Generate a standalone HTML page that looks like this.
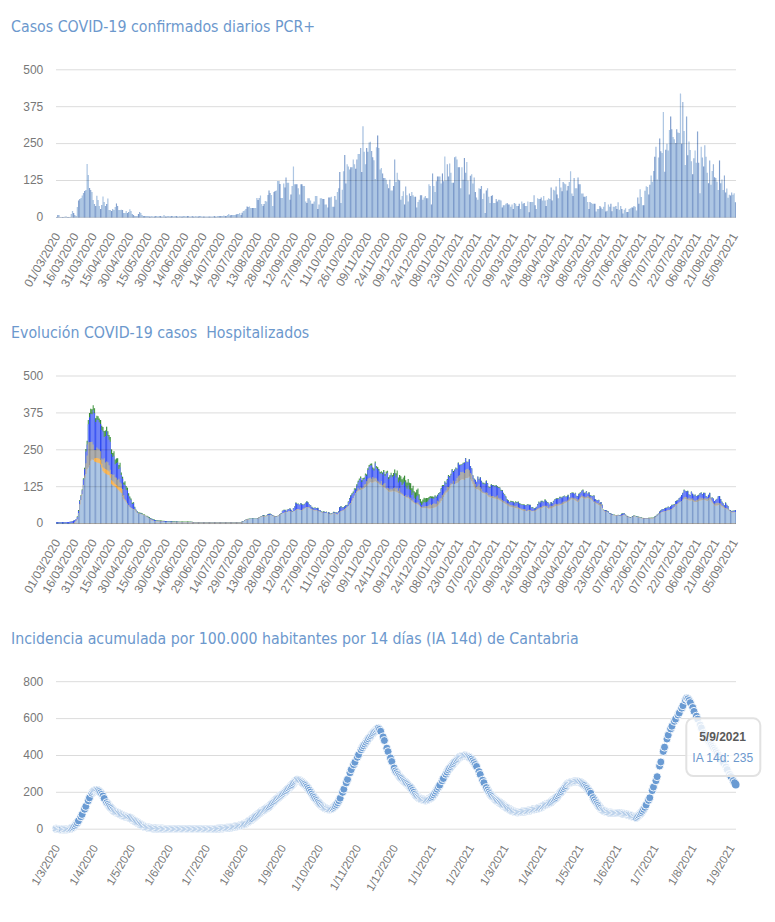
<!DOCTYPE html>
<html><head><meta charset="utf-8"><title>COVID-19 Cantabria</title>
<style>html,body{margin:0;padding:0;background:#fff;}body{width:775px;height:922px;overflow:hidden;}svg{display:block;}</style>
</head><body>
<svg width="775" height="922" viewBox="0 0 775 922">
<rect width="775" height="922" fill="#ffffff"/>
<defs><pattern id="stripes" patternUnits="userSpaceOnUse" x="7.700" y="0" width="5.43" height="922"><rect x="0" y="0" width="1.4" height="922" fill="rgba(20,60,150,0.33)"/></pattern><pattern id="sBlue" patternUnits="userSpaceOnUse" x="7.700" y="0" width="5.43" height="922"><rect x="0" y="0" width="1.4" height="922" fill="rgba(25,55,240,0.75)"/></pattern><pattern id="sGreen" patternUnits="userSpaceOnUse" x="7.700" y="0" width="5.43" height="922"><rect x="0" y="0" width="1.4" height="922" fill="rgba(30,120,30,0.6)"/></pattern><pattern id="sGrey" patternUnits="userSpaceOnUse" x="7.700" y="0" width="5.43" height="922"><rect x="0" y="0" width="1.4" height="922" fill="rgba(110,110,110,0.45)"/></pattern><pattern id="sOrange" patternUnits="userSpaceOnUse" x="7.700" y="0" width="5.43" height="922"><rect x="0" y="0" width="1.4" height="922" fill="rgba(235,150,30,0.5)"/></pattern></defs>
<text x="11.1" y="31.6" font-family="'DejaVu Sans Condensed','DejaVu Sans',sans-serif" font-size="15.77" fill="#6c98cd" style="white-space:pre;font-stretch:condensed">Casos COVID-19 confirmados diarios PCR+</text>
<path d="M56,217.4V217H57.22V215H58.44V215H59.66V217H60.88V217H62.1V217H63.32V217H64.55V216.5H65.77V216.5H66.99V217H68.21V217H69.43V217H70.65V214H71.87V211H73.09V213H74.31V215H75.53V216H76.75V207H77.97V200.6H79.2V199H80.42V198H81.64V195.5H82.86V193H84.08V191H85.3V190H86.52V164.1H87.74V175H88.96V188H90.18V190H91.4V192H92.62V200H93.85V204H95.07V206H96.29V195.7H97.51V200H98.73V206H99.95V209H101.17V205H102.39V196.4H103.61V202H104.83V206H106.05V204H107.27V198.5H108.5V210H109.72V210H110.94V211H112.16V209H113.38V210H114.6V207H115.82V203.6H117.04V206H118.26V210H119.48V210H120.7V209.7H121.92V210H123.15V213H124.37V213H125.59V211H126.81V213H128.03V212H129.25V209.3H130.47V211H131.69V214H132.91V215H134.13V216H135.35V216H136.57V216H137.8V214H139.02V212H140.24V213H141.46V215H142.68V216H143.9V216H145.12V216H146.34V216H147.56V216H148.78V216.5H150V216.5H151.22V216H152.45V216.5H153.67V216.5H154.89V216H156.11V216H157.33V216.5H158.55V216H159.77V216H160.99V216.5H162.21V216.5H163.43V215H164.65V216.5H165.87V216.5H167.1V216H168.32V216H169.54V216.5H170.76V216H171.98V216H173.2V216.5H174.42V216H175.64V216H176.86V216.5H178.08V216.5H179.3V216H180.52V216.5H181.75V216.5H182.97V216H184.19V216H185.41V216.5H186.63V216H187.85V216H189.07V216.5H190.29V216.5H191.51V216H192.73V216.5H193.95V216.5H195.17V216H196.39V216.5H197.62V216.5H198.84V216H200.06V216H201.28V216.5H202.5V216.5H203.72V216.5H204.94V216.5H206.16V216.5H207.38V216.5H208.6V216.5H209.82V216.5H211.04V216.5H212.27V216.5H213.49V216H214.71V216.5H215.93V216.5H217.15V216H218.37V216H219.59V216H220.81V216H222.03V216H223.25V215.5H224.47V216H225.69V216H226.92V215H228.14V214H229.36V215.5H230.58V215H231.8V215H233.02V215H234.24V215H235.46V214.5H236.68V214H237.9V214H239.12V213H240.34V215H241.57V212.8H242.79V211H244.01V210.4H245.23V209H246.45V206.6H247.67V207H248.89V206.6H250.11V208H251.33V208H252.55V208H253.77V208H254.99V208H256.22V198H257.44V200H258.66V198H259.88V195.4H261.1V204H262.32V206H263.54V204H264.76V201H265.98V201.4H267.2V195H268.42V190.5H269.64V193H270.87V195H272.09V206H273.31V192H274.53V191H275.75V190.5H276.97V181H278.19V181H279.41V184H280.63V198H281.85V198H283.07V183.5H284.29V187.4H285.52V177.4H286.74V182.8H287.96V182.8H289.18V199.8H290.4V194.4H291.62V185.9H292.84V166.5H294.06V184.3H295.28V184.3H296.5V184.3H297.72V188.2H298.94V194.4H300.17V184.3H301.39V184.3H302.61V185.9H303.83V185.9H305.05V201.4H306.27V203H307.49V198.3H308.71V198.3H309.93V200.6H311.15V203.7H312.37V203.7H313.59V201.4H314.82V196H316.04V196H317.26V209H318.48V204.5H319.7V198.3H320.92V198.3H322.14V199H323.36V199H324.58V204.5H325.8V204.5H327.02V207.6H328.24V197.5H329.46V197.5H330.69V196.7H331.91V206.8H333.13V206.8H334.35V196H335.57V199.8H336.79V192H338.01V188.2H339.23V172H340.45V203H341.67V189.7H342.89V171.2H344.11V154.9H345.34V183.5H346.56V164.2H347.78V166.5H349V169.6H350.22V167.3H351.44V167.3H352.66V159.6H353.88V164.2H355.1V168.8H356.32V159.6H357.54V154.1H358.76V154.1H359.99V148H361.21V172H362.43V126.3H363.65V151.8H364.87V164.2H366.09V148H367.31V151.8H368.53V142.5H369.75V141.7H370.97V151H372.19V157.2H373.41V160.3H374.64V178.9H375.86V147.2H377.08V135.5H378.3V147.9H379.52V169.6H380.74V168H381.96V173.5H383.18V178.1H384.4V178H385.62V179.7H386.84V184.3H388.06V188.2H389.29V179.7H390.51V190.5H391.73V190.5H392.95V185.9H394.17V159.6H395.39V182H396.61V172.7H397.83V179.7H399.05V180.5H400.27V199.8H401.49V196H402.71V191.3H403.94V204.5H405.16V186.6H406.38V195.2H407.6V201.4H408.82V193.6H410.04V196H411.26V192H412.48V195.2H413.7V196.7H414.92V196.7H416.14V207.6H417.36V202.1H418.59V199.8H419.81V195.2H421.03V195.2H422.25V199.8H423.47V197.5H424.69V196H425.91V198.3H427.13V198.3H428.35V184.3H429.57V185.9H430.79V204.5H432.01V173.5H433.24V185.9H434.46V192H435.68V181.2H436.9V176.6H438.12V176.6H439.34V176.6H440.56V183.5H441.78V173.5H443V181.2H444.22V156.5H445.44V180.5H446.66V164.2H447.89V176.6H449.11V163.4H450.33V172.7H451.55V182.8H452.77V182.8H453.99V157.2H455.21V156.5H456.43V159.6H457.65V167.3H458.87V167.3H460.09V188.2H461.31V167.3H462.54V179.7H463.76V158H464.98V172.7H466.2V161.9H467.42V180.5H468.64V194.4H469.86V175.8H471.08V174.3H472.3V183.5H473.52V177.4H474.74V192H475.96V197.5H477.18V199.8H478.41V188.2H479.63V189H480.85V185.9H482.07V199H483.29V193.6H484.51V213H485.73V190.5H486.95V188.2H488.17V196.7H489.39V202.9H490.61V196H491.83V195.2H493.06V202.9H494.28V202.9H495.5V199H496.72V201.4H497.94V199.8H499.16V199.8H500.38V200.6H501.6V207.6H502.82V205.2H504.04V205.2H505.26V203.7H506.48V202.9H507.71V204.5H508.93V204.5H510.15V206.8H511.37V204.5H512.59V209.1H513.81V202.9H515.03V203.7H516.25V206H517.47V206H518.69V203.7H519.91V209.1H521.13V201.4H522.36V203.7H523.58V202.9H524.8V206H526.02V206H527.24V201.4H528.46V212.2H529.68V202.1H530.9V202H532.12V202.1H533.34V195.2H534.56V205.2H535.78V209.1H537.01V198.3H538.23V199H539.45V199H540.67V197.5H541.89V200.6H543.11V196H544.33V200.6H545.55V206H546.77V199.8H547.99V198.3H549.21V199H550.43V187.4H551.66V200.6H552.88V189.7H554.1V190.5H555.32V186.6H556.54V194.4H557.76V198.3H558.98V178.1H560.2V187.4H561.42V191.3H562.64V182H563.86V183.5H565.08V184.3H566.31V190.5H567.53V185.9H568.75V182H569.97V171.2H571.19V193.6H572.41V196H573.63V178.1H574.85V188.2H576.07V188.2H577.29V177.4H578.51V184.3H579.73V184.3H580.96V193.6H582.18V193.6H583.4V196.7H584.62V196.7H585.84V196H587.06V202.1H588.28V209.1H589.5V202.1H590.72V202.9H591.94V203.7H593.16V203.7H594.38V203.7H595.61V211.4H596.83V209.1H598.05V209.1H599.27V206H600.49V207.6H601.71V209.1H602.93V206.8H604.15V202.1H605.37V211.4H606.59V210.7H607.81V204.5H609.03V206.8H610.25V203.7H611.48V211.3H612.7V206.8H613.92V206.8H615.14V206H616.36V209H617.58V202.2H618.8V209.8H620.02V206H621.24V209H622.46V213.6H623.68V209.8H624.9V208.3H626.13V212H627.35V212H628.57V209H629.79V208.3H631.01V207.5H632.23V207.5H633.45V206H634.67V206.8H635.89V210.5H637.11V197.6H638.33V203.7H639.55V189.3H640.78V196.9H642V205.2H643.22V205.2H644.44V190.8H645.66V186.3H646.88V187H648.1V194.6H649.32V184.7H650.54V175.6H651.76V181.7H652.98V171.1H654.2V156.7H655.43V146.8H656.65V179.4H657.87V157.4H659.09V138.4H660.31V151.3H661.53V152.9H662.75V111.9H663.97V171.8H665.19V149.8H666.41V143.8H667.63V150.6H668.85V130H670.08V116.4H671.3V129.3H672.52V136.9H673.74V139.2H674.96V143H676.18V129.3H677.4V132.4H678.62V133.1H679.84V93.5H681.06V143.8H682.28V102H683.5V131H684.73V165H685.95V116.5H687.17V155.2H688.39V141.5H689.61V149.9H690.83V161.3H692.05V174.2H693.27V158.2H694.49V150.6H695.71V162.8H696.93V131.6H698.15V162.8H699.38V193.2H700.6V146.8H701.82V157.5H703.04V166.6H704.26V145.3H705.48V156.7H706.7V172.7H707.92V183.3H709.14V160.5H710.36V184.8H711.58V171.1H712.8V164.3H714.03V177.2H715.25V178H716.47V181.8H717.69V190.1H718.91V160.5H720.13V183.3H721.35V179.5H722.57V190.1H723.79V175.4H725.01V192.4H726.23V188.6H727.45V197.7H728.68V194.7H729.9V195.4H731.12V192.4H732.34V194.7H733.56V193.2H734.78V202.3H736V217.4Z" fill="#adc6e3"/>
<path d="M56,217.4V217H57.22V215H58.44V215H59.66V217H60.88V217H62.1V217H63.32V217H64.55V216.5H65.77V216.5H66.99V217H68.21V217H69.43V217H70.65V214H71.87V211H73.09V213H74.31V215H75.53V216H76.75V207H77.97V200.6H79.2V199H80.42V198H81.64V195.5H82.86V193H84.08V191H85.3V190H86.52V164.1H87.74V175H88.96V188H90.18V190H91.4V192H92.62V200H93.85V204H95.07V206H96.29V195.7H97.51V200H98.73V206H99.95V209H101.17V205H102.39V196.4H103.61V202H104.83V206H106.05V204H107.27V198.5H108.5V210H109.72V210H110.94V211H112.16V209H113.38V210H114.6V207H115.82V203.6H117.04V206H118.26V210H119.48V210H120.7V209.7H121.92V210H123.15V213H124.37V213H125.59V211H126.81V213H128.03V212H129.25V209.3H130.47V211H131.69V214H132.91V215H134.13V216H135.35V216H136.57V216H137.8V214H139.02V212H140.24V213H141.46V215H142.68V216H143.9V216H145.12V216H146.34V216H147.56V216H148.78V216.5H150V216.5H151.22V216H152.45V216.5H153.67V216.5H154.89V216H156.11V216H157.33V216.5H158.55V216H159.77V216H160.99V216.5H162.21V216.5H163.43V215H164.65V216.5H165.87V216.5H167.1V216H168.32V216H169.54V216.5H170.76V216H171.98V216H173.2V216.5H174.42V216H175.64V216H176.86V216.5H178.08V216.5H179.3V216H180.52V216.5H181.75V216.5H182.97V216H184.19V216H185.41V216.5H186.63V216H187.85V216H189.07V216.5H190.29V216.5H191.51V216H192.73V216.5H193.95V216.5H195.17V216H196.39V216.5H197.62V216.5H198.84V216H200.06V216H201.28V216.5H202.5V216.5H203.72V216.5H204.94V216.5H206.16V216.5H207.38V216.5H208.6V216.5H209.82V216.5H211.04V216.5H212.27V216.5H213.49V216H214.71V216.5H215.93V216.5H217.15V216H218.37V216H219.59V216H220.81V216H222.03V216H223.25V215.5H224.47V216H225.69V216H226.92V215H228.14V214H229.36V215.5H230.58V215H231.8V215H233.02V215H234.24V215H235.46V214.5H236.68V214H237.9V214H239.12V213H240.34V215H241.57V212.8H242.79V211H244.01V210.4H245.23V209H246.45V206.6H247.67V207H248.89V206.6H250.11V208H251.33V208H252.55V208H253.77V208H254.99V208H256.22V198H257.44V200H258.66V198H259.88V195.4H261.1V204H262.32V206H263.54V204H264.76V201H265.98V201.4H267.2V195H268.42V190.5H269.64V193H270.87V195H272.09V206H273.31V192H274.53V191H275.75V190.5H276.97V181H278.19V181H279.41V184H280.63V198H281.85V198H283.07V183.5H284.29V187.4H285.52V177.4H286.74V182.8H287.96V182.8H289.18V199.8H290.4V194.4H291.62V185.9H292.84V166.5H294.06V184.3H295.28V184.3H296.5V184.3H297.72V188.2H298.94V194.4H300.17V184.3H301.39V184.3H302.61V185.9H303.83V185.9H305.05V201.4H306.27V203H307.49V198.3H308.71V198.3H309.93V200.6H311.15V203.7H312.37V203.7H313.59V201.4H314.82V196H316.04V196H317.26V209H318.48V204.5H319.7V198.3H320.92V198.3H322.14V199H323.36V199H324.58V204.5H325.8V204.5H327.02V207.6H328.24V197.5H329.46V197.5H330.69V196.7H331.91V206.8H333.13V206.8H334.35V196H335.57V199.8H336.79V192H338.01V188.2H339.23V172H340.45V203H341.67V189.7H342.89V171.2H344.11V154.9H345.34V183.5H346.56V164.2H347.78V166.5H349V169.6H350.22V167.3H351.44V167.3H352.66V159.6H353.88V164.2H355.1V168.8H356.32V159.6H357.54V154.1H358.76V154.1H359.99V148H361.21V172H362.43V126.3H363.65V151.8H364.87V164.2H366.09V148H367.31V151.8H368.53V142.5H369.75V141.7H370.97V151H372.19V157.2H373.41V160.3H374.64V178.9H375.86V147.2H377.08V135.5H378.3V147.9H379.52V169.6H380.74V168H381.96V173.5H383.18V178.1H384.4V178H385.62V179.7H386.84V184.3H388.06V188.2H389.29V179.7H390.51V190.5H391.73V190.5H392.95V185.9H394.17V159.6H395.39V182H396.61V172.7H397.83V179.7H399.05V180.5H400.27V199.8H401.49V196H402.71V191.3H403.94V204.5H405.16V186.6H406.38V195.2H407.6V201.4H408.82V193.6H410.04V196H411.26V192H412.48V195.2H413.7V196.7H414.92V196.7H416.14V207.6H417.36V202.1H418.59V199.8H419.81V195.2H421.03V195.2H422.25V199.8H423.47V197.5H424.69V196H425.91V198.3H427.13V198.3H428.35V184.3H429.57V185.9H430.79V204.5H432.01V173.5H433.24V185.9H434.46V192H435.68V181.2H436.9V176.6H438.12V176.6H439.34V176.6H440.56V183.5H441.78V173.5H443V181.2H444.22V156.5H445.44V180.5H446.66V164.2H447.89V176.6H449.11V163.4H450.33V172.7H451.55V182.8H452.77V182.8H453.99V157.2H455.21V156.5H456.43V159.6H457.65V167.3H458.87V167.3H460.09V188.2H461.31V167.3H462.54V179.7H463.76V158H464.98V172.7H466.2V161.9H467.42V180.5H468.64V194.4H469.86V175.8H471.08V174.3H472.3V183.5H473.52V177.4H474.74V192H475.96V197.5H477.18V199.8H478.41V188.2H479.63V189H480.85V185.9H482.07V199H483.29V193.6H484.51V213H485.73V190.5H486.95V188.2H488.17V196.7H489.39V202.9H490.61V196H491.83V195.2H493.06V202.9H494.28V202.9H495.5V199H496.72V201.4H497.94V199.8H499.16V199.8H500.38V200.6H501.6V207.6H502.82V205.2H504.04V205.2H505.26V203.7H506.48V202.9H507.71V204.5H508.93V204.5H510.15V206.8H511.37V204.5H512.59V209.1H513.81V202.9H515.03V203.7H516.25V206H517.47V206H518.69V203.7H519.91V209.1H521.13V201.4H522.36V203.7H523.58V202.9H524.8V206H526.02V206H527.24V201.4H528.46V212.2H529.68V202.1H530.9V202H532.12V202.1H533.34V195.2H534.56V205.2H535.78V209.1H537.01V198.3H538.23V199H539.45V199H540.67V197.5H541.89V200.6H543.11V196H544.33V200.6H545.55V206H546.77V199.8H547.99V198.3H549.21V199H550.43V187.4H551.66V200.6H552.88V189.7H554.1V190.5H555.32V186.6H556.54V194.4H557.76V198.3H558.98V178.1H560.2V187.4H561.42V191.3H562.64V182H563.86V183.5H565.08V184.3H566.31V190.5H567.53V185.9H568.75V182H569.97V171.2H571.19V193.6H572.41V196H573.63V178.1H574.85V188.2H576.07V188.2H577.29V177.4H578.51V184.3H579.73V184.3H580.96V193.6H582.18V193.6H583.4V196.7H584.62V196.7H585.84V196H587.06V202.1H588.28V209.1H589.5V202.1H590.72V202.9H591.94V203.7H593.16V203.7H594.38V203.7H595.61V211.4H596.83V209.1H598.05V209.1H599.27V206H600.49V207.6H601.71V209.1H602.93V206.8H604.15V202.1H605.37V211.4H606.59V210.7H607.81V204.5H609.03V206.8H610.25V203.7H611.48V211.3H612.7V206.8H613.92V206.8H615.14V206H616.36V209H617.58V202.2H618.8V209.8H620.02V206H621.24V209H622.46V213.6H623.68V209.8H624.9V208.3H626.13V212H627.35V212H628.57V209H629.79V208.3H631.01V207.5H632.23V207.5H633.45V206H634.67V206.8H635.89V210.5H637.11V197.6H638.33V203.7H639.55V189.3H640.78V196.9H642V205.2H643.22V205.2H644.44V190.8H645.66V186.3H646.88V187H648.1V194.6H649.32V184.7H650.54V175.6H651.76V181.7H652.98V171.1H654.2V156.7H655.43V146.8H656.65V179.4H657.87V157.4H659.09V138.4H660.31V151.3H661.53V152.9H662.75V111.9H663.97V171.8H665.19V149.8H666.41V143.8H667.63V150.6H668.85V130H670.08V116.4H671.3V129.3H672.52V136.9H673.74V139.2H674.96V143H676.18V129.3H677.4V132.4H678.62V133.1H679.84V93.5H681.06V143.8H682.28V102H683.5V131H684.73V165H685.95V116.5H687.17V155.2H688.39V141.5H689.61V149.9H690.83V161.3H692.05V174.2H693.27V158.2H694.49V150.6H695.71V162.8H696.93V131.6H698.15V162.8H699.38V193.2H700.6V146.8H701.82V157.5H703.04V166.6H704.26V145.3H705.48V156.7H706.7V172.7H707.92V183.3H709.14V160.5H710.36V184.8H711.58V171.1H712.8V164.3H714.03V177.2H715.25V178H716.47V181.8H717.69V190.1H718.91V160.5H720.13V183.3H721.35V179.5H722.57V190.1H723.79V175.4H725.01V192.4H726.23V188.6H727.45V197.7H728.68V194.7H729.9V195.4H731.12V192.4H732.34V194.7H733.56V193.2H734.78V202.3H736V217.4Z" fill="url(#stripes)"/>
<line x1="56" y1="69.8" x2="736" y2="69.8" stroke="rgba(0,0,0,0.14)" stroke-width="1"/>
<line x1="56" y1="106.7" x2="736" y2="106.7" stroke="rgba(0,0,0,0.14)" stroke-width="1"/>
<line x1="56" y1="143.6" x2="736" y2="143.6" stroke="rgba(0,0,0,0.14)" stroke-width="1"/>
<line x1="56" y1="180.5" x2="736" y2="180.5" stroke="rgba(0,0,0,0.14)" stroke-width="1"/>
<line x1="56" y1="217.4" x2="736" y2="217.4" stroke="rgba(0,0,0,0.14)" stroke-width="1"/>
<text x="43.3" y="73.6" text-anchor="end" font-family="'Liberation Sans',Arial,sans-serif" font-size="12" fill="#787878">500</text>
<text x="43.3" y="110.5" text-anchor="end" font-family="'Liberation Sans',Arial,sans-serif" font-size="12" fill="#787878">375</text>
<text x="43.3" y="147.4" text-anchor="end" font-family="'Liberation Sans',Arial,sans-serif" font-size="12" fill="#787878">250</text>
<text x="43.3" y="184.3" text-anchor="end" font-family="'Liberation Sans',Arial,sans-serif" font-size="12" fill="#787878">125</text>
<text x="43.3" y="221.2" text-anchor="end" font-family="'Liberation Sans',Arial,sans-serif" font-size="12" fill="#787878">0</text>
<text transform="translate(60.8,236) rotate(-60)" text-anchor="end" font-family="'Liberation Sans',Arial,sans-serif" font-size="12" fill="#787878">01/03/2020</text>
<text transform="translate(79.11,236) rotate(-60)" text-anchor="end" font-family="'Liberation Sans',Arial,sans-serif" font-size="12" fill="#787878">16/03/2020</text>
<text transform="translate(97.42,236) rotate(-60)" text-anchor="end" font-family="'Liberation Sans',Arial,sans-serif" font-size="12" fill="#787878">31/03/2020</text>
<text transform="translate(115.73,236) rotate(-60)" text-anchor="end" font-family="'Liberation Sans',Arial,sans-serif" font-size="12" fill="#787878">15/04/2020</text>
<text transform="translate(134.04,236) rotate(-60)" text-anchor="end" font-family="'Liberation Sans',Arial,sans-serif" font-size="12" fill="#787878">30/04/2020</text>
<text transform="translate(152.35,236) rotate(-60)" text-anchor="end" font-family="'Liberation Sans',Arial,sans-serif" font-size="12" fill="#787878">15/05/2020</text>
<text transform="translate(170.66,236) rotate(-60)" text-anchor="end" font-family="'Liberation Sans',Arial,sans-serif" font-size="12" fill="#787878">30/05/2020</text>
<text transform="translate(188.97,236) rotate(-60)" text-anchor="end" font-family="'Liberation Sans',Arial,sans-serif" font-size="12" fill="#787878">14/06/2020</text>
<text transform="translate(207.28,236) rotate(-60)" text-anchor="end" font-family="'Liberation Sans',Arial,sans-serif" font-size="12" fill="#787878">29/06/2020</text>
<text transform="translate(225.59,236) rotate(-60)" text-anchor="end" font-family="'Liberation Sans',Arial,sans-serif" font-size="12" fill="#787878">14/07/2020</text>
<text transform="translate(243.9,236) rotate(-60)" text-anchor="end" font-family="'Liberation Sans',Arial,sans-serif" font-size="12" fill="#787878">29/07/2020</text>
<text transform="translate(262.21,236) rotate(-60)" text-anchor="end" font-family="'Liberation Sans',Arial,sans-serif" font-size="12" fill="#787878">13/08/2020</text>
<text transform="translate(280.52,236) rotate(-60)" text-anchor="end" font-family="'Liberation Sans',Arial,sans-serif" font-size="12" fill="#787878">28/08/2020</text>
<text transform="translate(298.83,236) rotate(-60)" text-anchor="end" font-family="'Liberation Sans',Arial,sans-serif" font-size="12" fill="#787878">12/09/2020</text>
<text transform="translate(317.14,236) rotate(-60)" text-anchor="end" font-family="'Liberation Sans',Arial,sans-serif" font-size="12" fill="#787878">27/09/2020</text>
<text transform="translate(335.45,236) rotate(-60)" text-anchor="end" font-family="'Liberation Sans',Arial,sans-serif" font-size="12" fill="#787878">11/10/2020</text>
<text transform="translate(353.76,236) rotate(-60)" text-anchor="end" font-family="'Liberation Sans',Arial,sans-serif" font-size="12" fill="#787878">26/10/2020</text>
<text transform="translate(372.07,236) rotate(-60)" text-anchor="end" font-family="'Liberation Sans',Arial,sans-serif" font-size="12" fill="#787878">09/11/2020</text>
<text transform="translate(390.38,236) rotate(-60)" text-anchor="end" font-family="'Liberation Sans',Arial,sans-serif" font-size="12" fill="#787878">24/11/2020</text>
<text transform="translate(408.69,236) rotate(-60)" text-anchor="end" font-family="'Liberation Sans',Arial,sans-serif" font-size="12" fill="#787878">09/12/2020</text>
<text transform="translate(427,236) rotate(-60)" text-anchor="end" font-family="'Liberation Sans',Arial,sans-serif" font-size="12" fill="#787878">24/12/2020</text>
<text transform="translate(445.31,236) rotate(-60)" text-anchor="end" font-family="'Liberation Sans',Arial,sans-serif" font-size="12" fill="#787878">08/01/2021</text>
<text transform="translate(463.62,236) rotate(-60)" text-anchor="end" font-family="'Liberation Sans',Arial,sans-serif" font-size="12" fill="#787878">23/01/2021</text>
<text transform="translate(481.93,236) rotate(-60)" text-anchor="end" font-family="'Liberation Sans',Arial,sans-serif" font-size="12" fill="#787878">07/02/2021</text>
<text transform="translate(500.24,236) rotate(-60)" text-anchor="end" font-family="'Liberation Sans',Arial,sans-serif" font-size="12" fill="#787878">22/02/2021</text>
<text transform="translate(518.55,236) rotate(-60)" text-anchor="end" font-family="'Liberation Sans',Arial,sans-serif" font-size="12" fill="#787878">09/03/2021</text>
<text transform="translate(536.86,236) rotate(-60)" text-anchor="end" font-family="'Liberation Sans',Arial,sans-serif" font-size="12" fill="#787878">24/03/2021</text>
<text transform="translate(555.17,236) rotate(-60)" text-anchor="end" font-family="'Liberation Sans',Arial,sans-serif" font-size="12" fill="#787878">08/04/2021</text>
<text transform="translate(573.48,236) rotate(-60)" text-anchor="end" font-family="'Liberation Sans',Arial,sans-serif" font-size="12" fill="#787878">23/04/2021</text>
<text transform="translate(591.79,236) rotate(-60)" text-anchor="end" font-family="'Liberation Sans',Arial,sans-serif" font-size="12" fill="#787878">08/05/2021</text>
<text transform="translate(610.1,236) rotate(-60)" text-anchor="end" font-family="'Liberation Sans',Arial,sans-serif" font-size="12" fill="#787878">23/05/2021</text>
<text transform="translate(628.41,236) rotate(-60)" text-anchor="end" font-family="'Liberation Sans',Arial,sans-serif" font-size="12" fill="#787878">07/06/2021</text>
<text transform="translate(646.72,236) rotate(-60)" text-anchor="end" font-family="'Liberation Sans',Arial,sans-serif" font-size="12" fill="#787878">22/06/2021</text>
<text transform="translate(665.03,236) rotate(-60)" text-anchor="end" font-family="'Liberation Sans',Arial,sans-serif" font-size="12" fill="#787878">07/07/2021</text>
<text transform="translate(683.34,236) rotate(-60)" text-anchor="end" font-family="'Liberation Sans',Arial,sans-serif" font-size="12" fill="#787878">22/07/2021</text>
<text transform="translate(701.65,236) rotate(-60)" text-anchor="end" font-family="'Liberation Sans',Arial,sans-serif" font-size="12" fill="#787878">06/08/2021</text>
<text transform="translate(719.96,236) rotate(-60)" text-anchor="end" font-family="'Liberation Sans',Arial,sans-serif" font-size="12" fill="#787878">21/08/2021</text>
<text transform="translate(738.27,236) rotate(-60)" text-anchor="end" font-family="'Liberation Sans',Arial,sans-serif" font-size="12" fill="#787878">05/09/2021</text>
<text x="11.1" y="337.7" font-family="'DejaVu Sans Condensed','DejaVu Sans',sans-serif" font-size="15.77" fill="#6c98cd" style="white-space:pre;font-stretch:condensed">Evolución COVID-19 casos  Hospitalizados</text>
<path d="M56,523.6V522.3H57.22V522.3H58.44V522.3H59.66V522.29H60.88V522.27H62.1V522.25H63.32V522.22H64.55V522.19H65.77V522.09H66.99V521.99H68.21V521.89H69.43V521.79H70.65V521.46H71.87V521.14H73.09V520.65H74.31V520.04H75.53V519.12H76.75V516.22H77.97V509.96H79.2V499.94H80.42V494.97H81.64V489.3H82.86V478.2H84.08V467.72H85.3V448.97H86.52V440.7H87.74V419.95H88.96V412.95H90.18V408.87H91.4V409.31H92.62V405.36H93.85V408.33H95.07V418.22H96.29V415.64H97.51V416.24H98.73V418.39H99.95V419.94H101.17V425.74H102.39V426.99H103.61V431.01H104.83V430.59H106.05V426.77H107.27V431.17H108.5V434.96H109.72V436.95H110.94V449.39H112.16V453.02H113.38V451.25H114.6V459.52H115.82V458.57H117.04V458.31H118.26V464.89H119.48V462.85H120.7V472.45H121.92V476.85H123.15V482.56H124.37V481.23H125.59V485.91H126.81V487.71H128.03V493.3H129.25V496.49H130.47V498.43H131.69V502.76H132.91V502.27H134.13V506.69H135.35V509.6H136.57V511.03H137.8V512.42H139.02V512.5H140.24V512.73H141.46V513.1H142.68V514.39H143.9V514.46H145.12V515.71H146.34V515.78H147.56V516.62H148.78V517.37H150V517.92H151.22V518.46H152.45V518.97H153.67V519.43H154.89V519.9H156.11V520.23H157.33V520.32H158.55V520.41H159.77V520.5H160.99V520.59H162.21V520.71H163.43V520.82H164.65V520.94H165.87V521.05H167.1V521.13H168.32V521.17H169.54V521.21H170.76V521.26H171.98V521.3H173.2V521.33H174.42V521.37H175.64V521.4H176.86V521.43H178.08V521.47H179.3V521.5H180.52V521.5H181.75V521.5H182.97V521.5H184.19V521.5H185.41V521.5H186.63V521.5H187.85V521.5H189.07V521.5H190.29V521.56H191.51V521.81H192.73V522.06H193.95V522.2H195.17V522.2H196.39V522.2H197.62V522.2H198.84V522.2H200.06V522.2H201.28V522.2H202.5V522.2H203.72V522.2H204.94V522.2H206.16V522.2H207.38V522.2H208.6V522.2H209.82V522.2H211.04V522.2H212.27V522.2H213.49V522.2H214.71V522.2H215.93V522.2H217.15V522.2H218.37V522.2H219.59V522.2H220.81V522.2H222.03V522.2H223.25V522.2H224.47V522.2H225.69V522.2H226.92V522.2H228.14V522.2H229.36V522.2H230.58V522.2H231.8V522.2H233.02V522.2H234.24V522.2H235.46V522.2H236.68V522.2H237.9V522.2H239.12V522.2H240.34V522.2H241.57V521.55H242.79V520.88H244.01V520.2H245.23V519.52H246.45V519.01H247.67V518.75H248.89V518.5H250.11V518.4H251.33V518.4H252.55V518.4H253.77V518.4H254.99V518.4H256.22V518.4H257.44V517.95H258.66V517.11H259.88V516.41H261.1V515.93H262.32V515.1H263.54V515.34H264.76V515.69H265.98V515.45H267.2V514H268.42V513.85H269.64V513.5H270.87V514.25H272.09V514.97H273.31V515.63H274.53V515.92H275.75V516.22H276.97V515.63H278.19V514.89H279.41V514.04H280.63V513.06H281.85V510.57H283.07V509.67H284.29V509.84H285.52V511.18H286.74V509.42H287.96V508.94H289.18V508.26H290.4V509.85H291.62V511.08H292.84V507.96H294.06V506.34H295.28V502.59H296.5V503.74H297.72V503.38H298.94V504.44H300.17V503.09H301.39V504.31H302.61V504.46H303.83V503.66H305.05V502.56H306.27V501.35H307.49V502.34H308.71V504.27H309.93V504.88H311.15V506.8H312.37V508.26H313.59V507.54H314.82V507.51H316.04V507.99H317.26V507.86H318.48V509.88H319.7V510.03H320.92V511.36H322.14V511.72H323.36V511.37H324.58V511.98H325.8V511.59H327.02V512.8H328.24V512.3H329.46V513.6H330.69V513.29H331.91V512.84H333.13V511.83H334.35V512.49H335.57V512.24H336.79V512.52H338.01V511.02H339.23V507.01H340.45V506.03H341.67V507.28H342.89V507.09H344.11V506.25H345.34V504.98H346.56V504.86H347.78V501.16H349V497.91H350.22V495.35H351.44V493.18H352.66V491.49H353.88V488.21H355.1V488.45H356.32V484.16H357.54V480.63H358.76V478.43H359.99V476.43H361.21V480.3H362.43V478.05H363.65V477.39H364.87V473.6H366.09V474.44H367.31V468.27H368.53V464.95H369.75V463.73H370.97V463.6H372.19V467.51H373.41V468.58H374.64V461.38H375.86V466.09H377.08V467.26H378.3V469.04H379.52V472.07H380.74V471.17H381.96V472.61H383.18V470.12H384.4V474H385.62V471.62H386.84V470.64H388.06V477.14H389.29V475.37H390.51V472.84H391.73V474.9H392.95V472.9H394.17V469.44H395.39V473.13H396.61V470.57H397.83V477.49H399.05V475.11H400.27V476.31H401.49V479.27H402.71V477.57H403.94V475.82H405.16V480.24H406.38V482.38H407.6V478.91H408.82V482.79H410.04V483.33H411.26V488.24H412.48V485.74H413.7V491.16H414.92V492.53H416.14V489.73H417.36V488.6H418.59V494.17H419.81V498.94H421.03V501.39H422.25V499.53H423.47V497.75H424.69V498.37H425.91V498.06H427.13V497.92H428.35V497.04H429.57V496.07H430.79V496.6H432.01V496.62H433.24V496.85H434.46V495.15H435.68V496.56H436.9V494.84H438.12V492.91H439.34V491.9H440.56V488H441.78V485.21H443V484.96H444.22V481.36H445.44V482.75H446.66V478.94H447.89V475.04H449.11V476.11H450.33V473.69H451.55V469.08H452.77V470.98H453.99V469.6H455.21V467.38H456.43V468.45H457.65V462.62H458.87V464.64H460.09V464.61H461.31V464.17H462.54V462.73H463.76V462.41H464.98V458H466.2V461.42H467.42V461.7H468.64V459.14H469.86V465.92H471.08V468.25H472.3V475.18H473.52V478.6H474.74V479.85H475.96V481.68H477.18V476.44H478.41V479.3H479.63V477.24H480.85V480.83H482.07V482.61H483.29V482.87H484.51V483.56H485.73V480.49H486.95V483.05H488.17V486.52H489.39V487.12H490.61V484.22H491.83V485H493.06V484.89H494.28V485.65H495.5V484.9H496.72V486.35H497.94V486.91H499.16V487.24H500.38V489.81H501.6V489.92H502.82V492.65H504.04V494.29H505.26V496.37H506.48V499.26H507.71V500.16H508.93V501.7H510.15V500.79H511.37V500.93H512.59V501.43H513.81V502.59H515.03V501.33H516.25V502.06H517.47V501.51H518.69V503.36H519.91V503.49H521.13V504.13H522.36V504.24H523.58V504.47H524.8V505.15H526.02V504.75H527.24V504.08H528.46V504.65H529.68V504.72H530.9V507.19H532.12V506.93H533.34V508.62H534.56V508.02H535.78V506.64H537.01V504.11H538.23V501.48H539.45V502.7H540.67V500.81H541.89V500.83H543.11V501.54H544.33V499.29H545.55V500.83H546.77V501.9H547.99V502.56H549.21V504.41H550.43V502.05H551.66V503.31H552.88V500.83H554.1V499.22H555.32V498.55H556.54V498.18H557.76V498.37H558.98V496.81H560.2V496.85H561.42V497.68H562.64V496.24H563.86V495.5H565.08V496.39H566.31V496.37H567.53V494.84H568.75V497.55H569.97V492.91H571.19V492.38H572.41V492.49H573.63V493.7H574.85V492.64H576.07V495.78H577.29V496.02H578.51V493.55H579.73V492.28H580.96V490.47H582.18V489.48H583.4V492.8H584.62V492.48H585.84V491H587.06V493.47H588.28V492.25H589.5V494.94H590.72V495.45H591.94V495.74H593.16V495.32H594.38V498.93H595.61V499.69H596.83V500.34H598.05V499.69H599.27V502.92H600.49V501.93H601.71V504.59H602.93V509.52H604.15V509.95H605.37V509.92H606.59V510.75H607.81V511.26H609.03V512.98H610.25V513.43H611.48V514.01H612.7V514.48H613.92V514.59H615.14V515.13H616.36V514.96H617.58V514.72H618.8V515.17H620.02V514.68H621.24V513.61H622.46V513.24H623.68V512.88H624.9V514.48H626.13V515.66H627.35V516.45H628.57V516.78H629.79V517.12H631.01V516.74H632.23V516.13H633.45V515.36H634.67V515.79H635.89V516.08H637.11V516.39H638.33V516.71H639.55V517.03H640.78V517.34H642V517.63H643.22V517.91H644.44V518H645.66V518H646.88V518H648.1V517.85H649.32V517.71H650.54V517.6H651.76V517.6H652.98V517.53H654.2V516.61H655.43V515.7H656.65V514.46H657.87V513.49H659.09V511.48H660.31V510.36H661.53V508.96H662.75V508.96H663.97V508.35H665.19V507.72H666.41V507.54H667.63V506.39H668.85V507.14H670.08V506.2H671.3V504.77H672.52V504.52H673.74V504.04H674.96V501.01H676.18V500.53H677.4V499.7H678.62V497.95H679.84V496.69H681.06V495.04H682.28V492.63H683.5V489.62H684.73V490.72H685.95V491.23H687.17V490.77H688.39V494.27H689.61V495.09H690.83V491.39H692.05V493.64H693.27V495.55H694.49V494.4H695.71V495.93H696.93V495.6H698.15V494.73H699.38V493.06H700.6V492.33H701.82V493.99H703.04V492.72H704.26V492.82H705.48V496.01H706.7V496.72H707.92V494.77H709.14V492.7H710.36V497.68H711.58V497.26H712.8V498.38H714.03V500.93H715.25V499.7H716.47V498.7H717.69V496.2H718.91V495.97H720.13V498.92H721.35V501.58H722.57V503.28H723.79V505.24H725.01V502.59H726.23V504.65H727.45V506.11H728.68V509.7H729.9V510.19H731.12V511.27H732.34V510.58H733.56V510.42H734.78V509.98H736V523.6Z" fill="#5ea65e"/>
<path d="M56,523.6V522.3H57.22V522.3H58.44V522.3H59.66V522.29H60.88V522.27H62.1V522.25H63.32V522.22H64.55V522.19H65.77V522.09H66.99V521.99H68.21V521.89H69.43V521.79H70.65V521.46H71.87V521.14H73.09V520.65H74.31V520.04H75.53V519.12H76.75V516.22H77.97V509.96H79.2V499.94H80.42V494.97H81.64V489.3H82.86V478.2H84.08V467.72H85.3V448.97H86.52V440.7H87.74V419.95H88.96V412.95H90.18V408.87H91.4V409.31H92.62V405.36H93.85V408.33H95.07V418.22H96.29V415.64H97.51V416.24H98.73V418.39H99.95V419.94H101.17V425.74H102.39V426.99H103.61V431.01H104.83V430.59H106.05V426.77H107.27V431.17H108.5V434.96H109.72V436.95H110.94V449.39H112.16V453.02H113.38V451.25H114.6V459.52H115.82V458.57H117.04V458.31H118.26V464.89H119.48V462.85H120.7V472.45H121.92V476.85H123.15V482.56H124.37V481.23H125.59V485.91H126.81V487.71H128.03V493.3H129.25V496.49H130.47V498.43H131.69V502.76H132.91V502.27H134.13V506.69H135.35V509.6H136.57V511.03H137.8V512.42H139.02V512.5H140.24V512.73H141.46V513.1H142.68V514.39H143.9V514.46H145.12V515.71H146.34V515.78H147.56V516.62H148.78V517.37H150V517.92H151.22V518.46H152.45V518.97H153.67V519.43H154.89V519.9H156.11V520.23H157.33V520.32H158.55V520.41H159.77V520.5H160.99V520.59H162.21V520.71H163.43V520.82H164.65V520.94H165.87V521.05H167.1V521.13H168.32V521.17H169.54V521.21H170.76V521.26H171.98V521.3H173.2V521.33H174.42V521.37H175.64V521.4H176.86V521.43H178.08V521.47H179.3V521.5H180.52V521.5H181.75V521.5H182.97V521.5H184.19V521.5H185.41V521.5H186.63V521.5H187.85V521.5H189.07V521.5H190.29V521.56H191.51V521.81H192.73V522.06H193.95V522.2H195.17V522.2H196.39V522.2H197.62V522.2H198.84V522.2H200.06V522.2H201.28V522.2H202.5V522.2H203.72V522.2H204.94V522.2H206.16V522.2H207.38V522.2H208.6V522.2H209.82V522.2H211.04V522.2H212.27V522.2H213.49V522.2H214.71V522.2H215.93V522.2H217.15V522.2H218.37V522.2H219.59V522.2H220.81V522.2H222.03V522.2H223.25V522.2H224.47V522.2H225.69V522.2H226.92V522.2H228.14V522.2H229.36V522.2H230.58V522.2H231.8V522.2H233.02V522.2H234.24V522.2H235.46V522.2H236.68V522.2H237.9V522.2H239.12V522.2H240.34V522.2H241.57V521.55H242.79V520.88H244.01V520.2H245.23V519.52H246.45V519.01H247.67V518.75H248.89V518.5H250.11V518.4H251.33V518.4H252.55V518.4H253.77V518.4H254.99V518.4H256.22V518.4H257.44V517.95H258.66V517.11H259.88V516.41H261.1V515.93H262.32V515.1H263.54V515.34H264.76V515.69H265.98V515.45H267.2V514H268.42V513.85H269.64V513.5H270.87V514.25H272.09V514.97H273.31V515.63H274.53V515.92H275.75V516.22H276.97V515.63H278.19V514.89H279.41V514.04H280.63V513.06H281.85V510.57H283.07V509.67H284.29V509.84H285.52V511.18H286.74V509.42H287.96V508.94H289.18V508.26H290.4V509.85H291.62V511.08H292.84V507.96H294.06V506.34H295.28V502.59H296.5V503.74H297.72V503.38H298.94V504.44H300.17V503.09H301.39V504.31H302.61V504.46H303.83V503.66H305.05V502.56H306.27V501.35H307.49V502.34H308.71V504.27H309.93V504.88H311.15V506.8H312.37V508.26H313.59V507.54H314.82V507.51H316.04V507.99H317.26V507.86H318.48V509.88H319.7V510.03H320.92V511.36H322.14V511.72H323.36V511.37H324.58V511.98H325.8V511.59H327.02V512.8H328.24V512.3H329.46V513.6H330.69V513.29H331.91V512.84H333.13V511.83H334.35V512.49H335.57V512.24H336.79V512.52H338.01V511.02H339.23V507.01H340.45V506.03H341.67V507.28H342.89V507.09H344.11V506.25H345.34V504.98H346.56V504.86H347.78V501.16H349V497.91H350.22V495.35H351.44V493.18H352.66V491.49H353.88V488.21H355.1V488.45H356.32V484.16H357.54V480.63H358.76V478.43H359.99V476.43H361.21V480.3H362.43V478.05H363.65V477.39H364.87V473.6H366.09V474.44H367.31V468.27H368.53V464.95H369.75V463.73H370.97V463.6H372.19V467.51H373.41V468.58H374.64V461.38H375.86V466.09H377.08V467.26H378.3V469.04H379.52V472.07H380.74V471.17H381.96V472.61H383.18V470.12H384.4V474H385.62V471.62H386.84V470.64H388.06V477.14H389.29V475.37H390.51V472.84H391.73V474.9H392.95V472.9H394.17V469.44H395.39V473.13H396.61V470.57H397.83V477.49H399.05V475.11H400.27V476.31H401.49V479.27H402.71V477.57H403.94V475.82H405.16V480.24H406.38V482.38H407.6V478.91H408.82V482.79H410.04V483.33H411.26V488.24H412.48V485.74H413.7V491.16H414.92V492.53H416.14V489.73H417.36V488.6H418.59V494.17H419.81V498.94H421.03V501.39H422.25V499.53H423.47V497.75H424.69V498.37H425.91V498.06H427.13V497.92H428.35V497.04H429.57V496.07H430.79V496.6H432.01V496.62H433.24V496.85H434.46V495.15H435.68V496.56H436.9V494.84H438.12V492.91H439.34V491.9H440.56V488H441.78V485.21H443V484.96H444.22V481.36H445.44V482.75H446.66V478.94H447.89V475.04H449.11V476.11H450.33V473.69H451.55V469.08H452.77V470.98H453.99V469.6H455.21V467.38H456.43V468.45H457.65V462.62H458.87V464.64H460.09V464.61H461.31V464.17H462.54V462.73H463.76V462.41H464.98V458H466.2V461.42H467.42V461.7H468.64V459.14H469.86V465.92H471.08V468.25H472.3V475.18H473.52V478.6H474.74V479.85H475.96V481.68H477.18V476.44H478.41V479.3H479.63V477.24H480.85V480.83H482.07V482.61H483.29V482.87H484.51V483.56H485.73V480.49H486.95V483.05H488.17V486.52H489.39V487.12H490.61V484.22H491.83V485H493.06V484.89H494.28V485.65H495.5V484.9H496.72V486.35H497.94V486.91H499.16V487.24H500.38V489.81H501.6V489.92H502.82V492.65H504.04V494.29H505.26V496.37H506.48V499.26H507.71V500.16H508.93V501.7H510.15V500.79H511.37V500.93H512.59V501.43H513.81V502.59H515.03V501.33H516.25V502.06H517.47V501.51H518.69V503.36H519.91V503.49H521.13V504.13H522.36V504.24H523.58V504.47H524.8V505.15H526.02V504.75H527.24V504.08H528.46V504.65H529.68V504.72H530.9V507.19H532.12V506.93H533.34V508.62H534.56V508.02H535.78V506.64H537.01V504.11H538.23V501.48H539.45V502.7H540.67V500.81H541.89V500.83H543.11V501.54H544.33V499.29H545.55V500.83H546.77V501.9H547.99V502.56H549.21V504.41H550.43V502.05H551.66V503.31H552.88V500.83H554.1V499.22H555.32V498.55H556.54V498.18H557.76V498.37H558.98V496.81H560.2V496.85H561.42V497.68H562.64V496.24H563.86V495.5H565.08V496.39H566.31V496.37H567.53V494.84H568.75V497.55H569.97V492.91H571.19V492.38H572.41V492.49H573.63V493.7H574.85V492.64H576.07V495.78H577.29V496.02H578.51V493.55H579.73V492.28H580.96V490.47H582.18V489.48H583.4V492.8H584.62V492.48H585.84V491H587.06V493.47H588.28V492.25H589.5V494.94H590.72V495.45H591.94V495.74H593.16V495.32H594.38V498.93H595.61V499.69H596.83V500.34H598.05V499.69H599.27V502.92H600.49V501.93H601.71V504.59H602.93V509.52H604.15V509.95H605.37V509.92H606.59V510.75H607.81V511.26H609.03V512.98H610.25V513.43H611.48V514.01H612.7V514.48H613.92V514.59H615.14V515.13H616.36V514.96H617.58V514.72H618.8V515.17H620.02V514.68H621.24V513.61H622.46V513.24H623.68V512.88H624.9V514.48H626.13V515.66H627.35V516.45H628.57V516.78H629.79V517.12H631.01V516.74H632.23V516.13H633.45V515.36H634.67V515.79H635.89V516.08H637.11V516.39H638.33V516.71H639.55V517.03H640.78V517.34H642V517.63H643.22V517.91H644.44V518H645.66V518H646.88V518H648.1V517.85H649.32V517.71H650.54V517.6H651.76V517.6H652.98V517.53H654.2V516.61H655.43V515.7H656.65V514.46H657.87V513.49H659.09V511.48H660.31V510.36H661.53V508.96H662.75V508.96H663.97V508.35H665.19V507.72H666.41V507.54H667.63V506.39H668.85V507.14H670.08V506.2H671.3V504.77H672.52V504.52H673.74V504.04H674.96V501.01H676.18V500.53H677.4V499.7H678.62V497.95H679.84V496.69H681.06V495.04H682.28V492.63H683.5V489.62H684.73V490.72H685.95V491.23H687.17V490.77H688.39V494.27H689.61V495.09H690.83V491.39H692.05V493.64H693.27V495.55H694.49V494.4H695.71V495.93H696.93V495.6H698.15V494.73H699.38V493.06H700.6V492.33H701.82V493.99H703.04V492.72H704.26V492.82H705.48V496.01H706.7V496.72H707.92V494.77H709.14V492.7H710.36V497.68H711.58V497.26H712.8V498.38H714.03V500.93H715.25V499.7H716.47V498.7H717.69V496.2H718.91V495.97H720.13V498.92H721.35V501.58H722.57V503.28H723.79V505.24H725.01V502.59H726.23V504.65H727.45V506.11H728.68V509.7H729.9V510.19H731.12V511.27H732.34V510.58H733.56V510.42H734.78V509.98H736V523.6Z" fill="url(#sGreen)"/>
<path d="M56,523.6V522.3H57.22V522.3H58.44V522.3H59.66V522.29H60.88V522.27H62.1V522.25H63.32V522.22H64.55V522.19H65.77V522.09H66.99V521.99H68.21V521.89H69.43V521.79H70.65V521.46H71.87V521.14H73.09V520.65H74.31V520.04H75.53V519.12H76.75V516.95H77.97V510.96H79.2V500.94H80.42V495.9H81.64V490.3H82.86V479.41H84.08V469.22H85.3V451.4H86.52V444.38H87.74V424.31H88.96V417.49H90.18V413.87H91.4V414.3H92.62V410.27H93.85V412.89H95.07V422.02H96.29V419.44H97.51V420.04H98.73V422.19H99.95V424.04H101.17V430.11H102.39V431.54H103.61V436.94H104.83V436.11H106.05V431.57H107.27V436.06H108.5V439.82H109.72V441.66H110.94V454.31H112.16V457.03H113.38V455.75H114.6V464.21H115.82V463.14H117.04V462.59H118.26V469.02H119.48V467.22H120.7V475.07H121.92V478.75H123.15V484.55H124.37V484.99H125.59V489.82H126.81V490.57H128.03V495.75H129.25V498.53H130.47V500.07H131.69V504.02H132.91V503.16H134.13V507.41H135.35V510.15H136.57V511.53H137.8V512.97H139.02V513.14H140.24V513.43H141.46V513.8H142.68V515.04H143.9V515.07H145.12V516.35H146.34V516.48H147.56V517.26H148.78V517.96H150V518.47H151.22V518.98H152.45V519.46H153.67V519.89H154.89V520.32H156.11V520.63H157.33V520.72H158.55V520.81H159.77V520.9H160.99V520.99H162.21V521.08H163.43V521.18H164.65V521.27H165.87V521.36H167.1V521.43H168.32V521.47H169.54V521.51H170.76V521.56H171.98V521.7H173.2V521.73H174.42V521.77H175.64V521.8H176.86V521.83H178.08V521.87H179.3V521.9H180.52V521.9H181.75V521.9H182.97V521.9H184.19V521.9H185.41V521.9H186.63V521.9H187.85V521.9H189.07V521.9H190.29V521.86H191.51V522.11H192.73V522.36H193.95V522.6H195.17V522.6H196.39V522.6H197.62V522.6H198.84V522.6H200.06V522.6H201.28V522.6H202.5V522.6H203.72V522.6H204.94V522.6H206.16V522.6H207.38V522.6H208.6V522.6H209.82V522.6H211.04V522.6H212.27V522.6H213.49V522.6H214.71V522.6H215.93V522.6H217.15V522.6H218.37V522.6H219.59V522.6H220.81V522.6H222.03V522.6H223.25V522.6H224.47V522.6H225.69V522.6H226.92V522.6H228.14V522.6H229.36V522.6H230.58V522.6H231.8V522.6H233.02V522.6H234.24V522.6H235.46V522.6H236.68V522.6H237.9V522.6H239.12V522.6H240.34V522.6H241.57V521.85H242.79V521.18H244.01V520.5H245.23V519.82H246.45V519.31H247.67V519.05H248.89V518.8H250.11V518.8H251.33V518.8H252.55V518.8H253.77V518.8H254.99V518.8H256.22V518.8H257.44V518.25H258.66V517.41H259.88V516.71H261.1V516.23H262.32V515.4H263.54V515.64H264.76V515.99H265.98V515.75H267.2V514.34H268.42V514.22H269.64V513.88H270.87V514.6H272.09V515.29H273.31V515.93H274.53V516.22H275.75V516.52H276.97V515.93H278.19V515.19H279.41V514.34H280.63V513.4H281.85V510.94H283.07V510.06H284.29V510.19H285.52V511.5H286.74V509.74H287.96V509.31H289.18V508.64H290.4V510.18H291.62V511.4H292.84V508.32H294.06V506.77H295.28V503.12H296.5V504.32H297.72V503.92H298.94V504.94H300.17V503.59H301.39V504.81H302.61V504.96H303.83V504.16H305.05V503.06H306.27V501.85H307.49V502.84H308.71V504.77H309.93V505.34H311.15V507.21H312.37V508.66H313.59V507.94H314.82V507.91H316.04V508.39H317.26V508.23H318.48V510.22H319.7V510.33H320.92V511.66H322.14V512.02H323.36V511.67H324.58V512.28H325.8V511.89H327.02V513.1H328.24V512.6H329.46V513.9H330.69V513.59H331.91V513.14H333.13V512.13H334.35V512.79H335.57V512.54H336.79V512.84H338.01V511.41H339.23V507.47H340.45V506.53H341.67V507.78H342.89V507.59H344.11V506.8H345.34V505.6H346.56V505.56H347.78V501.93H349V498.76H350.22V496.28H351.44V494.21H352.66V492.64H353.88V489.48H355.1V489.86H356.32V485.68H357.54V482.2H358.76V480.04H359.99V478.08H361.21V481.98H362.43V479.75H363.65V479.09H364.87V475.3H366.09V476.2H367.31V470.07H368.53V466.75H369.75V465.53H370.97V465.4H372.19V469.31H373.41V470.38H374.64V463.18H375.86V467.89H377.08V469.06H378.3V470.84H379.52V473.87H380.74V472.97H381.96V474.42H383.18V472H384.4V475.95H385.62V473.63H386.84V472.69H388.06V479.23H389.29V477.54H390.51V475.12H391.73V477.29H392.95V476.06H394.17V473.48H395.39V477.59H396.61V475.36H397.83V482.6H399.05V480.48H400.27V481.94H401.49V485.08H402.71V483.42H403.94V481.7H405.16V486.3H406.38V488.74H407.6V485.56H408.82V489.49H410.04V490.03H411.26V494.94H412.48V492.44H413.7V497.86H414.92V499.23H416.14V496.43H417.36V495.3H418.59V499.93H419.81V503.04H421.03V504.92H422.25V503.5H423.47V501.95H424.69V502.57H425.91V502.26H427.13V501.53H428.35V499.77H429.57V498.07H430.79V498.6H432.01V498.62H433.24V498.68H434.46V496.59H435.68V497.63H436.9V495.79H438.12V493.81H439.34V492.8H440.56V488.94H441.78V486.21H443V485.96H444.22V482.36H445.44V483.75H446.66V480.09H447.89V476.34H449.11V477.38H450.33V474.78H451.55V470.08H452.77V471.98H453.99V470.6H455.21V468.21H456.43V469.15H457.65V463.32H458.87V465.34H460.09V465.31H461.31V464.87H462.54V463.43H463.76V463.11H464.98V458.62H466.2V461.92H467.42V462.1H468.64V459.54H469.86V466.25H471.08V468.55H472.3V475.48H473.52V478.9H474.74V480.15H475.96V481.98H477.18V476.74H478.41V479.64H479.63V477.76H480.85V481.52H482.07V483.41H483.29V483.67H484.51V484.36H485.73V481.29H486.95V483.85H488.17V487.32H489.39V487.92H490.61V485.02H491.83V485.8H493.06V485.69H494.28V486.45H495.5V485.7H496.72V487.15H497.94V487.71H499.16V488.07H500.38V490.67H501.6V490.81H502.82V493.52H504.04V495.12H505.26V497.17H506.48V500.06H507.71V500.96H508.93V502.51H510.15V501.64H511.37V501.82H512.59V502.3H513.81V503.43H515.03V502.14H516.25V502.79H517.47V502.18H518.69V503.97H519.91V504.13H521.13V504.81H522.36V504.92H523.58V505.09H524.8V505.71H526.02V505.26H527.24V504.58H528.46V505.15H529.68V505.22H530.9V507.69H532.12V507.43H533.34V509.12H534.56V508.52H535.78V507.21H537.01V504.75H538.23V502.18H539.45V503.4H540.67V501.51H541.89V501.53H543.11V502.24H544.33V499.99H545.55V501.47H546.77V502.46H547.99V503.06H549.21V504.91H550.43V502.55H551.66V503.82H552.88V501.38H554.1V499.81H555.32V499.15H556.54V498.78H557.76V498.97H558.98V497.41H560.2V497.45H561.42V498.28H562.64V496.84H563.86V496.1H565.08V496.99H566.31V496.97H567.53V495.44H568.75V498.15H569.97V493.51H571.19V492.98H572.41V493.06H573.63V494.24H574.85V493.14H576.07V496.28H577.29V496.52H578.51V494.12H579.73V492.93H580.96V491.15H582.18V490.14H583.4V493.42H584.62V493.08H585.84V491.6H587.06V494.07H588.28V492.83H589.5V495.48H590.72V495.94H591.94V496.2H593.16V495.75H594.38V499.33H595.61V500.09H596.83V500.74H598.05V500.09H599.27V503.32H600.49V502.33H601.71V504.99H602.93V509.92H604.15V510.35H605.37V510.32H606.59V511.14H607.81V511.63H609.03V513.31H610.25V513.73H611.48V514.31H612.7V514.78H613.92V514.89H615.14V515.43H616.36V515.26H617.58V515.02H618.8V515.47H620.02V514.98H621.24V513.94H622.46V513.61H623.68V513.27H624.9V514.84H626.13V515.98H627.35V516.75H628.57V517.08H629.79V517.42H631.01V517.04H632.23V516.43H633.45V515.66H634.67V516.09H635.89V516.38H637.11V516.69H638.33V517.01H639.55V517.33H640.78V517.64H642V517.93H643.22V518.21H644.44V518.3H645.66V518.3H646.88V518.3H648.1V518.15H649.32V518.01H650.54V517.9H651.76V517.9H652.98V517.83H654.2V516.91H655.43V516H656.65V514.76H657.87V513.79H659.09V511.81H660.31V510.73H661.53V509.36H662.75V509.36H663.97V508.75H665.19V508.12H666.41V507.94H667.63V506.79H668.85V507.54H670.08V506.6H671.3V505.17H672.52V504.92H673.74V504.44H674.96V501.41H676.18V500.93H677.4V500.1H678.62V498.35H679.84V497.09H681.06V495.44H682.28V493.03H683.5V490.02H684.73V491.12H685.95V491.63H687.17V491.17H688.39V494.67H689.61V495.49H690.83V491.79H692.05V494.04H693.27V495.95H694.49V494.8H695.71V496.33H696.93V496H698.15V495.13H699.38V493.46H700.6V492.73H701.82V494.39H703.04V493.12H704.26V493.22H705.48V496.41H706.7V497.12H707.92V495.17H709.14V493.1H710.36V498.08H711.58V497.66H712.8V498.78H714.03V501.33H715.25V500.1H716.47V499.1H717.69V496.6H718.91V496.37H720.13V499.32H721.35V501.98H722.57V503.68H723.79V505.64H725.01V502.99H726.23V505.04H727.45V506.46H728.68V510H729.9V510.49H731.12V511.57H732.34V510.88H733.56V510.72H734.78V510.28H736V523.6Z" fill="#6f83f7"/>
<path d="M56,523.6V522.3H57.22V522.3H58.44V522.3H59.66V522.29H60.88V522.27H62.1V522.25H63.32V522.22H64.55V522.19H65.77V522.09H66.99V521.99H68.21V521.89H69.43V521.79H70.65V521.46H71.87V521.14H73.09V520.65H74.31V520.04H75.53V519.12H76.75V516.95H77.97V510.96H79.2V500.94H80.42V495.9H81.64V490.3H82.86V479.41H84.08V469.22H85.3V451.4H86.52V444.38H87.74V424.31H88.96V417.49H90.18V413.87H91.4V414.3H92.62V410.27H93.85V412.89H95.07V422.02H96.29V419.44H97.51V420.04H98.73V422.19H99.95V424.04H101.17V430.11H102.39V431.54H103.61V436.94H104.83V436.11H106.05V431.57H107.27V436.06H108.5V439.82H109.72V441.66H110.94V454.31H112.16V457.03H113.38V455.75H114.6V464.21H115.82V463.14H117.04V462.59H118.26V469.02H119.48V467.22H120.7V475.07H121.92V478.75H123.15V484.55H124.37V484.99H125.59V489.82H126.81V490.57H128.03V495.75H129.25V498.53H130.47V500.07H131.69V504.02H132.91V503.16H134.13V507.41H135.35V510.15H136.57V511.53H137.8V512.97H139.02V513.14H140.24V513.43H141.46V513.8H142.68V515.04H143.9V515.07H145.12V516.35H146.34V516.48H147.56V517.26H148.78V517.96H150V518.47H151.22V518.98H152.45V519.46H153.67V519.89H154.89V520.32H156.11V520.63H157.33V520.72H158.55V520.81H159.77V520.9H160.99V520.99H162.21V521.08H163.43V521.18H164.65V521.27H165.87V521.36H167.1V521.43H168.32V521.47H169.54V521.51H170.76V521.56H171.98V521.7H173.2V521.73H174.42V521.77H175.64V521.8H176.86V521.83H178.08V521.87H179.3V521.9H180.52V521.9H181.75V521.9H182.97V521.9H184.19V521.9H185.41V521.9H186.63V521.9H187.85V521.9H189.07V521.9H190.29V521.86H191.51V522.11H192.73V522.36H193.95V522.6H195.17V522.6H196.39V522.6H197.62V522.6H198.84V522.6H200.06V522.6H201.28V522.6H202.5V522.6H203.72V522.6H204.94V522.6H206.16V522.6H207.38V522.6H208.6V522.6H209.82V522.6H211.04V522.6H212.27V522.6H213.49V522.6H214.71V522.6H215.93V522.6H217.15V522.6H218.37V522.6H219.59V522.6H220.81V522.6H222.03V522.6H223.25V522.6H224.47V522.6H225.69V522.6H226.92V522.6H228.14V522.6H229.36V522.6H230.58V522.6H231.8V522.6H233.02V522.6H234.24V522.6H235.46V522.6H236.68V522.6H237.9V522.6H239.12V522.6H240.34V522.6H241.57V521.85H242.79V521.18H244.01V520.5H245.23V519.82H246.45V519.31H247.67V519.05H248.89V518.8H250.11V518.8H251.33V518.8H252.55V518.8H253.77V518.8H254.99V518.8H256.22V518.8H257.44V518.25H258.66V517.41H259.88V516.71H261.1V516.23H262.32V515.4H263.54V515.64H264.76V515.99H265.98V515.75H267.2V514.34H268.42V514.22H269.64V513.88H270.87V514.6H272.09V515.29H273.31V515.93H274.53V516.22H275.75V516.52H276.97V515.93H278.19V515.19H279.41V514.34H280.63V513.4H281.85V510.94H283.07V510.06H284.29V510.19H285.52V511.5H286.74V509.74H287.96V509.31H289.18V508.64H290.4V510.18H291.62V511.4H292.84V508.32H294.06V506.77H295.28V503.12H296.5V504.32H297.72V503.92H298.94V504.94H300.17V503.59H301.39V504.81H302.61V504.96H303.83V504.16H305.05V503.06H306.27V501.85H307.49V502.84H308.71V504.77H309.93V505.34H311.15V507.21H312.37V508.66H313.59V507.94H314.82V507.91H316.04V508.39H317.26V508.23H318.48V510.22H319.7V510.33H320.92V511.66H322.14V512.02H323.36V511.67H324.58V512.28H325.8V511.89H327.02V513.1H328.24V512.6H329.46V513.9H330.69V513.59H331.91V513.14H333.13V512.13H334.35V512.79H335.57V512.54H336.79V512.84H338.01V511.41H339.23V507.47H340.45V506.53H341.67V507.78H342.89V507.59H344.11V506.8H345.34V505.6H346.56V505.56H347.78V501.93H349V498.76H350.22V496.28H351.44V494.21H352.66V492.64H353.88V489.48H355.1V489.86H356.32V485.68H357.54V482.2H358.76V480.04H359.99V478.08H361.21V481.98H362.43V479.75H363.65V479.09H364.87V475.3H366.09V476.2H367.31V470.07H368.53V466.75H369.75V465.53H370.97V465.4H372.19V469.31H373.41V470.38H374.64V463.18H375.86V467.89H377.08V469.06H378.3V470.84H379.52V473.87H380.74V472.97H381.96V474.42H383.18V472H384.4V475.95H385.62V473.63H386.84V472.69H388.06V479.23H389.29V477.54H390.51V475.12H391.73V477.29H392.95V476.06H394.17V473.48H395.39V477.59H396.61V475.36H397.83V482.6H399.05V480.48H400.27V481.94H401.49V485.08H402.71V483.42H403.94V481.7H405.16V486.3H406.38V488.74H407.6V485.56H408.82V489.49H410.04V490.03H411.26V494.94H412.48V492.44H413.7V497.86H414.92V499.23H416.14V496.43H417.36V495.3H418.59V499.93H419.81V503.04H421.03V504.92H422.25V503.5H423.47V501.95H424.69V502.57H425.91V502.26H427.13V501.53H428.35V499.77H429.57V498.07H430.79V498.6H432.01V498.62H433.24V498.68H434.46V496.59H435.68V497.63H436.9V495.79H438.12V493.81H439.34V492.8H440.56V488.94H441.78V486.21H443V485.96H444.22V482.36H445.44V483.75H446.66V480.09H447.89V476.34H449.11V477.38H450.33V474.78H451.55V470.08H452.77V471.98H453.99V470.6H455.21V468.21H456.43V469.15H457.65V463.32H458.87V465.34H460.09V465.31H461.31V464.87H462.54V463.43H463.76V463.11H464.98V458.62H466.2V461.92H467.42V462.1H468.64V459.54H469.86V466.25H471.08V468.55H472.3V475.48H473.52V478.9H474.74V480.15H475.96V481.98H477.18V476.74H478.41V479.64H479.63V477.76H480.85V481.52H482.07V483.41H483.29V483.67H484.51V484.36H485.73V481.29H486.95V483.85H488.17V487.32H489.39V487.92H490.61V485.02H491.83V485.8H493.06V485.69H494.28V486.45H495.5V485.7H496.72V487.15H497.94V487.71H499.16V488.07H500.38V490.67H501.6V490.81H502.82V493.52H504.04V495.12H505.26V497.17H506.48V500.06H507.71V500.96H508.93V502.51H510.15V501.64H511.37V501.82H512.59V502.3H513.81V503.43H515.03V502.14H516.25V502.79H517.47V502.18H518.69V503.97H519.91V504.13H521.13V504.81H522.36V504.92H523.58V505.09H524.8V505.71H526.02V505.26H527.24V504.58H528.46V505.15H529.68V505.22H530.9V507.69H532.12V507.43H533.34V509.12H534.56V508.52H535.78V507.21H537.01V504.75H538.23V502.18H539.45V503.4H540.67V501.51H541.89V501.53H543.11V502.24H544.33V499.99H545.55V501.47H546.77V502.46H547.99V503.06H549.21V504.91H550.43V502.55H551.66V503.82H552.88V501.38H554.1V499.81H555.32V499.15H556.54V498.78H557.76V498.97H558.98V497.41H560.2V497.45H561.42V498.28H562.64V496.84H563.86V496.1H565.08V496.99H566.31V496.97H567.53V495.44H568.75V498.15H569.97V493.51H571.19V492.98H572.41V493.06H573.63V494.24H574.85V493.14H576.07V496.28H577.29V496.52H578.51V494.12H579.73V492.93H580.96V491.15H582.18V490.14H583.4V493.42H584.62V493.08H585.84V491.6H587.06V494.07H588.28V492.83H589.5V495.48H590.72V495.94H591.94V496.2H593.16V495.75H594.38V499.33H595.61V500.09H596.83V500.74H598.05V500.09H599.27V503.32H600.49V502.33H601.71V504.99H602.93V509.92H604.15V510.35H605.37V510.32H606.59V511.14H607.81V511.63H609.03V513.31H610.25V513.73H611.48V514.31H612.7V514.78H613.92V514.89H615.14V515.43H616.36V515.26H617.58V515.02H618.8V515.47H620.02V514.98H621.24V513.94H622.46V513.61H623.68V513.27H624.9V514.84H626.13V515.98H627.35V516.75H628.57V517.08H629.79V517.42H631.01V517.04H632.23V516.43H633.45V515.66H634.67V516.09H635.89V516.38H637.11V516.69H638.33V517.01H639.55V517.33H640.78V517.64H642V517.93H643.22V518.21H644.44V518.3H645.66V518.3H646.88V518.3H648.1V518.15H649.32V518.01H650.54V517.9H651.76V517.9H652.98V517.83H654.2V516.91H655.43V516H656.65V514.76H657.87V513.79H659.09V511.81H660.31V510.73H661.53V509.36H662.75V509.36H663.97V508.75H665.19V508.12H666.41V507.94H667.63V506.79H668.85V507.54H670.08V506.6H671.3V505.17H672.52V504.92H673.74V504.44H674.96V501.41H676.18V500.93H677.4V500.1H678.62V498.35H679.84V497.09H681.06V495.44H682.28V493.03H683.5V490.02H684.73V491.12H685.95V491.63H687.17V491.17H688.39V494.67H689.61V495.49H690.83V491.79H692.05V494.04H693.27V495.95H694.49V494.8H695.71V496.33H696.93V496H698.15V495.13H699.38V493.46H700.6V492.73H701.82V494.39H703.04V493.12H704.26V493.22H705.48V496.41H706.7V497.12H707.92V495.17H709.14V493.1H710.36V498.08H711.58V497.66H712.8V498.78H714.03V501.33H715.25V500.1H716.47V499.1H717.69V496.6H718.91V496.37H720.13V499.32H721.35V501.98H722.57V503.68H723.79V505.64H725.01V502.99H726.23V505.04H727.45V506.46H728.68V510H729.9V510.49H731.12V511.57H732.34V510.88H733.56V510.72H734.78V510.28H736V523.6Z" fill="url(#sBlue)"/>
<path d="M56,523.6V523.4H57.22V523.4H58.44V523.4H59.66V523.4H60.88V523.4H62.1V523.4H63.32V523.4H64.55V523.4H65.77V523.4H66.99V523.4H68.21V523.4H69.43V523.4H70.65V523.32H71.87V523.23H73.09V522.95H74.31V522.53H75.53V521.18H76.75V519.53H77.97V512.99H79.2V504.23H80.42V499.93H81.64V494.22H82.86V485.15H84.08V475.38H85.3V463.32H86.52V455.41H87.74V442.34H88.96V441.9H90.18V442.07H91.4V441.75H92.62V444.4H93.85V450.09H95.07V449.94H96.29V447.61H97.51V448.75H98.73V449.58H99.95V451.15H101.17V458.5H102.39V459.53H103.61V458.36H104.83V462.53H106.05V461.39H107.27V462.2H108.5V465.34H109.72V469.85H110.94V474.04H112.16V474.79H113.38V474.43H114.6V477.13H115.82V477.81H117.04V479.8H118.26V478.81H119.48V482.34H120.7V483.56H121.92V488.92H123.15V495.08H124.37V499.22H125.59V500.83H126.81V503.16H128.03V505.13H129.25V507.07H130.47V508.22H131.69V508.82H132.91V509.06H134.13V509.29H135.35V511.6H136.57V512.98H137.8V513.54H139.02V513.71H140.24V513.96H141.46V514.44H142.68V515.01H143.9V515.49H145.12V516.19H146.34V516.97H147.56V517.88H148.78V518.73H150V519.44H151.22V520.15H152.45V520.69H153.67V520.92H154.89V521.15H156.11V521.34H157.33V521.45H158.55V521.56H159.77V521.68H160.99V521.79H162.21V521.84H163.43V521.89H164.65V521.93H165.87V521.98H167.1V522.03H168.32V522.07H169.54V522.11H170.76V522.16H171.98V522.2H173.2V522.22H174.42V522.23H175.64V522.25H176.86V522.27H178.08V522.28H179.3V522.3H180.52V522.3H181.75V522.3H182.97V522.3H184.19V522.3H185.41V522.3H186.63V522.3H187.85V522.3H189.07V522.3H190.29V522.34H191.51V522.52H192.73V522.7H193.95V522.8H195.17V522.8H196.39V522.8H197.62V522.8H198.84V522.8H200.06V522.8H201.28V522.8H202.5V522.8H203.72V522.8H204.94V522.8H206.16V522.8H207.38V522.8H208.6V522.8H209.82V522.8H211.04V522.8H212.27V522.8H213.49V522.8H214.71V522.8H215.93V522.8H217.15V522.8H218.37V522.8H219.59V522.8H220.81V522.8H222.03V522.8H223.25V522.8H224.47V522.8H225.69V522.8H226.92V522.8H228.14V522.8H229.36V522.8H230.58V522.8H231.8V522.8H233.02V522.8H234.24V522.8H235.46V522.8H236.68V522.8H237.9V522.8H239.12V522.8H240.34V522.8H241.57V522.33H242.79V521.75H244.01V520.97H245.23V520.19H246.45V519.62H247.67V519.4H248.89V519.19H250.11V519.1H251.33V519.1H252.55V519.1H253.77V519.1H254.99V519.1H256.22V519.1H257.44V518.65H258.66V517.81H259.88V517.18H261.1V516.87H262.32V516.57H263.54V516.44H264.76V516.21H265.98V516H267.2V515.66H268.42V515.1H269.64V515.02H270.87V515.52H272.09V516.01H273.31V516.44H274.53V516.77H275.75V517.11H276.97V516.53H278.19V515.61H279.41V514.69H280.63V514.08H281.85V513.37H283.07V512.92H284.29V512.6H285.52V511.6H286.74V511.93H287.96V511.53H289.18V511.46H290.4V511.7H291.62V511.96H292.84V511.54H294.06V511.03H295.28V510.03H296.5V509.12H297.72V509.6H298.94V509.66H300.17V509.96H301.39V510.43H302.61V508.54H303.83V508.17H305.05V507.3H306.27V507.11H307.49V507.48H308.71V507.87H309.93V508.68H311.15V509.4H312.37V509.59H313.59V510.31H314.82V510.5H316.04V510.5H317.26V510.47H318.48V511.24H319.7V511.72H320.92V512.43H322.14V512.51H323.36V512.72H324.58V513H325.8V513H327.02V513.28H328.24V513.93H329.46V514.42H330.69V514.25H331.91V513.41H333.13V513.03H334.35V513.55H335.57V514.23H336.79V514.4H338.01V513.11H339.23V511.84H340.45V511.16H341.67V510.67H342.89V510.57H344.11V509.57H345.34V508.35H346.56V507.13H347.78V505.91H349V504.17H350.22V503.14H351.44V500.69H352.66V498.24H353.88V495.82H355.1V493.37H356.32V490.74H357.54V488.03H358.76V489.33H359.99V487.27H361.21V487.94H362.43V487.17H363.65V484.42H364.87V483.99H366.09V481.21H367.31V478.77H368.53V478.08H369.75V477.4H370.97V478.87H372.19V477.11H373.41V478.56H374.64V477.7H375.86V478.57H377.08V480.66H378.3V481.82H379.52V483.59H380.74V481.04H381.96V485.06H383.18V483.8H384.4V483.04H385.62V488.31H386.84V487.71H388.06V488.14H389.29V489.59H390.51V488.61H391.73V489.51H392.95V488.12H394.17V487.5H395.39V488.41H396.61V488.04H397.83V490.7H399.05V488.23H400.27V492.52H401.49V493.6H402.71V494.57H403.94V495.92H405.16V494.95H406.38V497.42H407.6V495.59H408.82V497.38H410.04V497.68H411.26V500.45H412.48V499.6H413.7V502.19H414.92V502.74H416.14V502.66H417.36V502.29H418.59V504.38H419.81V506.06H421.03V507.07H422.25V506.61H423.47V506.7H424.69V505.88H425.91V506.3H427.13V505.95H428.35V505.33H429.57V503.97H430.79V504.98H432.01V504.04H433.24V503.37H434.46V503.7H435.68V503.83H436.9V500.63H438.12V501.49H439.34V498.42H440.56V497.66H441.78V495.05H443V493.43H444.22V491.48H445.44V490.17H446.66V486.71H447.89V486.91H449.11V485.78H450.33V483.32H451.55V483.7H452.77V480.76H453.99V483.9H455.21V481.02H456.43V478.03H457.65V476.19H458.87V475.29H460.09V472.1H461.31V472.35H462.54V471.74H463.76V472.88H464.98V469.76H466.2V469.1H467.42V468.8H468.64V470.37H469.86V472.91H471.08V474.49H472.3V478.96H473.52V481.71H474.74V483.91H475.96V487.09H477.18V485.98H478.41V484.27H479.63V486.98H480.85V488.78H482.07V491.52H483.29V492.18H484.51V492.87H485.73V492.32H486.95V493.12H488.17V495.19H489.39V494.47H490.61V495.92H491.83V496H493.06V495.93H494.28V497.08H495.5V496.59H496.72V495.43H497.94V497.8H499.16V498.6H500.38V498.43H501.6V500.05H502.82V501.32H504.04V501.06H505.26V502.19H506.48V503.27H507.71V503.4H508.93V504.39H510.15V504.95H511.37V505.34H512.59V505.42H513.81V505.79H515.03V506.31H516.25V505.48H517.47V506.94H518.69V508.12H519.91V508.3H521.13V508.79H522.36V508.93H523.58V509.06H524.8V509.59H526.02V511.28H527.24V510.09H528.46V509.66H529.68V510.09H530.9V510.67H532.12V511.07H533.34V510.51H534.56V510.31H535.78V509.3H537.01V508.46H538.23V508.14H539.45V507.19H540.67V506.93H541.89V506.09H543.11V505.87H544.33V505.82H545.55V505.69H546.77V506.23H547.99V507.78H549.21V506.3H550.43V505.84H551.66V505.92H552.88V505.34H554.1V504.33H555.32V503.71H556.54V504.3H557.76V503.74H558.98V503.61H560.2V504.02H561.42V502.77H562.64V501.85H563.86V501.42H565.08V501.3H566.31V501.61H567.53V499.87H568.75V498.15H569.97V498.22H571.19V497.41H572.41V497.74H573.63V498.58H574.85V498.23H576.07V499H577.29V500.73H578.51V498.92H579.73V496.89H580.96V495.5H582.18V496.13H583.4V496.39H584.62V497.32H585.84V496.97H587.06V495.92H588.28V496.56H589.5V497.48H590.72V497.54H591.94V499.44H593.16V501.72H594.38V501.28H595.61V502.4H596.83V502.94H598.05V503.13H599.27V503.59H600.49V503.88H601.71V508.14H602.93V510.58H604.15V511.51H605.37V511.62H606.59V512.1H607.81V512.76H609.03V513.97H610.25V514.72H611.48V515.05H612.7V515.32H613.92V515.5H615.14V515.43H616.36V515.37H617.58V515.71H618.8V515.93H620.02V516.28H621.24V515.74H622.46V515.15H623.68V514.51H624.9V515.81H626.13V516.71H627.35V517.34H628.57V517.63H629.79V517.93H631.01V517.54H632.23V516.93H633.45V516.32H634.67V516.62H635.89V516.96H637.11V517.28H638.33V517.56H639.55V517.85H640.78V518.14H642V518.43H643.22V518.71H644.44V518.8H645.66V518.8H646.88V518.8H648.1V518.69H649.32V518.58H650.54V518.47H651.76V518.38H652.98V518.25H654.2V517.64H655.43V517.03H656.65V515.83H657.87V514.4H659.09V513.68H660.31V512.73H661.53V511.89H662.75V511.77H663.97V511.45H665.19V511.14H666.41V510.82H667.63V509.81H668.85V510.19H670.08V509.83H671.3V509.39H672.52V508.17H673.74V506.44H674.96V504.19H676.18V504.38H677.4V503.65H678.62V502.62H679.84V501.45H681.06V500.93H682.28V499.71H683.5V497.25H684.73V496.85H685.95V497.16H687.17V498.72H688.39V497.8H689.61V498.46H690.83V498.65H692.05V498.6H693.27V499.99H694.49V500.94H695.71V499.97H696.93V499.71H698.15V498.81H699.38V497.2H700.6V498.6H701.82V497.67H703.04V498.87H704.26V498.35H705.48V498.49H706.7V498.7H707.92V498.19H709.14V497.36H710.36V498.57H711.58V501.35H712.8V502.88H714.03V503.84H715.25V502.94H716.47V502.64H717.69V502.74H718.91V503.31H720.13V503.44H721.35V505.37H722.57V506.03H723.79V506.91H725.01V508.12H726.23V508.09H727.45V509.81H728.68V510.72H729.9V511.34H731.12V512.52H732.34V512.32H733.56V511.75H734.78V511.98H736V523.6Z" fill="#adadad"/>
<path d="M56,523.6V523.4H57.22V523.4H58.44V523.4H59.66V523.4H60.88V523.4H62.1V523.4H63.32V523.4H64.55V523.4H65.77V523.4H66.99V523.4H68.21V523.4H69.43V523.4H70.65V523.32H71.87V523.23H73.09V522.95H74.31V522.53H75.53V521.18H76.75V519.53H77.97V512.99H79.2V504.23H80.42V499.93H81.64V494.22H82.86V485.15H84.08V475.38H85.3V463.32H86.52V455.41H87.74V442.34H88.96V441.9H90.18V442.07H91.4V441.75H92.62V444.4H93.85V450.09H95.07V449.94H96.29V447.61H97.51V448.75H98.73V449.58H99.95V451.15H101.17V458.5H102.39V459.53H103.61V458.36H104.83V462.53H106.05V461.39H107.27V462.2H108.5V465.34H109.72V469.85H110.94V474.04H112.16V474.79H113.38V474.43H114.6V477.13H115.82V477.81H117.04V479.8H118.26V478.81H119.48V482.34H120.7V483.56H121.92V488.92H123.15V495.08H124.37V499.22H125.59V500.83H126.81V503.16H128.03V505.13H129.25V507.07H130.47V508.22H131.69V508.82H132.91V509.06H134.13V509.29H135.35V511.6H136.57V512.98H137.8V513.54H139.02V513.71H140.24V513.96H141.46V514.44H142.68V515.01H143.9V515.49H145.12V516.19H146.34V516.97H147.56V517.88H148.78V518.73H150V519.44H151.22V520.15H152.45V520.69H153.67V520.92H154.89V521.15H156.11V521.34H157.33V521.45H158.55V521.56H159.77V521.68H160.99V521.79H162.21V521.84H163.43V521.89H164.65V521.93H165.87V521.98H167.1V522.03H168.32V522.07H169.54V522.11H170.76V522.16H171.98V522.2H173.2V522.22H174.42V522.23H175.64V522.25H176.86V522.27H178.08V522.28H179.3V522.3H180.52V522.3H181.75V522.3H182.97V522.3H184.19V522.3H185.41V522.3H186.63V522.3H187.85V522.3H189.07V522.3H190.29V522.34H191.51V522.52H192.73V522.7H193.95V522.8H195.17V522.8H196.39V522.8H197.62V522.8H198.84V522.8H200.06V522.8H201.28V522.8H202.5V522.8H203.72V522.8H204.94V522.8H206.16V522.8H207.38V522.8H208.6V522.8H209.82V522.8H211.04V522.8H212.27V522.8H213.49V522.8H214.71V522.8H215.93V522.8H217.15V522.8H218.37V522.8H219.59V522.8H220.81V522.8H222.03V522.8H223.25V522.8H224.47V522.8H225.69V522.8H226.92V522.8H228.14V522.8H229.36V522.8H230.58V522.8H231.8V522.8H233.02V522.8H234.24V522.8H235.46V522.8H236.68V522.8H237.9V522.8H239.12V522.8H240.34V522.8H241.57V522.33H242.79V521.75H244.01V520.97H245.23V520.19H246.45V519.62H247.67V519.4H248.89V519.19H250.11V519.1H251.33V519.1H252.55V519.1H253.77V519.1H254.99V519.1H256.22V519.1H257.44V518.65H258.66V517.81H259.88V517.18H261.1V516.87H262.32V516.57H263.54V516.44H264.76V516.21H265.98V516H267.2V515.66H268.42V515.1H269.64V515.02H270.87V515.52H272.09V516.01H273.31V516.44H274.53V516.77H275.75V517.11H276.97V516.53H278.19V515.61H279.41V514.69H280.63V514.08H281.85V513.37H283.07V512.92H284.29V512.6H285.52V511.6H286.74V511.93H287.96V511.53H289.18V511.46H290.4V511.7H291.62V511.96H292.84V511.54H294.06V511.03H295.28V510.03H296.5V509.12H297.72V509.6H298.94V509.66H300.17V509.96H301.39V510.43H302.61V508.54H303.83V508.17H305.05V507.3H306.27V507.11H307.49V507.48H308.71V507.87H309.93V508.68H311.15V509.4H312.37V509.59H313.59V510.31H314.82V510.5H316.04V510.5H317.26V510.47H318.48V511.24H319.7V511.72H320.92V512.43H322.14V512.51H323.36V512.72H324.58V513H325.8V513H327.02V513.28H328.24V513.93H329.46V514.42H330.69V514.25H331.91V513.41H333.13V513.03H334.35V513.55H335.57V514.23H336.79V514.4H338.01V513.11H339.23V511.84H340.45V511.16H341.67V510.67H342.89V510.57H344.11V509.57H345.34V508.35H346.56V507.13H347.78V505.91H349V504.17H350.22V503.14H351.44V500.69H352.66V498.24H353.88V495.82H355.1V493.37H356.32V490.74H357.54V488.03H358.76V489.33H359.99V487.27H361.21V487.94H362.43V487.17H363.65V484.42H364.87V483.99H366.09V481.21H367.31V478.77H368.53V478.08H369.75V477.4H370.97V478.87H372.19V477.11H373.41V478.56H374.64V477.7H375.86V478.57H377.08V480.66H378.3V481.82H379.52V483.59H380.74V481.04H381.96V485.06H383.18V483.8H384.4V483.04H385.62V488.31H386.84V487.71H388.06V488.14H389.29V489.59H390.51V488.61H391.73V489.51H392.95V488.12H394.17V487.5H395.39V488.41H396.61V488.04H397.83V490.7H399.05V488.23H400.27V492.52H401.49V493.6H402.71V494.57H403.94V495.92H405.16V494.95H406.38V497.42H407.6V495.59H408.82V497.38H410.04V497.68H411.26V500.45H412.48V499.6H413.7V502.19H414.92V502.74H416.14V502.66H417.36V502.29H418.59V504.38H419.81V506.06H421.03V507.07H422.25V506.61H423.47V506.7H424.69V505.88H425.91V506.3H427.13V505.95H428.35V505.33H429.57V503.97H430.79V504.98H432.01V504.04H433.24V503.37H434.46V503.7H435.68V503.83H436.9V500.63H438.12V501.49H439.34V498.42H440.56V497.66H441.78V495.05H443V493.43H444.22V491.48H445.44V490.17H446.66V486.71H447.89V486.91H449.11V485.78H450.33V483.32H451.55V483.7H452.77V480.76H453.99V483.9H455.21V481.02H456.43V478.03H457.65V476.19H458.87V475.29H460.09V472.1H461.31V472.35H462.54V471.74H463.76V472.88H464.98V469.76H466.2V469.1H467.42V468.8H468.64V470.37H469.86V472.91H471.08V474.49H472.3V478.96H473.52V481.71H474.74V483.91H475.96V487.09H477.18V485.98H478.41V484.27H479.63V486.98H480.85V488.78H482.07V491.52H483.29V492.18H484.51V492.87H485.73V492.32H486.95V493.12H488.17V495.19H489.39V494.47H490.61V495.92H491.83V496H493.06V495.93H494.28V497.08H495.5V496.59H496.72V495.43H497.94V497.8H499.16V498.6H500.38V498.43H501.6V500.05H502.82V501.32H504.04V501.06H505.26V502.19H506.48V503.27H507.71V503.4H508.93V504.39H510.15V504.95H511.37V505.34H512.59V505.42H513.81V505.79H515.03V506.31H516.25V505.48H517.47V506.94H518.69V508.12H519.91V508.3H521.13V508.79H522.36V508.93H523.58V509.06H524.8V509.59H526.02V511.28H527.24V510.09H528.46V509.66H529.68V510.09H530.9V510.67H532.12V511.07H533.34V510.51H534.56V510.31H535.78V509.3H537.01V508.46H538.23V508.14H539.45V507.19H540.67V506.93H541.89V506.09H543.11V505.87H544.33V505.82H545.55V505.69H546.77V506.23H547.99V507.78H549.21V506.3H550.43V505.84H551.66V505.92H552.88V505.34H554.1V504.33H555.32V503.71H556.54V504.3H557.76V503.74H558.98V503.61H560.2V504.02H561.42V502.77H562.64V501.85H563.86V501.42H565.08V501.3H566.31V501.61H567.53V499.87H568.75V498.15H569.97V498.22H571.19V497.41H572.41V497.74H573.63V498.58H574.85V498.23H576.07V499H577.29V500.73H578.51V498.92H579.73V496.89H580.96V495.5H582.18V496.13H583.4V496.39H584.62V497.32H585.84V496.97H587.06V495.92H588.28V496.56H589.5V497.48H590.72V497.54H591.94V499.44H593.16V501.72H594.38V501.28H595.61V502.4H596.83V502.94H598.05V503.13H599.27V503.59H600.49V503.88H601.71V508.14H602.93V510.58H604.15V511.51H605.37V511.62H606.59V512.1H607.81V512.76H609.03V513.97H610.25V514.72H611.48V515.05H612.7V515.32H613.92V515.5H615.14V515.43H616.36V515.37H617.58V515.71H618.8V515.93H620.02V516.28H621.24V515.74H622.46V515.15H623.68V514.51H624.9V515.81H626.13V516.71H627.35V517.34H628.57V517.63H629.79V517.93H631.01V517.54H632.23V516.93H633.45V516.32H634.67V516.62H635.89V516.96H637.11V517.28H638.33V517.56H639.55V517.85H640.78V518.14H642V518.43H643.22V518.71H644.44V518.8H645.66V518.8H646.88V518.8H648.1V518.69H649.32V518.58H650.54V518.47H651.76V518.38H652.98V518.25H654.2V517.64H655.43V517.03H656.65V515.83H657.87V514.4H659.09V513.68H660.31V512.73H661.53V511.89H662.75V511.77H663.97V511.45H665.19V511.14H666.41V510.82H667.63V509.81H668.85V510.19H670.08V509.83H671.3V509.39H672.52V508.17H673.74V506.44H674.96V504.19H676.18V504.38H677.4V503.65H678.62V502.62H679.84V501.45H681.06V500.93H682.28V499.71H683.5V497.25H684.73V496.85H685.95V497.16H687.17V498.72H688.39V497.8H689.61V498.46H690.83V498.65H692.05V498.6H693.27V499.99H694.49V500.94H695.71V499.97H696.93V499.71H698.15V498.81H699.38V497.2H700.6V498.6H701.82V497.67H703.04V498.87H704.26V498.35H705.48V498.49H706.7V498.7H707.92V498.19H709.14V497.36H710.36V498.57H711.58V501.35H712.8V502.88H714.03V503.84H715.25V502.94H716.47V502.64H717.69V502.74H718.91V503.31H720.13V503.44H721.35V505.37H722.57V506.03H723.79V506.91H725.01V508.12H726.23V508.09H727.45V509.81H728.68V510.72H729.9V511.34H731.12V512.52H732.34V512.32H733.56V511.75H734.78V511.98H736V523.6Z" fill="url(#sGrey)"/>
<path d="M56,523.6V523.4H57.22V523.4H58.44V523.4H59.66V523.4H60.88V523.4H62.1V523.4H63.32V523.4H64.55V523.4H65.77V523.4H66.99V523.4H68.21V523.4H69.43V523.4H70.65V523.32H71.87V523.23H73.09V522.95H74.31V522.53H75.53V521.18H76.75V519.53H77.97V512.99H79.2V504.38H80.42V500.05H81.64V494.22H82.86V485.15H84.08V477.69H85.3V474.09H86.52V469.34H87.74V467.55H88.96V465.14H90.18V460.63H91.4V459.51H92.62V459.98H93.85V458.47H95.07V458H96.29V458H97.51V458.37H98.73V458.78H99.95V460.29H101.17V463.72H102.39V467.23H103.61V468.15H104.83V468.96H106.05V469.78H107.27V470.59H108.5V471.61H109.72V474.54H110.94V480.27H112.16V481.27H113.38V482.49H114.6V483.9H115.82V485H117.04V485.93H118.26V486.75H119.48V487.53H120.7V487.97H121.92V496.07H123.15V498.51H124.37V500.3H125.59V502.16H126.81V504.06H128.03V505.69H129.25V507.31H130.47V508.22H131.69V508.82H132.91V509.31H134.13V509.92H135.35V511.6H136.57V512.98H137.8V513.58H139.02V513.71H140.24V513.96H141.46V514.53H142.68V515.01H143.9V515.49H145.12V516.19H146.34V516.97H147.56V517.88H148.78V518.73H150V519.44H151.22V520.15H152.45V520.69H153.67V520.92H154.89V521.15H156.11V521.34H157.33V521.45H158.55V521.56H159.77V521.68H160.99V521.79H162.21V521.84H163.43V521.89H164.65V521.93H165.87V521.98H167.1V522.03H168.32V522.07H169.54V522.11H170.76V522.16H171.98V522.2H173.2V522.22H174.42V522.23H175.64V522.25H176.86V522.27H178.08V522.28H179.3V522.3H180.52V522.3H181.75V522.3H182.97V522.3H184.19V522.3H185.41V522.3H186.63V522.3H187.85V522.3H189.07V522.3H190.29V522.34H191.51V522.52H192.73V522.7H193.95V522.8H195.17V522.8H196.39V522.8H197.62V522.8H198.84V522.8H200.06V522.8H201.28V522.8H202.5V522.8H203.72V522.8H204.94V522.8H206.16V522.8H207.38V522.8H208.6V522.8H209.82V522.8H211.04V522.8H212.27V522.8H213.49V522.8H214.71V522.8H215.93V522.8H217.15V522.8H218.37V522.8H219.59V522.8H220.81V522.8H222.03V522.8H223.25V522.8H224.47V522.8H225.69V522.8H226.92V522.8H228.14V522.8H229.36V522.8H230.58V522.8H231.8V522.8H233.02V522.8H234.24V522.8H235.46V522.8H236.68V522.8H237.9V522.8H239.12V522.8H240.34V522.8H241.57V522.33H242.79V521.75H244.01V520.97H245.23V520.19H246.45V519.62H247.67V519.4H248.89V519.19H250.11V519.1H251.33V519.1H252.55V519.1H253.77V519.1H254.99V519.1H256.22V519.1H257.44V518.65H258.66V517.81H259.88V517.18H261.1V516.87H262.32V516.59H263.54V516.49H264.76V516.39H265.98V516.21H267.2V515.66H268.42V515.1H269.64V515.02H270.87V515.52H272.09V516.01H273.31V516.44H274.53V516.77H275.75V517.11H276.97V516.53H278.19V515.61H279.41V514.69H280.63V514.08H281.85V513.47H283.07V512.92H284.29V512.6H285.52V512.28H286.74V511.93H287.96V511.53H289.18V511.46H290.4V511.85H291.62V511.96H292.84V511.57H294.06V511.05H295.28V510.22H296.5V509.6H297.72V509.6H298.94V509.66H300.17V510.1H301.39V510.43H302.61V509.6H303.83V508.77H305.05V507.94H306.27V507.11H307.49V507.48H308.71V507.87H309.93V508.68H311.15V509.51H312.37V509.98H313.59V510.4H314.82V510.5H316.04V510.5H317.26V510.92H318.48V511.51H319.7V512.1H320.92V512.43H322.14V512.75H323.36V513H324.58V513H325.8V513H327.02V513.32H328.24V513.93H329.46V514.54H330.69V514.25H331.91V513.64H333.13V513.03H334.35V513.6H335.57V514.23H336.79V514.4H338.01V513.18H339.23V511.96H340.45V511.16H341.67V510.87H342.89V510.57H344.11V509.57H345.34V508.35H346.56V507.13H347.78V505.91H349V504.69H350.22V503.14H351.44V500.7H352.66V498.26H353.88V495.82H355.1V493.37H356.32V491.64H357.54V490.81H358.76V490.19H359.99V489.9H361.21V489.61H362.43V488.94H363.65V488.02H364.87V487.09H366.09V485.9H367.31V484.62H368.53V483.27H369.75V482.03H370.97V482.51H372.19V482.47H373.41V481.67H374.64V481.34H375.86V482.17H377.08V483H378.3V483.83H379.52V484.65H380.74V485.43H381.96V486.23H383.18V487.16H384.4V488.1H385.62V489.13H386.84V490.35H388.06V491.58H389.29V491.81H390.51V491.53H391.73V491.24H392.95V491.2H394.17V491.2H395.39V491.7H396.61V492.31H397.83V492.92H399.05V493.51H400.27V494.1H401.49V494.8H402.71V495.69H403.94V496.59H405.16V497.18H406.38V497.51H407.6V497.85H408.82V498.9H410.04V500.08H411.26V501.26H412.48V502.22H413.7V503.18H414.92V503.9H416.14V504.19H417.36V504.48H418.59V505.55H419.81V507.21H421.03V508H422.25V508H423.47V508H424.69V508H425.91V508H427.13V508.16H428.35V508.4H429.57V508.57H430.79V508.34H432.01V508.12H433.24V507.76H434.46V507.23H435.68V506.69H436.9V505.64H438.12V504.39H439.34V502.72H440.56V501.1H441.78V499.51H443V497.01H444.22V494.72H445.44V492.71H446.66V491.63H447.89V490.55H449.11V488.45H450.33V485.34H451.55V483.9H452.77V483.9H453.99V483.9H455.21V483.51H456.43V482.97H457.65V482.13H458.87V481.06H460.09V479.95H461.31V479.34H462.54V479.29H463.76V479.93H464.98V478.33H466.2V478H467.42V477.81H468.64V476.82H469.86V478.91H471.08V481.35H472.3V483.73H473.52V486.58H474.74V488.54H475.96V488.9H477.18V489.33H478.41V489.9H479.63V491.05H480.85V492.2H482.07V493.01H483.29V493.3H484.51V493.59H485.73V494.42H486.95V495.6H488.17V496.79H489.39V497.27H490.61V497.61H491.83V497.93H493.06V498.22H494.28V498.51H495.5V498.81H496.72V499.14H497.94V499.48H499.16V500.17H500.38V501.06H501.6V501.96H502.82V502.63H504.04V503.26H505.26V503.93H506.48V504.83H507.71V505.72H508.93V506.41H510.15V506.7H511.37V507H512.59V507.31H513.81V507.63H515.03V507.96H516.25V508.25H517.47V508.54H518.69V508.85H519.91V509.48H521.13V510.11H522.36V510.59H523.58V510.82H524.8V511.05H526.02V511.29H527.24V510.93H528.46V510.54H529.68V510.85H530.9V511.24H532.12V511.3H533.34V511.3H534.56V511.25H535.78V510.35H537.01V509.45H538.23V508.72H539.45V508.42H540.67V508.13H541.89V507.65H543.11V507.04H544.33V506.43H545.55V507.03H546.77V507.95H547.99V508.78H549.21V508.49H550.43V508.2H551.66V507.81H552.88V507.18H554.1V506.55H555.32V506.11H556.54V505.78H557.76V505.46H558.98V505.16H560.2V504.86H561.42V504.53H562.64V503.92H563.86V503.31H565.08V502.7H566.31V502.09H567.53V501.48H568.75V500.7H569.97V499.78H571.19V498.85H572.41V499.21H573.63V499.82H574.85V500.44H576.07V501.27H577.29V502.1H578.51V500.21H579.73V498.32H580.96V497.18H582.18V497.79H583.4V498.4H584.62V498.55H585.84V498.26H587.06V497.98H588.28V498.36H589.5V498.99H590.72V499.63H591.94V500.82H593.16V502H594.38V503.05H595.61V503.68H596.83V504.31H598.05V504.93H599.27V505.54H600.49V506.15H601.71V508.14H602.93V510.58H604.15V511.51H605.37V511.8H606.59V512.1H607.81V513.04H609.03V513.97H610.25V514.76H611.48V515.05H612.7V515.34H613.92V515.5H615.14V515.5H616.36V515.5H617.58V515.71H618.8V516H620.02V516.28H621.24V515.74H622.46V515.15H623.68V514.92H624.9V515.81H626.13V516.71H627.35V517.34H628.57V517.63H629.79V517.93H631.01V517.54H632.23V516.93H633.45V516.32H634.67V516.62H635.89V516.96H637.11V517.28H638.33V517.56H639.55V517.85H640.78V518.14H642V518.43H643.22V518.71H644.44V518.8H645.66V518.8H646.88V518.8H648.1V518.69H649.32V518.58H650.54V518.47H651.76V518.38H652.98V518.25H654.2V517.64H655.43V517.03H656.65V515.94H657.87V514.72H659.09V513.68H660.31V512.78H661.53V512.09H662.75V511.77H663.97V511.45H665.19V511.14H666.41V510.82H667.63V510.5H668.85V510.19H670.08V509.83H671.3V509.39H672.52V508.17H673.74V506.95H674.96V505.73H676.18V504.56H677.4V503.65H678.62V502.75H679.84V501.89H681.06V500.93H682.28V499.71H683.5V498.63H684.73V498.95H685.95V499.26H687.17V499.8H688.39V500.37H689.61V500.44H690.83V500.17H692.05V500.46H693.27V501.68H694.49V502H695.71V502H696.93V501.67H698.15V501.03H699.38V500.51H700.6V500.24H701.82V500H703.04V500H704.26V500H705.48V500.52H706.7V501.11H707.92V500.23H709.14V498.66H710.36V500.59H711.58V502.5H712.8V504.03H714.03V505.4H715.25V505.4H716.47V505.4H717.69V505.03H718.91V504.85H720.13V505.71H721.35V506.59H722.57V507.49H723.79V508.2H725.01V508.52H726.23V508.91H727.45V509.81H728.68V510.72H729.9V511.62H731.12V512.52H732.34V512.58H733.56V512.26H734.78V512.1H736V523.6Z" fill="#f8ba62"/>
<path d="M56,523.6V523.4H57.22V523.4H58.44V523.4H59.66V523.4H60.88V523.4H62.1V523.4H63.32V523.4H64.55V523.4H65.77V523.4H66.99V523.4H68.21V523.4H69.43V523.4H70.65V523.32H71.87V523.23H73.09V522.95H74.31V522.53H75.53V521.18H76.75V519.53H77.97V512.99H79.2V504.38H80.42V500.05H81.64V494.22H82.86V485.15H84.08V477.69H85.3V474.09H86.52V469.34H87.74V467.55H88.96V465.14H90.18V460.63H91.4V459.51H92.62V459.98H93.85V458.47H95.07V458H96.29V458H97.51V458.37H98.73V458.78H99.95V460.29H101.17V463.72H102.39V467.23H103.61V468.15H104.83V468.96H106.05V469.78H107.27V470.59H108.5V471.61H109.72V474.54H110.94V480.27H112.16V481.27H113.38V482.49H114.6V483.9H115.82V485H117.04V485.93H118.26V486.75H119.48V487.53H120.7V487.97H121.92V496.07H123.15V498.51H124.37V500.3H125.59V502.16H126.81V504.06H128.03V505.69H129.25V507.31H130.47V508.22H131.69V508.82H132.91V509.31H134.13V509.92H135.35V511.6H136.57V512.98H137.8V513.58H139.02V513.71H140.24V513.96H141.46V514.53H142.68V515.01H143.9V515.49H145.12V516.19H146.34V516.97H147.56V517.88H148.78V518.73H150V519.44H151.22V520.15H152.45V520.69H153.67V520.92H154.89V521.15H156.11V521.34H157.33V521.45H158.55V521.56H159.77V521.68H160.99V521.79H162.21V521.84H163.43V521.89H164.65V521.93H165.87V521.98H167.1V522.03H168.32V522.07H169.54V522.11H170.76V522.16H171.98V522.2H173.2V522.22H174.42V522.23H175.64V522.25H176.86V522.27H178.08V522.28H179.3V522.3H180.52V522.3H181.75V522.3H182.97V522.3H184.19V522.3H185.41V522.3H186.63V522.3H187.85V522.3H189.07V522.3H190.29V522.34H191.51V522.52H192.73V522.7H193.95V522.8H195.17V522.8H196.39V522.8H197.62V522.8H198.84V522.8H200.06V522.8H201.28V522.8H202.5V522.8H203.72V522.8H204.94V522.8H206.16V522.8H207.38V522.8H208.6V522.8H209.82V522.8H211.04V522.8H212.27V522.8H213.49V522.8H214.71V522.8H215.93V522.8H217.15V522.8H218.37V522.8H219.59V522.8H220.81V522.8H222.03V522.8H223.25V522.8H224.47V522.8H225.69V522.8H226.92V522.8H228.14V522.8H229.36V522.8H230.58V522.8H231.8V522.8H233.02V522.8H234.24V522.8H235.46V522.8H236.68V522.8H237.9V522.8H239.12V522.8H240.34V522.8H241.57V522.33H242.79V521.75H244.01V520.97H245.23V520.19H246.45V519.62H247.67V519.4H248.89V519.19H250.11V519.1H251.33V519.1H252.55V519.1H253.77V519.1H254.99V519.1H256.22V519.1H257.44V518.65H258.66V517.81H259.88V517.18H261.1V516.87H262.32V516.59H263.54V516.49H264.76V516.39H265.98V516.21H267.2V515.66H268.42V515.1H269.64V515.02H270.87V515.52H272.09V516.01H273.31V516.44H274.53V516.77H275.75V517.11H276.97V516.53H278.19V515.61H279.41V514.69H280.63V514.08H281.85V513.47H283.07V512.92H284.29V512.6H285.52V512.28H286.74V511.93H287.96V511.53H289.18V511.46H290.4V511.85H291.62V511.96H292.84V511.57H294.06V511.05H295.28V510.22H296.5V509.6H297.72V509.6H298.94V509.66H300.17V510.1H301.39V510.43H302.61V509.6H303.83V508.77H305.05V507.94H306.27V507.11H307.49V507.48H308.71V507.87H309.93V508.68H311.15V509.51H312.37V509.98H313.59V510.4H314.82V510.5H316.04V510.5H317.26V510.92H318.48V511.51H319.7V512.1H320.92V512.43H322.14V512.75H323.36V513H324.58V513H325.8V513H327.02V513.32H328.24V513.93H329.46V514.54H330.69V514.25H331.91V513.64H333.13V513.03H334.35V513.6H335.57V514.23H336.79V514.4H338.01V513.18H339.23V511.96H340.45V511.16H341.67V510.87H342.89V510.57H344.11V509.57H345.34V508.35H346.56V507.13H347.78V505.91H349V504.69H350.22V503.14H351.44V500.7H352.66V498.26H353.88V495.82H355.1V493.37H356.32V491.64H357.54V490.81H358.76V490.19H359.99V489.9H361.21V489.61H362.43V488.94H363.65V488.02H364.87V487.09H366.09V485.9H367.31V484.62H368.53V483.27H369.75V482.03H370.97V482.51H372.19V482.47H373.41V481.67H374.64V481.34H375.86V482.17H377.08V483H378.3V483.83H379.52V484.65H380.74V485.43H381.96V486.23H383.18V487.16H384.4V488.1H385.62V489.13H386.84V490.35H388.06V491.58H389.29V491.81H390.51V491.53H391.73V491.24H392.95V491.2H394.17V491.2H395.39V491.7H396.61V492.31H397.83V492.92H399.05V493.51H400.27V494.1H401.49V494.8H402.71V495.69H403.94V496.59H405.16V497.18H406.38V497.51H407.6V497.85H408.82V498.9H410.04V500.08H411.26V501.26H412.48V502.22H413.7V503.18H414.92V503.9H416.14V504.19H417.36V504.48H418.59V505.55H419.81V507.21H421.03V508H422.25V508H423.47V508H424.69V508H425.91V508H427.13V508.16H428.35V508.4H429.57V508.57H430.79V508.34H432.01V508.12H433.24V507.76H434.46V507.23H435.68V506.69H436.9V505.64H438.12V504.39H439.34V502.72H440.56V501.1H441.78V499.51H443V497.01H444.22V494.72H445.44V492.71H446.66V491.63H447.89V490.55H449.11V488.45H450.33V485.34H451.55V483.9H452.77V483.9H453.99V483.9H455.21V483.51H456.43V482.97H457.65V482.13H458.87V481.06H460.09V479.95H461.31V479.34H462.54V479.29H463.76V479.93H464.98V478.33H466.2V478H467.42V477.81H468.64V476.82H469.86V478.91H471.08V481.35H472.3V483.73H473.52V486.58H474.74V488.54H475.96V488.9H477.18V489.33H478.41V489.9H479.63V491.05H480.85V492.2H482.07V493.01H483.29V493.3H484.51V493.59H485.73V494.42H486.95V495.6H488.17V496.79H489.39V497.27H490.61V497.61H491.83V497.93H493.06V498.22H494.28V498.51H495.5V498.81H496.72V499.14H497.94V499.48H499.16V500.17H500.38V501.06H501.6V501.96H502.82V502.63H504.04V503.26H505.26V503.93H506.48V504.83H507.71V505.72H508.93V506.41H510.15V506.7H511.37V507H512.59V507.31H513.81V507.63H515.03V507.96H516.25V508.25H517.47V508.54H518.69V508.85H519.91V509.48H521.13V510.11H522.36V510.59H523.58V510.82H524.8V511.05H526.02V511.29H527.24V510.93H528.46V510.54H529.68V510.85H530.9V511.24H532.12V511.3H533.34V511.3H534.56V511.25H535.78V510.35H537.01V509.45H538.23V508.72H539.45V508.42H540.67V508.13H541.89V507.65H543.11V507.04H544.33V506.43H545.55V507.03H546.77V507.95H547.99V508.78H549.21V508.49H550.43V508.2H551.66V507.81H552.88V507.18H554.1V506.55H555.32V506.11H556.54V505.78H557.76V505.46H558.98V505.16H560.2V504.86H561.42V504.53H562.64V503.92H563.86V503.31H565.08V502.7H566.31V502.09H567.53V501.48H568.75V500.7H569.97V499.78H571.19V498.85H572.41V499.21H573.63V499.82H574.85V500.44H576.07V501.27H577.29V502.1H578.51V500.21H579.73V498.32H580.96V497.18H582.18V497.79H583.4V498.4H584.62V498.55H585.84V498.26H587.06V497.98H588.28V498.36H589.5V498.99H590.72V499.63H591.94V500.82H593.16V502H594.38V503.05H595.61V503.68H596.83V504.31H598.05V504.93H599.27V505.54H600.49V506.15H601.71V508.14H602.93V510.58H604.15V511.51H605.37V511.8H606.59V512.1H607.81V513.04H609.03V513.97H610.25V514.76H611.48V515.05H612.7V515.34H613.92V515.5H615.14V515.5H616.36V515.5H617.58V515.71H618.8V516H620.02V516.28H621.24V515.74H622.46V515.15H623.68V514.92H624.9V515.81H626.13V516.71H627.35V517.34H628.57V517.63H629.79V517.93H631.01V517.54H632.23V516.93H633.45V516.32H634.67V516.62H635.89V516.96H637.11V517.28H638.33V517.56H639.55V517.85H640.78V518.14H642V518.43H643.22V518.71H644.44V518.8H645.66V518.8H646.88V518.8H648.1V518.69H649.32V518.58H650.54V518.47H651.76V518.38H652.98V518.25H654.2V517.64H655.43V517.03H656.65V515.94H657.87V514.72H659.09V513.68H660.31V512.78H661.53V512.09H662.75V511.77H663.97V511.45H665.19V511.14H666.41V510.82H667.63V510.5H668.85V510.19H670.08V509.83H671.3V509.39H672.52V508.17H673.74V506.95H674.96V505.73H676.18V504.56H677.4V503.65H678.62V502.75H679.84V501.89H681.06V500.93H682.28V499.71H683.5V498.63H684.73V498.95H685.95V499.26H687.17V499.8H688.39V500.37H689.61V500.44H690.83V500.17H692.05V500.46H693.27V501.68H694.49V502H695.71V502H696.93V501.67H698.15V501.03H699.38V500.51H700.6V500.24H701.82V500H703.04V500H704.26V500H705.48V500.52H706.7V501.11H707.92V500.23H709.14V498.66H710.36V500.59H711.58V502.5H712.8V504.03H714.03V505.4H715.25V505.4H716.47V505.4H717.69V505.03H718.91V504.85H720.13V505.71H721.35V506.59H722.57V507.49H723.79V508.2H725.01V508.52H726.23V508.91H727.45V509.81H728.68V510.72H729.9V511.62H731.12V512.52H732.34V512.58H733.56V512.26H734.78V512.1H736V523.6Z" fill="url(#sOrange)"/>
<path d="M56,523.6V523.4H57.22V523.4H58.44V523.4H59.66V523.4H60.88V523.4H62.1V523.4H63.32V523.4H64.55V523.4H65.77V523.4H66.99V523.4H68.21V523.4H69.43V523.4H70.65V523.32H71.87V523.23H73.09V522.95H74.31V522.53H75.53V521.18H76.75V519.53H77.97V512.99H79.2V504.38H80.42V500.05H81.64V494.22H82.86V485.15H84.08V477.69H85.3V474.09H86.52V469.34H87.74V467.55H88.96V465.14H90.18V460.63H91.4V459.51H92.62V459.98H93.85V461.53H95.07V462.06H96.29V462.47H97.51V462.87H98.73V463.17H99.95V464.46H101.17V467.72H102.39V471.35H103.61V472.65H104.83V473.46H106.05V474.28H107.27V474.8H108.5V475.2H109.72V477.81H110.94V484.27H112.16V485.18H113.38V485.99H114.6V486.93H115.82V488H117.04V489.15H118.26V490.37H119.48V491.6H120.7V492.91H121.92V496.57H123.15V499.01H124.37V500.48H125.59V502.16H126.81V504.06H128.03V505.69H129.25V507.31H130.47V508.22H131.69V508.82H132.91V509.31H134.13V509.92H135.35V511.6H136.57V512.98H137.8V513.58H139.02V513.71H140.24V513.96H141.46V514.53H142.68V515.01H143.9V515.49H145.12V516.19H146.34V516.97H147.56V517.88H148.78V518.73H150V519.44H151.22V520.15H152.45V520.69H153.67V520.92H154.89V521.15H156.11V521.34H157.33V521.45H158.55V521.56H159.77V521.68H160.99V521.79H162.21V521.84H163.43V521.89H164.65V521.93H165.87V521.98H167.1V522.03H168.32V522.07H169.54V522.11H170.76V522.16H171.98V522.2H173.2V522.22H174.42V522.23H175.64V522.25H176.86V522.27H178.08V522.28H179.3V522.3H180.52V522.3H181.75V522.3H182.97V522.3H184.19V522.3H185.41V522.3H186.63V522.3H187.85V522.3H189.07V522.3H190.29V522.34H191.51V522.52H192.73V522.7H193.95V522.8H195.17V522.8H196.39V522.8H197.62V522.8H198.84V522.8H200.06V522.8H201.28V522.8H202.5V522.8H203.72V522.8H204.94V522.8H206.16V522.8H207.38V522.8H208.6V522.8H209.82V522.8H211.04V522.8H212.27V522.8H213.49V522.8H214.71V522.8H215.93V522.8H217.15V522.8H218.37V522.8H219.59V522.8H220.81V522.8H222.03V522.8H223.25V522.8H224.47V522.8H225.69V522.8H226.92V522.8H228.14V522.8H229.36V522.8H230.58V522.8H231.8V522.8H233.02V522.8H234.24V522.8H235.46V522.8H236.68V522.8H237.9V522.8H239.12V522.8H240.34V522.8H241.57V522.33H242.79V521.75H244.01V520.97H245.23V520.19H246.45V519.62H247.67V519.4H248.89V519.19H250.11V519.1H251.33V519.1H252.55V519.1H253.77V519.1H254.99V519.1H256.22V519.1H257.44V518.65H258.66V517.81H259.88V517.18H261.1V516.87H262.32V516.59H263.54V516.49H264.76V516.39H265.98V516.21H267.2V515.66H268.42V515.1H269.64V515.02H270.87V515.52H272.09V516.01H273.31V516.44H274.53V516.77H275.75V517.11H276.97V516.53H278.19V515.61H279.41V514.69H280.63V514.08H281.85V513.47H283.07V512.92H284.29V512.6H285.52V512.28H286.74V511.93H287.96V511.53H289.18V511.46H290.4V511.85H291.62V511.96H292.84V511.57H294.06V511.05H295.28V510.22H296.5V509.6H297.72V509.6H298.94V509.66H300.17V510.1H301.39V510.43H302.61V509.6H303.83V508.77H305.05V507.94H306.27V507.11H307.49V507.48H308.71V507.87H309.93V508.68H311.15V509.51H312.37V509.98H313.59V510.4H314.82V510.5H316.04V510.5H317.26V510.92H318.48V511.51H319.7V512.1H320.92V512.43H322.14V512.75H323.36V513H324.58V513H325.8V513H327.02V513.32H328.24V513.93H329.46V514.54H330.69V514.25H331.91V513.64H333.13V513.03H334.35V513.6H335.57V514.23H336.79V514.4H338.01V513.18H339.23V511.96H340.45V511.16H341.67V510.87H342.89V510.57H344.11V509.57H345.34V508.35H346.56V507.13H347.78V505.91H349V504.69H350.22V503.14H351.44V500.7H352.66V498.26H353.88V495.82H355.1V493.37H356.32V491.64H357.54V490.81H358.76V490.19H359.99V489.9H361.21V489.61H362.43V488.94H363.65V488.02H364.87V487.09H366.09V485.9H367.31V484.62H368.53V483.27H369.75V482.03H370.97V482.51H372.19V482.47H373.41V481.67H374.64V481.34H375.86V482.17H377.08V483H378.3V483.83H379.52V484.65H380.74V485.43H381.96V486.23H383.18V487.16H384.4V488.1H385.62V489.13H386.84V490.35H388.06V491.58H389.29V491.81H390.51V491.53H391.73V491.24H392.95V491.2H394.17V491.2H395.39V491.7H396.61V492.31H397.83V492.92H399.05V493.51H400.27V494.1H401.49V494.8H402.71V495.69H403.94V496.59H405.16V497.18H406.38V497.51H407.6V497.85H408.82V498.9H410.04V500.08H411.26V501.26H412.48V502.22H413.7V503.18H414.92V503.9H416.14V504.19H417.36V504.48H418.59V505.55H419.81V507.21H421.03V508H422.25V508H423.47V508H424.69V508H425.91V508H427.13V508.16H428.35V508.4H429.57V508.57H430.79V508.34H432.01V508.12H433.24V507.76H434.46V507.23H435.68V506.69H436.9V505.64H438.12V504.39H439.34V502.72H440.56V501.1H441.78V499.51H443V497.01H444.22V494.72H445.44V492.71H446.66V491.63H447.89V490.55H449.11V488.45H450.33V485.34H451.55V483.9H452.77V483.9H453.99V483.9H455.21V483.51H456.43V482.97H457.65V482.13H458.87V481.06H460.09V479.95H461.31V479.34H462.54V479.29H463.76V479.93H464.98V478.33H466.2V478H467.42V477.81H468.64V476.82H469.86V478.91H471.08V481.35H472.3V483.73H473.52V486.58H474.74V488.54H475.96V488.9H477.18V489.33H478.41V489.9H479.63V491.05H480.85V492.2H482.07V493.01H483.29V493.3H484.51V493.59H485.73V494.42H486.95V495.6H488.17V496.79H489.39V497.27H490.61V497.61H491.83V497.93H493.06V498.22H494.28V498.51H495.5V498.81H496.72V499.14H497.94V499.48H499.16V500.17H500.38V501.06H501.6V501.96H502.82V502.63H504.04V503.26H505.26V503.93H506.48V504.83H507.71V505.72H508.93V506.41H510.15V506.7H511.37V507H512.59V507.31H513.81V507.63H515.03V507.96H516.25V508.25H517.47V508.54H518.69V508.85H519.91V509.48H521.13V510.11H522.36V510.59H523.58V510.82H524.8V511.05H526.02V511.29H527.24V510.93H528.46V510.54H529.68V510.85H530.9V511.24H532.12V511.3H533.34V511.3H534.56V511.25H535.78V510.35H537.01V509.45H538.23V508.72H539.45V508.42H540.67V508.13H541.89V507.65H543.11V507.04H544.33V506.43H545.55V507.03H546.77V507.95H547.99V508.78H549.21V508.49H550.43V508.2H551.66V507.81H552.88V507.18H554.1V506.55H555.32V506.11H556.54V505.78H557.76V505.46H558.98V505.16H560.2V504.86H561.42V504.53H562.64V503.92H563.86V503.31H565.08V502.7H566.31V502.09H567.53V501.48H568.75V500.7H569.97V499.78H571.19V498.85H572.41V499.21H573.63V499.82H574.85V500.44H576.07V501.27H577.29V502.1H578.51V500.21H579.73V498.32H580.96V497.18H582.18V497.79H583.4V498.4H584.62V498.55H585.84V498.26H587.06V497.98H588.28V498.36H589.5V498.99H590.72V499.63H591.94V500.82H593.16V502H594.38V503.05H595.61V503.68H596.83V504.31H598.05V504.93H599.27V505.54H600.49V506.15H601.71V508.14H602.93V510.58H604.15V511.51H605.37V511.8H606.59V512.1H607.81V513.04H609.03V513.97H610.25V514.76H611.48V515.05H612.7V515.34H613.92V515.5H615.14V515.5H616.36V515.5H617.58V515.71H618.8V516H620.02V516.28H621.24V515.74H622.46V515.15H623.68V514.92H624.9V515.81H626.13V516.71H627.35V517.34H628.57V517.63H629.79V517.93H631.01V517.54H632.23V516.93H633.45V516.32H634.67V516.62H635.89V516.96H637.11V517.28H638.33V517.56H639.55V517.85H640.78V518.14H642V518.43H643.22V518.71H644.44V518.8H645.66V518.8H646.88V518.8H648.1V518.69H649.32V518.58H650.54V518.47H651.76V518.38H652.98V518.25H654.2V517.64H655.43V517.03H656.65V515.94H657.87V514.72H659.09V513.68H660.31V512.78H661.53V512.09H662.75V511.77H663.97V511.45H665.19V511.14H666.41V510.82H667.63V510.5H668.85V510.19H670.08V509.83H671.3V509.39H672.52V508.17H673.74V506.95H674.96V505.73H676.18V504.56H677.4V503.65H678.62V502.75H679.84V501.89H681.06V500.93H682.28V499.71H683.5V498.63H684.73V498.95H685.95V499.26H687.17V499.8H688.39V500.37H689.61V500.44H690.83V500.17H692.05V500.46H693.27V501.68H694.49V502H695.71V502H696.93V501.67H698.15V501.03H699.38V500.51H700.6V500.24H701.82V500H703.04V500H704.26V500H705.48V500.52H706.7V501.11H707.92V500.23H709.14V498.66H710.36V500.59H711.58V502.5H712.8V504.03H714.03V505.4H715.25V505.4H716.47V505.4H717.69V505.03H718.91V504.85H720.13V505.71H721.35V506.59H722.57V507.49H723.79V508.2H725.01V508.52H726.23V508.91H727.45V509.81H728.68V510.72H729.9V511.62H731.12V512.52H732.34V512.58H733.56V512.26H734.78V512.1H736V523.6Z" fill="#adc6e3"/>
<path d="M56,523.6V523.4H57.22V523.4H58.44V523.4H59.66V523.4H60.88V523.4H62.1V523.4H63.32V523.4H64.55V523.4H65.77V523.4H66.99V523.4H68.21V523.4H69.43V523.4H70.65V523.32H71.87V523.23H73.09V522.95H74.31V522.53H75.53V521.18H76.75V519.53H77.97V512.99H79.2V504.38H80.42V500.05H81.64V494.22H82.86V485.15H84.08V477.69H85.3V474.09H86.52V469.34H87.74V467.55H88.96V465.14H90.18V460.63H91.4V459.51H92.62V459.98H93.85V461.53H95.07V462.06H96.29V462.47H97.51V462.87H98.73V463.17H99.95V464.46H101.17V467.72H102.39V471.35H103.61V472.65H104.83V473.46H106.05V474.28H107.27V474.8H108.5V475.2H109.72V477.81H110.94V484.27H112.16V485.18H113.38V485.99H114.6V486.93H115.82V488H117.04V489.15H118.26V490.37H119.48V491.6H120.7V492.91H121.92V496.57H123.15V499.01H124.37V500.48H125.59V502.16H126.81V504.06H128.03V505.69H129.25V507.31H130.47V508.22H131.69V508.82H132.91V509.31H134.13V509.92H135.35V511.6H136.57V512.98H137.8V513.58H139.02V513.71H140.24V513.96H141.46V514.53H142.68V515.01H143.9V515.49H145.12V516.19H146.34V516.97H147.56V517.88H148.78V518.73H150V519.44H151.22V520.15H152.45V520.69H153.67V520.92H154.89V521.15H156.11V521.34H157.33V521.45H158.55V521.56H159.77V521.68H160.99V521.79H162.21V521.84H163.43V521.89H164.65V521.93H165.87V521.98H167.1V522.03H168.32V522.07H169.54V522.11H170.76V522.16H171.98V522.2H173.2V522.22H174.42V522.23H175.64V522.25H176.86V522.27H178.08V522.28H179.3V522.3H180.52V522.3H181.75V522.3H182.97V522.3H184.19V522.3H185.41V522.3H186.63V522.3H187.85V522.3H189.07V522.3H190.29V522.34H191.51V522.52H192.73V522.7H193.95V522.8H195.17V522.8H196.39V522.8H197.62V522.8H198.84V522.8H200.06V522.8H201.28V522.8H202.5V522.8H203.72V522.8H204.94V522.8H206.16V522.8H207.38V522.8H208.6V522.8H209.82V522.8H211.04V522.8H212.27V522.8H213.49V522.8H214.71V522.8H215.93V522.8H217.15V522.8H218.37V522.8H219.59V522.8H220.81V522.8H222.03V522.8H223.25V522.8H224.47V522.8H225.69V522.8H226.92V522.8H228.14V522.8H229.36V522.8H230.58V522.8H231.8V522.8H233.02V522.8H234.24V522.8H235.46V522.8H236.68V522.8H237.9V522.8H239.12V522.8H240.34V522.8H241.57V522.33H242.79V521.75H244.01V520.97H245.23V520.19H246.45V519.62H247.67V519.4H248.89V519.19H250.11V519.1H251.33V519.1H252.55V519.1H253.77V519.1H254.99V519.1H256.22V519.1H257.44V518.65H258.66V517.81H259.88V517.18H261.1V516.87H262.32V516.59H263.54V516.49H264.76V516.39H265.98V516.21H267.2V515.66H268.42V515.1H269.64V515.02H270.87V515.52H272.09V516.01H273.31V516.44H274.53V516.77H275.75V517.11H276.97V516.53H278.19V515.61H279.41V514.69H280.63V514.08H281.85V513.47H283.07V512.92H284.29V512.6H285.52V512.28H286.74V511.93H287.96V511.53H289.18V511.46H290.4V511.85H291.62V511.96H292.84V511.57H294.06V511.05H295.28V510.22H296.5V509.6H297.72V509.6H298.94V509.66H300.17V510.1H301.39V510.43H302.61V509.6H303.83V508.77H305.05V507.94H306.27V507.11H307.49V507.48H308.71V507.87H309.93V508.68H311.15V509.51H312.37V509.98H313.59V510.4H314.82V510.5H316.04V510.5H317.26V510.92H318.48V511.51H319.7V512.1H320.92V512.43H322.14V512.75H323.36V513H324.58V513H325.8V513H327.02V513.32H328.24V513.93H329.46V514.54H330.69V514.25H331.91V513.64H333.13V513.03H334.35V513.6H335.57V514.23H336.79V514.4H338.01V513.18H339.23V511.96H340.45V511.16H341.67V510.87H342.89V510.57H344.11V509.57H345.34V508.35H346.56V507.13H347.78V505.91H349V504.69H350.22V503.14H351.44V500.7H352.66V498.26H353.88V495.82H355.1V493.37H356.32V491.64H357.54V490.81H358.76V490.19H359.99V489.9H361.21V489.61H362.43V488.94H363.65V488.02H364.87V487.09H366.09V485.9H367.31V484.62H368.53V483.27H369.75V482.03H370.97V482.51H372.19V482.47H373.41V481.67H374.64V481.34H375.86V482.17H377.08V483H378.3V483.83H379.52V484.65H380.74V485.43H381.96V486.23H383.18V487.16H384.4V488.1H385.62V489.13H386.84V490.35H388.06V491.58H389.29V491.81H390.51V491.53H391.73V491.24H392.95V491.2H394.17V491.2H395.39V491.7H396.61V492.31H397.83V492.92H399.05V493.51H400.27V494.1H401.49V494.8H402.71V495.69H403.94V496.59H405.16V497.18H406.38V497.51H407.6V497.85H408.82V498.9H410.04V500.08H411.26V501.26H412.48V502.22H413.7V503.18H414.92V503.9H416.14V504.19H417.36V504.48H418.59V505.55H419.81V507.21H421.03V508H422.25V508H423.47V508H424.69V508H425.91V508H427.13V508.16H428.35V508.4H429.57V508.57H430.79V508.34H432.01V508.12H433.24V507.76H434.46V507.23H435.68V506.69H436.9V505.64H438.12V504.39H439.34V502.72H440.56V501.1H441.78V499.51H443V497.01H444.22V494.72H445.44V492.71H446.66V491.63H447.89V490.55H449.11V488.45H450.33V485.34H451.55V483.9H452.77V483.9H453.99V483.9H455.21V483.51H456.43V482.97H457.65V482.13H458.87V481.06H460.09V479.95H461.31V479.34H462.54V479.29H463.76V479.93H464.98V478.33H466.2V478H467.42V477.81H468.64V476.82H469.86V478.91H471.08V481.35H472.3V483.73H473.52V486.58H474.74V488.54H475.96V488.9H477.18V489.33H478.41V489.9H479.63V491.05H480.85V492.2H482.07V493.01H483.29V493.3H484.51V493.59H485.73V494.42H486.95V495.6H488.17V496.79H489.39V497.27H490.61V497.61H491.83V497.93H493.06V498.22H494.28V498.51H495.5V498.81H496.72V499.14H497.94V499.48H499.16V500.17H500.38V501.06H501.6V501.96H502.82V502.63H504.04V503.26H505.26V503.93H506.48V504.83H507.71V505.72H508.93V506.41H510.15V506.7H511.37V507H512.59V507.31H513.81V507.63H515.03V507.96H516.25V508.25H517.47V508.54H518.69V508.85H519.91V509.48H521.13V510.11H522.36V510.59H523.58V510.82H524.8V511.05H526.02V511.29H527.24V510.93H528.46V510.54H529.68V510.85H530.9V511.24H532.12V511.3H533.34V511.3H534.56V511.25H535.78V510.35H537.01V509.45H538.23V508.72H539.45V508.42H540.67V508.13H541.89V507.65H543.11V507.04H544.33V506.43H545.55V507.03H546.77V507.95H547.99V508.78H549.21V508.49H550.43V508.2H551.66V507.81H552.88V507.18H554.1V506.55H555.32V506.11H556.54V505.78H557.76V505.46H558.98V505.16H560.2V504.86H561.42V504.53H562.64V503.92H563.86V503.31H565.08V502.7H566.31V502.09H567.53V501.48H568.75V500.7H569.97V499.78H571.19V498.85H572.41V499.21H573.63V499.82H574.85V500.44H576.07V501.27H577.29V502.1H578.51V500.21H579.73V498.32H580.96V497.18H582.18V497.79H583.4V498.4H584.62V498.55H585.84V498.26H587.06V497.98H588.28V498.36H589.5V498.99H590.72V499.63H591.94V500.82H593.16V502H594.38V503.05H595.61V503.68H596.83V504.31H598.05V504.93H599.27V505.54H600.49V506.15H601.71V508.14H602.93V510.58H604.15V511.51H605.37V511.8H606.59V512.1H607.81V513.04H609.03V513.97H610.25V514.76H611.48V515.05H612.7V515.34H613.92V515.5H615.14V515.5H616.36V515.5H617.58V515.71H618.8V516H620.02V516.28H621.24V515.74H622.46V515.15H623.68V514.92H624.9V515.81H626.13V516.71H627.35V517.34H628.57V517.63H629.79V517.93H631.01V517.54H632.23V516.93H633.45V516.32H634.67V516.62H635.89V516.96H637.11V517.28H638.33V517.56H639.55V517.85H640.78V518.14H642V518.43H643.22V518.71H644.44V518.8H645.66V518.8H646.88V518.8H648.1V518.69H649.32V518.58H650.54V518.47H651.76V518.38H652.98V518.25H654.2V517.64H655.43V517.03H656.65V515.94H657.87V514.72H659.09V513.68H660.31V512.78H661.53V512.09H662.75V511.77H663.97V511.45H665.19V511.14H666.41V510.82H667.63V510.5H668.85V510.19H670.08V509.83H671.3V509.39H672.52V508.17H673.74V506.95H674.96V505.73H676.18V504.56H677.4V503.65H678.62V502.75H679.84V501.89H681.06V500.93H682.28V499.71H683.5V498.63H684.73V498.95H685.95V499.26H687.17V499.8H688.39V500.37H689.61V500.44H690.83V500.17H692.05V500.46H693.27V501.68H694.49V502H695.71V502H696.93V501.67H698.15V501.03H699.38V500.51H700.6V500.24H701.82V500H703.04V500H704.26V500H705.48V500.52H706.7V501.11H707.92V500.23H709.14V498.66H710.36V500.59H711.58V502.5H712.8V504.03H714.03V505.4H715.25V505.4H716.47V505.4H717.69V505.03H718.91V504.85H720.13V505.71H721.35V506.59H722.57V507.49H723.79V508.2H725.01V508.52H726.23V508.91H727.45V509.81H728.68V510.72H729.9V511.62H731.12V512.52H732.34V512.58H733.56V512.26H734.78V512.1H736V523.6Z" fill="url(#stripes)"/>
<line x1="56" y1="376" x2="736" y2="376" stroke="rgba(0,0,0,0.14)" stroke-width="1"/>
<line x1="56" y1="412.9" x2="736" y2="412.9" stroke="rgba(0,0,0,0.14)" stroke-width="1"/>
<line x1="56" y1="449.8" x2="736" y2="449.8" stroke="rgba(0,0,0,0.14)" stroke-width="1"/>
<line x1="56" y1="486.7" x2="736" y2="486.7" stroke="rgba(0,0,0,0.14)" stroke-width="1"/>
<line x1="56" y1="523.6" x2="736" y2="523.6" stroke="rgba(0,0,0,0.14)" stroke-width="1"/>
<text x="43.3" y="379.8" text-anchor="end" font-family="'Liberation Sans',Arial,sans-serif" font-size="12" fill="#787878">500</text>
<text x="43.3" y="416.7" text-anchor="end" font-family="'Liberation Sans',Arial,sans-serif" font-size="12" fill="#787878">375</text>
<text x="43.3" y="453.6" text-anchor="end" font-family="'Liberation Sans',Arial,sans-serif" font-size="12" fill="#787878">250</text>
<text x="43.3" y="490.5" text-anchor="end" font-family="'Liberation Sans',Arial,sans-serif" font-size="12" fill="#787878">125</text>
<text x="43.3" y="527.4" text-anchor="end" font-family="'Liberation Sans',Arial,sans-serif" font-size="12" fill="#787878">0</text>
<text transform="translate(60.8,542.2) rotate(-60)" text-anchor="end" font-family="'Liberation Sans',Arial,sans-serif" font-size="12" fill="#787878">01/03/2020</text>
<text transform="translate(79.11,542.2) rotate(-60)" text-anchor="end" font-family="'Liberation Sans',Arial,sans-serif" font-size="12" fill="#787878">16/03/2020</text>
<text transform="translate(97.42,542.2) rotate(-60)" text-anchor="end" font-family="'Liberation Sans',Arial,sans-serif" font-size="12" fill="#787878">31/03/2020</text>
<text transform="translate(115.73,542.2) rotate(-60)" text-anchor="end" font-family="'Liberation Sans',Arial,sans-serif" font-size="12" fill="#787878">15/04/2020</text>
<text transform="translate(134.04,542.2) rotate(-60)" text-anchor="end" font-family="'Liberation Sans',Arial,sans-serif" font-size="12" fill="#787878">30/04/2020</text>
<text transform="translate(152.35,542.2) rotate(-60)" text-anchor="end" font-family="'Liberation Sans',Arial,sans-serif" font-size="12" fill="#787878">15/05/2020</text>
<text transform="translate(170.66,542.2) rotate(-60)" text-anchor="end" font-family="'Liberation Sans',Arial,sans-serif" font-size="12" fill="#787878">30/05/2020</text>
<text transform="translate(188.97,542.2) rotate(-60)" text-anchor="end" font-family="'Liberation Sans',Arial,sans-serif" font-size="12" fill="#787878">14/06/2020</text>
<text transform="translate(207.28,542.2) rotate(-60)" text-anchor="end" font-family="'Liberation Sans',Arial,sans-serif" font-size="12" fill="#787878">29/06/2020</text>
<text transform="translate(225.59,542.2) rotate(-60)" text-anchor="end" font-family="'Liberation Sans',Arial,sans-serif" font-size="12" fill="#787878">14/07/2020</text>
<text transform="translate(243.9,542.2) rotate(-60)" text-anchor="end" font-family="'Liberation Sans',Arial,sans-serif" font-size="12" fill="#787878">29/07/2020</text>
<text transform="translate(262.21,542.2) rotate(-60)" text-anchor="end" font-family="'Liberation Sans',Arial,sans-serif" font-size="12" fill="#787878">13/08/2020</text>
<text transform="translate(280.52,542.2) rotate(-60)" text-anchor="end" font-family="'Liberation Sans',Arial,sans-serif" font-size="12" fill="#787878">28/08/2020</text>
<text transform="translate(298.83,542.2) rotate(-60)" text-anchor="end" font-family="'Liberation Sans',Arial,sans-serif" font-size="12" fill="#787878">12/09/2020</text>
<text transform="translate(317.14,542.2) rotate(-60)" text-anchor="end" font-family="'Liberation Sans',Arial,sans-serif" font-size="12" fill="#787878">27/09/2020</text>
<text transform="translate(335.45,542.2) rotate(-60)" text-anchor="end" font-family="'Liberation Sans',Arial,sans-serif" font-size="12" fill="#787878">11/10/2020</text>
<text transform="translate(353.76,542.2) rotate(-60)" text-anchor="end" font-family="'Liberation Sans',Arial,sans-serif" font-size="12" fill="#787878">26/10/2020</text>
<text transform="translate(372.07,542.2) rotate(-60)" text-anchor="end" font-family="'Liberation Sans',Arial,sans-serif" font-size="12" fill="#787878">09/11/2020</text>
<text transform="translate(390.38,542.2) rotate(-60)" text-anchor="end" font-family="'Liberation Sans',Arial,sans-serif" font-size="12" fill="#787878">24/11/2020</text>
<text transform="translate(408.69,542.2) rotate(-60)" text-anchor="end" font-family="'Liberation Sans',Arial,sans-serif" font-size="12" fill="#787878">09/12/2020</text>
<text transform="translate(427,542.2) rotate(-60)" text-anchor="end" font-family="'Liberation Sans',Arial,sans-serif" font-size="12" fill="#787878">24/12/2020</text>
<text transform="translate(445.31,542.2) rotate(-60)" text-anchor="end" font-family="'Liberation Sans',Arial,sans-serif" font-size="12" fill="#787878">08/01/2021</text>
<text transform="translate(463.62,542.2) rotate(-60)" text-anchor="end" font-family="'Liberation Sans',Arial,sans-serif" font-size="12" fill="#787878">23/01/2021</text>
<text transform="translate(481.93,542.2) rotate(-60)" text-anchor="end" font-family="'Liberation Sans',Arial,sans-serif" font-size="12" fill="#787878">07/02/2021</text>
<text transform="translate(500.24,542.2) rotate(-60)" text-anchor="end" font-family="'Liberation Sans',Arial,sans-serif" font-size="12" fill="#787878">22/02/2021</text>
<text transform="translate(518.55,542.2) rotate(-60)" text-anchor="end" font-family="'Liberation Sans',Arial,sans-serif" font-size="12" fill="#787878">09/03/2021</text>
<text transform="translate(536.86,542.2) rotate(-60)" text-anchor="end" font-family="'Liberation Sans',Arial,sans-serif" font-size="12" fill="#787878">24/03/2021</text>
<text transform="translate(555.17,542.2) rotate(-60)" text-anchor="end" font-family="'Liberation Sans',Arial,sans-serif" font-size="12" fill="#787878">08/04/2021</text>
<text transform="translate(573.48,542.2) rotate(-60)" text-anchor="end" font-family="'Liberation Sans',Arial,sans-serif" font-size="12" fill="#787878">23/04/2021</text>
<text transform="translate(591.79,542.2) rotate(-60)" text-anchor="end" font-family="'Liberation Sans',Arial,sans-serif" font-size="12" fill="#787878">08/05/2021</text>
<text transform="translate(610.1,542.2) rotate(-60)" text-anchor="end" font-family="'Liberation Sans',Arial,sans-serif" font-size="12" fill="#787878">23/05/2021</text>
<text transform="translate(628.41,542.2) rotate(-60)" text-anchor="end" font-family="'Liberation Sans',Arial,sans-serif" font-size="12" fill="#787878">07/06/2021</text>
<text transform="translate(646.72,542.2) rotate(-60)" text-anchor="end" font-family="'Liberation Sans',Arial,sans-serif" font-size="12" fill="#787878">22/06/2021</text>
<text transform="translate(665.03,542.2) rotate(-60)" text-anchor="end" font-family="'Liberation Sans',Arial,sans-serif" font-size="12" fill="#787878">07/07/2021</text>
<text transform="translate(683.34,542.2) rotate(-60)" text-anchor="end" font-family="'Liberation Sans',Arial,sans-serif" font-size="12" fill="#787878">22/07/2021</text>
<text transform="translate(701.65,542.2) rotate(-60)" text-anchor="end" font-family="'Liberation Sans',Arial,sans-serif" font-size="12" fill="#787878">06/08/2021</text>
<text transform="translate(719.96,542.2) rotate(-60)" text-anchor="end" font-family="'Liberation Sans',Arial,sans-serif" font-size="12" fill="#787878">21/08/2021</text>
<text transform="translate(738.27,542.2) rotate(-60)" text-anchor="end" font-family="'Liberation Sans',Arial,sans-serif" font-size="12" fill="#787878">05/09/2021</text>
<text x="11.1" y="643.5" font-family="'DejaVu Sans Condensed','DejaVu Sans',sans-serif" font-size="15.77" fill="#6c98cd" style="white-space:pre;font-stretch:condensed">Incidencia acumulada por 100.000 habitantes por 14 días (IA 14d) de Cantabria</text>
<line x1="56" y1="681.7" x2="736" y2="681.7" stroke="rgba(0,0,0,0.14)" stroke-width="1"/>
<line x1="56" y1="718.6" x2="736" y2="718.6" stroke="rgba(0,0,0,0.14)" stroke-width="1"/>
<line x1="56" y1="755.5" x2="736" y2="755.5" stroke="rgba(0,0,0,0.14)" stroke-width="1"/>
<line x1="56" y1="792.3" x2="736" y2="792.3" stroke="rgba(0,0,0,0.14)" stroke-width="1"/>
<line x1="56" y1="829.2" x2="736" y2="829.2" stroke="rgba(0,0,0,0.14)" stroke-width="1"/>
<text x="43.3" y="685.5" text-anchor="end" font-family="'Liberation Sans',Arial,sans-serif" font-size="12" fill="#787878">800</text>
<text x="43.3" y="722.4" text-anchor="end" font-family="'Liberation Sans',Arial,sans-serif" font-size="12" fill="#787878">600</text>
<text x="43.3" y="759.3" text-anchor="end" font-family="'Liberation Sans',Arial,sans-serif" font-size="12" fill="#787878">400</text>
<text x="43.3" y="796.1" text-anchor="end" font-family="'Liberation Sans',Arial,sans-serif" font-size="12" fill="#787878">200</text>
<text x="43.3" y="833" text-anchor="end" font-family="'Liberation Sans',Arial,sans-serif" font-size="12" fill="#787878">0</text>
<text transform="translate(60.5,847.8) rotate(-59.5)" text-anchor="end" font-family="'Liberation Sans',Arial,sans-serif" font-size="11.5" fill="#787878">1/3/2020</text>
<text transform="translate(98.59,847.8) rotate(-59.5)" text-anchor="end" font-family="'Liberation Sans',Arial,sans-serif" font-size="11.5" fill="#787878">1/4/2020</text>
<text transform="translate(135.45,847.8) rotate(-59.5)" text-anchor="end" font-family="'Liberation Sans',Arial,sans-serif" font-size="11.5" fill="#787878">1/5/2020</text>
<text transform="translate(173.54,847.8) rotate(-59.5)" text-anchor="end" font-family="'Liberation Sans',Arial,sans-serif" font-size="11.5" fill="#787878">1/6/2020</text>
<text transform="translate(210.4,847.8) rotate(-59.5)" text-anchor="end" font-family="'Liberation Sans',Arial,sans-serif" font-size="11.5" fill="#787878">1/7/2020</text>
<text transform="translate(248.49,847.8) rotate(-59.5)" text-anchor="end" font-family="'Liberation Sans',Arial,sans-serif" font-size="11.5" fill="#787878">1/8/2020</text>
<text transform="translate(286.58,847.8) rotate(-59.5)" text-anchor="end" font-family="'Liberation Sans',Arial,sans-serif" font-size="11.5" fill="#787878">1/9/2020</text>
<text transform="translate(323.44,847.8) rotate(-59.5)" text-anchor="end" font-family="'Liberation Sans',Arial,sans-serif" font-size="11.5" fill="#787878">1/10/2020</text>
<text transform="translate(361.53,847.8) rotate(-59.5)" text-anchor="end" font-family="'Liberation Sans',Arial,sans-serif" font-size="11.5" fill="#787878">1/11/2020</text>
<text transform="translate(398.39,847.8) rotate(-59.5)" text-anchor="end" font-family="'Liberation Sans',Arial,sans-serif" font-size="11.5" fill="#787878">1/12/2020</text>
<text transform="translate(436.48,847.8) rotate(-59.5)" text-anchor="end" font-family="'Liberation Sans',Arial,sans-serif" font-size="11.5" fill="#787878">1/1/2021</text>
<text transform="translate(474.57,847.8) rotate(-59.5)" text-anchor="end" font-family="'Liberation Sans',Arial,sans-serif" font-size="11.5" fill="#787878">1/2/2021</text>
<text transform="translate(508.98,847.8) rotate(-59.5)" text-anchor="end" font-family="'Liberation Sans',Arial,sans-serif" font-size="11.5" fill="#787878">1/3/2021</text>
<text transform="translate(547.07,847.8) rotate(-59.5)" text-anchor="end" font-family="'Liberation Sans',Arial,sans-serif" font-size="11.5" fill="#787878">1/4/2021</text>
<text transform="translate(583.93,847.8) rotate(-59.5)" text-anchor="end" font-family="'Liberation Sans',Arial,sans-serif" font-size="11.5" fill="#787878">1/5/2021</text>
<text transform="translate(622.02,847.8) rotate(-59.5)" text-anchor="end" font-family="'Liberation Sans',Arial,sans-serif" font-size="11.5" fill="#787878">1/6/2021</text>
<text transform="translate(658.88,847.8) rotate(-59.5)" text-anchor="end" font-family="'Liberation Sans',Arial,sans-serif" font-size="11.5" fill="#787878">1/7/2021</text>
<text transform="translate(696.97,847.8) rotate(-59.5)" text-anchor="end" font-family="'Liberation Sans',Arial,sans-serif" font-size="11.5" fill="#787878">1/8/2021</text>
<text transform="translate(735.06,847.8) rotate(-59.5)" text-anchor="end" font-family="'Liberation Sans',Arial,sans-serif" font-size="11.5" fill="#787878">1/9/2021</text>
<g>
<circle cx="56.3" cy="828.83" r="4" fill="#6a9bd3" stroke="#ffffff" stroke-width="0.9"/>
<circle cx="57.53" cy="828.94" r="4" fill="#6a9bd3" stroke="#ffffff" stroke-width="0.9"/>
<circle cx="58.76" cy="829.06" r="4" fill="#6a9bd3" stroke="#ffffff" stroke-width="0.9"/>
<circle cx="59.99" cy="829.17" r="4" fill="#6a9bd3" stroke="#ffffff" stroke-width="0.9"/>
<circle cx="61.21" cy="829.2" r="4" fill="#6a9bd3" stroke="#ffffff" stroke-width="0.9"/>
<circle cx="62.44" cy="829.2" r="4" fill="#6a9bd3" stroke="#ffffff" stroke-width="0.9"/>
<circle cx="63.67" cy="829.2" r="4" fill="#6a9bd3" stroke="#ffffff" stroke-width="0.9"/>
<circle cx="64.9" cy="829.2" r="4" fill="#6a9bd3" stroke="#ffffff" stroke-width="0.9"/>
<circle cx="66.13" cy="829.2" r="4" fill="#6a9bd3" stroke="#ffffff" stroke-width="0.9"/>
<circle cx="67.36" cy="829.2" r="4" fill="#6a9bd3" stroke="#ffffff" stroke-width="0.9"/>
<circle cx="68.59" cy="829.06" r="4" fill="#6a9bd3" stroke="#ffffff" stroke-width="0.9"/>
<circle cx="69.82" cy="828.78" r="4" fill="#6a9bd3" stroke="#ffffff" stroke-width="0.9"/>
<circle cx="71.04" cy="828.48" r="4" fill="#6a9bd3" stroke="#ffffff" stroke-width="0.9"/>
<circle cx="72.27" cy="827.81" r="4" fill="#6a9bd3" stroke="#ffffff" stroke-width="0.9"/>
<circle cx="73.5" cy="827" r="4" fill="#6a9bd3" stroke="#ffffff" stroke-width="0.9"/>
<circle cx="74.73" cy="825.77" r="4" fill="#6a9bd3" stroke="#ffffff" stroke-width="0.9"/>
<circle cx="75.96" cy="824.31" r="4" fill="#6a9bd3" stroke="#ffffff" stroke-width="0.9"/>
<circle cx="77.19" cy="822.77" r="4" fill="#6a9bd3" stroke="#ffffff" stroke-width="0.9"/>
<circle cx="78.42" cy="820.89" r="4" fill="#6a9bd3" stroke="#ffffff" stroke-width="0.9"/>
<circle cx="80.87" cy="816.72" r="4" fill="#6a9bd3" stroke="#ffffff" stroke-width="0.9"/>
<circle cx="82.1" cy="814.46" r="4" fill="#6a9bd3" stroke="#ffffff" stroke-width="0.9"/>
<circle cx="84.56" cy="809.25" r="4" fill="#6a9bd3" stroke="#ffffff" stroke-width="0.9"/>
<circle cx="85.79" cy="806.38" r="4" fill="#6a9bd3" stroke="#ffffff" stroke-width="0.9"/>
<circle cx="88.25" cy="800.73" r="4" fill="#6a9bd3" stroke="#ffffff" stroke-width="0.9"/>
<circle cx="89.47" cy="797.86" r="4" fill="#6a9bd3" stroke="#ffffff" stroke-width="0.9"/>
<circle cx="91.93" cy="793.2" r="4" fill="#6a9bd3" stroke="#ffffff" stroke-width="0.9"/>
<circle cx="93.16" cy="791.73" r="4" fill="#6a9bd3" stroke="#ffffff" stroke-width="0.9"/>
<circle cx="94.39" cy="790.69" r="4" fill="#6a9bd3" stroke="#ffffff" stroke-width="0.9"/>
<circle cx="95.62" cy="790.26" r="4" fill="#6a9bd3" stroke="#ffffff" stroke-width="0.9"/>
<circle cx="96.85" cy="790.11" r="4" fill="#6a9bd3" stroke="#ffffff" stroke-width="0.9"/>
<circle cx="98.08" cy="790.5" r="4" fill="#6a9bd3" stroke="#ffffff" stroke-width="0.9"/>
<circle cx="99.3" cy="791.46" r="4" fill="#6a9bd3" stroke="#ffffff" stroke-width="0.9"/>
<circle cx="100.53" cy="792.7" r="4" fill="#6a9bd3" stroke="#ffffff" stroke-width="0.9"/>
<circle cx="101.76" cy="794.31" r="4" fill="#6a9bd3" stroke="#ffffff" stroke-width="0.9"/>
<circle cx="102.99" cy="795.98" r="4" fill="#6a9bd3" stroke="#ffffff" stroke-width="0.9"/>
<circle cx="104.22" cy="798.44" r="4" fill="#6a9bd3" stroke="#ffffff" stroke-width="0.9"/>
<circle cx="106.68" cy="802.65" r="4" fill="#6a9bd3" stroke="#ffffff" stroke-width="0.9"/>
<circle cx="107.91" cy="804.29" r="4" fill="#6a9bd3" stroke="#ffffff" stroke-width="0.9"/>
<circle cx="109.13" cy="805.78" r="4" fill="#6a9bd3" stroke="#ffffff" stroke-width="0.9"/>
<circle cx="110.36" cy="807.17" r="4" fill="#6a9bd3" stroke="#ffffff" stroke-width="0.9"/>
<circle cx="111.59" cy="808.54" r="4" fill="#6a9bd3" stroke="#ffffff" stroke-width="0.9"/>
<circle cx="112.82" cy="809.75" r="4" fill="#6a9bd3" stroke="#ffffff" stroke-width="0.9"/>
<circle cx="114.05" cy="810.88" r="4" fill="#6a9bd3" stroke="#ffffff" stroke-width="0.9"/>
<circle cx="115.28" cy="811.77" r="4" fill="#6a9bd3" stroke="#ffffff" stroke-width="0.9"/>
<circle cx="116.51" cy="812.5" r="4" fill="#6a9bd3" stroke="#ffffff" stroke-width="0.9"/>
<circle cx="117.73" cy="813.1" r="4" fill="#6a9bd3" stroke="#ffffff" stroke-width="0.9"/>
<circle cx="118.96" cy="813.6" r="4" fill="#6a9bd3" stroke="#ffffff" stroke-width="0.9"/>
<circle cx="120.19" cy="814.17" r="4" fill="#6a9bd3" stroke="#ffffff" stroke-width="0.9"/>
<circle cx="121.42" cy="814.83" r="4" fill="#6a9bd3" stroke="#ffffff" stroke-width="0.9"/>
<circle cx="122.65" cy="815.47" r="4" fill="#6a9bd3" stroke="#ffffff" stroke-width="0.9"/>
<circle cx="123.88" cy="816.06" r="4" fill="#6a9bd3" stroke="#ffffff" stroke-width="0.9"/>
<circle cx="125.11" cy="816.56" r="4" fill="#6a9bd3" stroke="#ffffff" stroke-width="0.9"/>
<circle cx="126.34" cy="816.8" r="4" fill="#6a9bd3" stroke="#ffffff" stroke-width="0.9"/>
<circle cx="127.56" cy="817.04" r="4" fill="#6a9bd3" stroke="#ffffff" stroke-width="0.9"/>
<circle cx="128.79" cy="817.38" r="4" fill="#6a9bd3" stroke="#ffffff" stroke-width="0.9"/>
<circle cx="130.02" cy="817.72" r="4" fill="#6a9bd3" stroke="#ffffff" stroke-width="0.9"/>
<circle cx="131.25" cy="818.57" r="4" fill="#6a9bd3" stroke="#ffffff" stroke-width="0.9"/>
<circle cx="132.48" cy="819.42" r="4" fill="#6a9bd3" stroke="#ffffff" stroke-width="0.9"/>
<circle cx="133.71" cy="820.18" r="4" fill="#6a9bd3" stroke="#ffffff" stroke-width="0.9"/>
<circle cx="134.94" cy="820.94" r="4" fill="#6a9bd3" stroke="#ffffff" stroke-width="0.9"/>
<circle cx="136.17" cy="821.73" r="4" fill="#6a9bd3" stroke="#ffffff" stroke-width="0.9"/>
<circle cx="137.39" cy="822.53" r="4" fill="#6a9bd3" stroke="#ffffff" stroke-width="0.9"/>
<circle cx="138.62" cy="823.26" r="4" fill="#6a9bd3" stroke="#ffffff" stroke-width="0.9"/>
<circle cx="139.85" cy="823.95" r="4" fill="#6a9bd3" stroke="#ffffff" stroke-width="0.9"/>
<circle cx="141.08" cy="824.69" r="4" fill="#6a9bd3" stroke="#ffffff" stroke-width="0.9"/>
<circle cx="142.31" cy="825.45" r="4" fill="#6a9bd3" stroke="#ffffff" stroke-width="0.9"/>
<circle cx="143.54" cy="826.21" r="4" fill="#6a9bd3" stroke="#ffffff" stroke-width="0.9"/>
<circle cx="144.77" cy="826.71" r="4" fill="#6a9bd3" stroke="#ffffff" stroke-width="0.9"/>
<circle cx="146" cy="827.04" r="4" fill="#6a9bd3" stroke="#ffffff" stroke-width="0.9"/>
<circle cx="147.22" cy="827.36" r="4" fill="#6a9bd3" stroke="#ffffff" stroke-width="0.9"/>
<circle cx="148.45" cy="827.65" r="4" fill="#6a9bd3" stroke="#ffffff" stroke-width="0.9"/>
<circle cx="149.68" cy="827.83" r="4" fill="#6a9bd3" stroke="#ffffff" stroke-width="0.9"/>
<circle cx="150.91" cy="828" r="4" fill="#6a9bd3" stroke="#ffffff" stroke-width="0.9"/>
<circle cx="152.14" cy="828.18" r="4" fill="#6a9bd3" stroke="#ffffff" stroke-width="0.9"/>
<circle cx="153.37" cy="828.33" r="4" fill="#6a9bd3" stroke="#ffffff" stroke-width="0.9"/>
<circle cx="154.6" cy="828.42" r="4" fill="#6a9bd3" stroke="#ffffff" stroke-width="0.9"/>
<circle cx="155.82" cy="828.51" r="4" fill="#6a9bd3" stroke="#ffffff" stroke-width="0.9"/>
<circle cx="157.05" cy="828.6" r="4" fill="#6a9bd3" stroke="#ffffff" stroke-width="0.9"/>
<circle cx="158.28" cy="828.69" r="4" fill="#6a9bd3" stroke="#ffffff" stroke-width="0.9"/>
<circle cx="159.51" cy="828.73" r="4" fill="#6a9bd3" stroke="#ffffff" stroke-width="0.9"/>
<circle cx="160.74" cy="828.77" r="4" fill="#6a9bd3" stroke="#ffffff" stroke-width="0.9"/>
<circle cx="161.97" cy="828.81" r="4" fill="#6a9bd3" stroke="#ffffff" stroke-width="0.9"/>
<circle cx="163.2" cy="828.85" r="4" fill="#6a9bd3" stroke="#ffffff" stroke-width="0.9"/>
<circle cx="164.43" cy="828.89" r="4" fill="#6a9bd3" stroke="#ffffff" stroke-width="0.9"/>
<circle cx="165.65" cy="828.93" r="4" fill="#6a9bd3" stroke="#ffffff" stroke-width="0.9"/>
<circle cx="166.88" cy="828.97" r="4" fill="#6a9bd3" stroke="#ffffff" stroke-width="0.9"/>
<circle cx="168.11" cy="829" r="4" fill="#6a9bd3" stroke="#ffffff" stroke-width="0.9"/>
<circle cx="169.34" cy="829.01" r="4" fill="#6a9bd3" stroke="#ffffff" stroke-width="0.9"/>
<circle cx="170.57" cy="829.02" r="4" fill="#6a9bd3" stroke="#ffffff" stroke-width="0.9"/>
<circle cx="171.8" cy="829.03" r="4" fill="#6a9bd3" stroke="#ffffff" stroke-width="0.9"/>
<circle cx="173.03" cy="829.05" r="4" fill="#6a9bd3" stroke="#ffffff" stroke-width="0.9"/>
<circle cx="174.26" cy="829.06" r="4" fill="#6a9bd3" stroke="#ffffff" stroke-width="0.9"/>
<circle cx="175.48" cy="829.07" r="4" fill="#6a9bd3" stroke="#ffffff" stroke-width="0.9"/>
<circle cx="176.71" cy="829.08" r="4" fill="#6a9bd3" stroke="#ffffff" stroke-width="0.9"/>
<circle cx="177.94" cy="829.09" r="4" fill="#6a9bd3" stroke="#ffffff" stroke-width="0.9"/>
<circle cx="179.17" cy="829.1" r="4" fill="#6a9bd3" stroke="#ffffff" stroke-width="0.9"/>
<circle cx="180.4" cy="829.1" r="4" fill="#6a9bd3" stroke="#ffffff" stroke-width="0.9"/>
<circle cx="181.63" cy="829.1" r="4" fill="#6a9bd3" stroke="#ffffff" stroke-width="0.9"/>
<circle cx="182.86" cy="829.1" r="4" fill="#6a9bd3" stroke="#ffffff" stroke-width="0.9"/>
<circle cx="184.08" cy="829.1" r="4" fill="#6a9bd3" stroke="#ffffff" stroke-width="0.9"/>
<circle cx="185.31" cy="829.1" r="4" fill="#6a9bd3" stroke="#ffffff" stroke-width="0.9"/>
<circle cx="186.54" cy="829.1" r="4" fill="#6a9bd3" stroke="#ffffff" stroke-width="0.9"/>
<circle cx="187.77" cy="829.1" r="4" fill="#6a9bd3" stroke="#ffffff" stroke-width="0.9"/>
<circle cx="189" cy="829.1" r="4" fill="#6a9bd3" stroke="#ffffff" stroke-width="0.9"/>
<circle cx="190.23" cy="829.1" r="4" fill="#6a9bd3" stroke="#ffffff" stroke-width="0.9"/>
<circle cx="191.46" cy="829.1" r="4" fill="#6a9bd3" stroke="#ffffff" stroke-width="0.9"/>
<circle cx="192.69" cy="829.1" r="4" fill="#6a9bd3" stroke="#ffffff" stroke-width="0.9"/>
<circle cx="193.91" cy="829.1" r="4" fill="#6a9bd3" stroke="#ffffff" stroke-width="0.9"/>
<circle cx="195.14" cy="829.1" r="4" fill="#6a9bd3" stroke="#ffffff" stroke-width="0.9"/>
<circle cx="196.37" cy="829.1" r="4" fill="#6a9bd3" stroke="#ffffff" stroke-width="0.9"/>
<circle cx="197.6" cy="829.1" r="4" fill="#6a9bd3" stroke="#ffffff" stroke-width="0.9"/>
<circle cx="198.83" cy="829.1" r="4" fill="#6a9bd3" stroke="#ffffff" stroke-width="0.9"/>
<circle cx="200.06" cy="829.1" r="4" fill="#6a9bd3" stroke="#ffffff" stroke-width="0.9"/>
<circle cx="201.29" cy="829.09" r="4" fill="#6a9bd3" stroke="#ffffff" stroke-width="0.9"/>
<circle cx="202.52" cy="829.08" r="4" fill="#6a9bd3" stroke="#ffffff" stroke-width="0.9"/>
<circle cx="203.74" cy="829.08" r="4" fill="#6a9bd3" stroke="#ffffff" stroke-width="0.9"/>
<circle cx="204.97" cy="829.07" r="4" fill="#6a9bd3" stroke="#ffffff" stroke-width="0.9"/>
<circle cx="206.2" cy="829.06" r="4" fill="#6a9bd3" stroke="#ffffff" stroke-width="0.9"/>
<circle cx="207.43" cy="829.05" r="4" fill="#6a9bd3" stroke="#ffffff" stroke-width="0.9"/>
<circle cx="208.66" cy="829.04" r="4" fill="#6a9bd3" stroke="#ffffff" stroke-width="0.9"/>
<circle cx="209.89" cy="829.03" r="4" fill="#6a9bd3" stroke="#ffffff" stroke-width="0.9"/>
<circle cx="211.12" cy="829.03" r="4" fill="#6a9bd3" stroke="#ffffff" stroke-width="0.9"/>
<circle cx="212.34" cy="829.02" r="4" fill="#6a9bd3" stroke="#ffffff" stroke-width="0.9"/>
<circle cx="213.57" cy="829.01" r="4" fill="#6a9bd3" stroke="#ffffff" stroke-width="0.9"/>
<circle cx="214.8" cy="829" r="4" fill="#6a9bd3" stroke="#ffffff" stroke-width="0.9"/>
<circle cx="216.03" cy="828.9" r="4" fill="#6a9bd3" stroke="#ffffff" stroke-width="0.9"/>
<circle cx="217.26" cy="828.79" r="4" fill="#6a9bd3" stroke="#ffffff" stroke-width="0.9"/>
<circle cx="218.49" cy="828.67" r="4" fill="#6a9bd3" stroke="#ffffff" stroke-width="0.9"/>
<circle cx="219.72" cy="828.56" r="4" fill="#6a9bd3" stroke="#ffffff" stroke-width="0.9"/>
<circle cx="220.95" cy="828.45" r="4" fill="#6a9bd3" stroke="#ffffff" stroke-width="0.9"/>
<circle cx="222.17" cy="828.33" r="4" fill="#6a9bd3" stroke="#ffffff" stroke-width="0.9"/>
<circle cx="223.4" cy="828.22" r="4" fill="#6a9bd3" stroke="#ffffff" stroke-width="0.9"/>
<circle cx="224.63" cy="828.1" r="4" fill="#6a9bd3" stroke="#ffffff" stroke-width="0.9"/>
<circle cx="225.86" cy="827.99" r="4" fill="#6a9bd3" stroke="#ffffff" stroke-width="0.9"/>
<circle cx="227.09" cy="827.87" r="4" fill="#6a9bd3" stroke="#ffffff" stroke-width="0.9"/>
<circle cx="228.32" cy="827.76" r="4" fill="#6a9bd3" stroke="#ffffff" stroke-width="0.9"/>
<circle cx="229.55" cy="827.64" r="4" fill="#6a9bd3" stroke="#ffffff" stroke-width="0.9"/>
<circle cx="230.78" cy="827.45" r="4" fill="#6a9bd3" stroke="#ffffff" stroke-width="0.9"/>
<circle cx="232" cy="827.21" r="4" fill="#6a9bd3" stroke="#ffffff" stroke-width="0.9"/>
<circle cx="233.23" cy="826.97" r="4" fill="#6a9bd3" stroke="#ffffff" stroke-width="0.9"/>
<circle cx="234.46" cy="826.73" r="4" fill="#6a9bd3" stroke="#ffffff" stroke-width="0.9"/>
<circle cx="235.69" cy="826.49" r="4" fill="#6a9bd3" stroke="#ffffff" stroke-width="0.9"/>
<circle cx="236.92" cy="826.25" r="4" fill="#6a9bd3" stroke="#ffffff" stroke-width="0.9"/>
<circle cx="238.15" cy="825.98" r="4" fill="#6a9bd3" stroke="#ffffff" stroke-width="0.9"/>
<circle cx="239.38" cy="825.64" r="4" fill="#6a9bd3" stroke="#ffffff" stroke-width="0.9"/>
<circle cx="240.6" cy="825.31" r="4" fill="#6a9bd3" stroke="#ffffff" stroke-width="0.9"/>
<circle cx="241.83" cy="824.89" r="4" fill="#6a9bd3" stroke="#ffffff" stroke-width="0.9"/>
<circle cx="243.06" cy="824.42" r="4" fill="#6a9bd3" stroke="#ffffff" stroke-width="0.9"/>
<circle cx="244.29" cy="823.96" r="4" fill="#6a9bd3" stroke="#ffffff" stroke-width="0.9"/>
<circle cx="245.52" cy="823.49" r="4" fill="#6a9bd3" stroke="#ffffff" stroke-width="0.9"/>
<circle cx="246.75" cy="822.7" r="4" fill="#6a9bd3" stroke="#ffffff" stroke-width="0.9"/>
<circle cx="247.98" cy="821.91" r="4" fill="#6a9bd3" stroke="#ffffff" stroke-width="0.9"/>
<circle cx="249.21" cy="821.12" r="4" fill="#6a9bd3" stroke="#ffffff" stroke-width="0.9"/>
<circle cx="250.43" cy="820.29" r="4" fill="#6a9bd3" stroke="#ffffff" stroke-width="0.9"/>
<circle cx="251.66" cy="819.45" r="4" fill="#6a9bd3" stroke="#ffffff" stroke-width="0.9"/>
<circle cx="252.89" cy="818.61" r="4" fill="#6a9bd3" stroke="#ffffff" stroke-width="0.9"/>
<circle cx="254.12" cy="817.62" r="4" fill="#6a9bd3" stroke="#ffffff" stroke-width="0.9"/>
<circle cx="255.35" cy="816.59" r="4" fill="#6a9bd3" stroke="#ffffff" stroke-width="0.9"/>
<circle cx="256.58" cy="815.56" r="4" fill="#6a9bd3" stroke="#ffffff" stroke-width="0.9"/>
<circle cx="257.81" cy="814.53" r="4" fill="#6a9bd3" stroke="#ffffff" stroke-width="0.9"/>
<circle cx="259.04" cy="813.52" r="4" fill="#6a9bd3" stroke="#ffffff" stroke-width="0.9"/>
<circle cx="260.26" cy="812.51" r="4" fill="#6a9bd3" stroke="#ffffff" stroke-width="0.9"/>
<circle cx="261.49" cy="811.58" r="4" fill="#6a9bd3" stroke="#ffffff" stroke-width="0.9"/>
<circle cx="262.72" cy="810.77" r="4" fill="#6a9bd3" stroke="#ffffff" stroke-width="0.9"/>
<circle cx="263.95" cy="809.96" r="4" fill="#6a9bd3" stroke="#ffffff" stroke-width="0.9"/>
<circle cx="265.18" cy="809.15" r="4" fill="#6a9bd3" stroke="#ffffff" stroke-width="0.9"/>
<circle cx="266.41" cy="808.33" r="4" fill="#6a9bd3" stroke="#ffffff" stroke-width="0.9"/>
<circle cx="267.64" cy="807.51" r="4" fill="#6a9bd3" stroke="#ffffff" stroke-width="0.9"/>
<circle cx="268.87" cy="806.64" r="4" fill="#6a9bd3" stroke="#ffffff" stroke-width="0.9"/>
<circle cx="270.09" cy="805.44" r="4" fill="#6a9bd3" stroke="#ffffff" stroke-width="0.9"/>
<circle cx="271.32" cy="804.24" r="4" fill="#6a9bd3" stroke="#ffffff" stroke-width="0.9"/>
<circle cx="272.55" cy="803.05" r="4" fill="#6a9bd3" stroke="#ffffff" stroke-width="0.9"/>
<circle cx="273.78" cy="801.79" r="4" fill="#6a9bd3" stroke="#ffffff" stroke-width="0.9"/>
<circle cx="275.01" cy="800.53" r="4" fill="#6a9bd3" stroke="#ffffff" stroke-width="0.9"/>
<circle cx="276.24" cy="799.27" r="4" fill="#6a9bd3" stroke="#ffffff" stroke-width="0.9"/>
<circle cx="277.47" cy="798.21" r="4" fill="#6a9bd3" stroke="#ffffff" stroke-width="0.9"/>
<circle cx="278.69" cy="797.2" r="4" fill="#6a9bd3" stroke="#ffffff" stroke-width="0.9"/>
<circle cx="279.92" cy="796.19" r="4" fill="#6a9bd3" stroke="#ffffff" stroke-width="0.9"/>
<circle cx="281.15" cy="795.17" r="4" fill="#6a9bd3" stroke="#ffffff" stroke-width="0.9"/>
<circle cx="282.38" cy="794.13" r="4" fill="#6a9bd3" stroke="#ffffff" stroke-width="0.9"/>
<circle cx="283.61" cy="793.1" r="4" fill="#6a9bd3" stroke="#ffffff" stroke-width="0.9"/>
<circle cx="284.84" cy="791.95" r="4" fill="#6a9bd3" stroke="#ffffff" stroke-width="0.9"/>
<circle cx="286.07" cy="790.68" r="4" fill="#6a9bd3" stroke="#ffffff" stroke-width="0.9"/>
<circle cx="287.3" cy="789.42" r="4" fill="#6a9bd3" stroke="#ffffff" stroke-width="0.9"/>
<circle cx="288.52" cy="788.18" r="4" fill="#6a9bd3" stroke="#ffffff" stroke-width="0.9"/>
<circle cx="289.75" cy="786.95" r="4" fill="#6a9bd3" stroke="#ffffff" stroke-width="0.9"/>
<circle cx="290.98" cy="785.72" r="4" fill="#6a9bd3" stroke="#ffffff" stroke-width="0.9"/>
<circle cx="292.21" cy="784.47" r="4" fill="#6a9bd3" stroke="#ffffff" stroke-width="0.9"/>
<circle cx="293.44" cy="783.14" r="4" fill="#6a9bd3" stroke="#ffffff" stroke-width="0.9"/>
<circle cx="294.67" cy="781.85" r="4" fill="#6a9bd3" stroke="#ffffff" stroke-width="0.9"/>
<circle cx="295.9" cy="780.76" r="4" fill="#6a9bd3" stroke="#ffffff" stroke-width="0.9"/>
<circle cx="297.13" cy="779.71" r="4" fill="#6a9bd3" stroke="#ffffff" stroke-width="0.9"/>
<circle cx="298.35" cy="780.09" r="4" fill="#6a9bd3" stroke="#ffffff" stroke-width="0.9"/>
<circle cx="299.58" cy="780.46" r="4" fill="#6a9bd3" stroke="#ffffff" stroke-width="0.9"/>
<circle cx="300.81" cy="781.27" r="4" fill="#6a9bd3" stroke="#ffffff" stroke-width="0.9"/>
<circle cx="302.04" cy="782.12" r="4" fill="#6a9bd3" stroke="#ffffff" stroke-width="0.9"/>
<circle cx="303.27" cy="783.15" r="4" fill="#6a9bd3" stroke="#ffffff" stroke-width="0.9"/>
<circle cx="304.5" cy="784.23" r="4" fill="#6a9bd3" stroke="#ffffff" stroke-width="0.9"/>
<circle cx="305.73" cy="785.53" r="4" fill="#6a9bd3" stroke="#ffffff" stroke-width="0.9"/>
<circle cx="306.95" cy="786.9" r="4" fill="#6a9bd3" stroke="#ffffff" stroke-width="0.9"/>
<circle cx="308.18" cy="788.48" r="4" fill="#6a9bd3" stroke="#ffffff" stroke-width="0.9"/>
<circle cx="309.41" cy="790.19" r="4" fill="#6a9bd3" stroke="#ffffff" stroke-width="0.9"/>
<circle cx="310.64" cy="792.04" r="4" fill="#6a9bd3" stroke="#ffffff" stroke-width="0.9"/>
<circle cx="311.87" cy="794.02" r="4" fill="#6a9bd3" stroke="#ffffff" stroke-width="0.9"/>
<circle cx="313.1" cy="795.83" r="4" fill="#6a9bd3" stroke="#ffffff" stroke-width="0.9"/>
<circle cx="314.33" cy="797.39" r="4" fill="#6a9bd3" stroke="#ffffff" stroke-width="0.9"/>
<circle cx="315.56" cy="798.94" r="4" fill="#6a9bd3" stroke="#ffffff" stroke-width="0.9"/>
<circle cx="316.78" cy="800.46" r="4" fill="#6a9bd3" stroke="#ffffff" stroke-width="0.9"/>
<circle cx="318.01" cy="801.95" r="4" fill="#6a9bd3" stroke="#ffffff" stroke-width="0.9"/>
<circle cx="319.24" cy="803.32" r="4" fill="#6a9bd3" stroke="#ffffff" stroke-width="0.9"/>
<circle cx="320.47" cy="804.65" r="4" fill="#6a9bd3" stroke="#ffffff" stroke-width="0.9"/>
<circle cx="321.7" cy="805.74" r="4" fill="#6a9bd3" stroke="#ffffff" stroke-width="0.9"/>
<circle cx="322.93" cy="806.82" r="4" fill="#6a9bd3" stroke="#ffffff" stroke-width="0.9"/>
<circle cx="324.16" cy="807.52" r="4" fill="#6a9bd3" stroke="#ffffff" stroke-width="0.9"/>
<circle cx="325.39" cy="808.23" r="4" fill="#6a9bd3" stroke="#ffffff" stroke-width="0.9"/>
<circle cx="326.61" cy="808.77" r="4" fill="#6a9bd3" stroke="#ffffff" stroke-width="0.9"/>
<circle cx="327.84" cy="809.29" r="4" fill="#6a9bd3" stroke="#ffffff" stroke-width="0.9"/>
<circle cx="329.07" cy="809.33" r="4" fill="#6a9bd3" stroke="#ffffff" stroke-width="0.9"/>
<circle cx="330.3" cy="809.23" r="4" fill="#6a9bd3" stroke="#ffffff" stroke-width="0.9"/>
<circle cx="331.53" cy="808.84" r="4" fill="#6a9bd3" stroke="#ffffff" stroke-width="0.9"/>
<circle cx="332.76" cy="808.29" r="4" fill="#6a9bd3" stroke="#ffffff" stroke-width="0.9"/>
<circle cx="333.99" cy="807.31" r="4" fill="#6a9bd3" stroke="#ffffff" stroke-width="0.9"/>
<circle cx="335.21" cy="806.09" r="4" fill="#6a9bd3" stroke="#ffffff" stroke-width="0.9"/>
<circle cx="336.44" cy="804.53" r="4" fill="#6a9bd3" stroke="#ffffff" stroke-width="0.9"/>
<circle cx="337.67" cy="802.69" r="4" fill="#6a9bd3" stroke="#ffffff" stroke-width="0.9"/>
<circle cx="338.9" cy="800.62" r="4" fill="#6a9bd3" stroke="#ffffff" stroke-width="0.9"/>
<circle cx="340.13" cy="798.21" r="4" fill="#6a9bd3" stroke="#ffffff" stroke-width="0.9"/>
<circle cx="342.59" cy="792.37" r="4" fill="#6a9bd3" stroke="#ffffff" stroke-width="0.9"/>
<circle cx="343.82" cy="789.21" r="4" fill="#6a9bd3" stroke="#ffffff" stroke-width="0.9"/>
<circle cx="346.27" cy="782.84" r="4" fill="#6a9bd3" stroke="#ffffff" stroke-width="0.9"/>
<circle cx="347.5" cy="779.42" r="4" fill="#6a9bd3" stroke="#ffffff" stroke-width="0.9"/>
<circle cx="349.96" cy="772.82" r="4" fill="#6a9bd3" stroke="#ffffff" stroke-width="0.9"/>
<circle cx="351.19" cy="769.69" r="4" fill="#6a9bd3" stroke="#ffffff" stroke-width="0.9"/>
<circle cx="353.65" cy="764.71" r="4" fill="#6a9bd3" stroke="#ffffff" stroke-width="0.9"/>
<circle cx="354.87" cy="762.25" r="4" fill="#6a9bd3" stroke="#ffffff" stroke-width="0.9"/>
<circle cx="357.33" cy="757.27" r="4" fill="#6a9bd3" stroke="#ffffff" stroke-width="0.9"/>
<circle cx="358.56" cy="754.71" r="4" fill="#6a9bd3" stroke="#ffffff" stroke-width="0.9"/>
<circle cx="361.02" cy="749.84" r="4" fill="#6a9bd3" stroke="#ffffff" stroke-width="0.9"/>
<circle cx="362.25" cy="747.71" r="4" fill="#6a9bd3" stroke="#ffffff" stroke-width="0.9"/>
<circle cx="363.47" cy="745.82" r="4" fill="#6a9bd3" stroke="#ffffff" stroke-width="0.9"/>
<circle cx="364.7" cy="743.98" r="4" fill="#6a9bd3" stroke="#ffffff" stroke-width="0.9"/>
<circle cx="365.93" cy="742.23" r="4" fill="#6a9bd3" stroke="#ffffff" stroke-width="0.9"/>
<circle cx="367.16" cy="740.51" r="4" fill="#6a9bd3" stroke="#ffffff" stroke-width="0.9"/>
<circle cx="368.39" cy="738.84" r="4" fill="#6a9bd3" stroke="#ffffff" stroke-width="0.9"/>
<circle cx="369.62" cy="737.22" r="4" fill="#6a9bd3" stroke="#ffffff" stroke-width="0.9"/>
<circle cx="370.85" cy="735.76" r="4" fill="#6a9bd3" stroke="#ffffff" stroke-width="0.9"/>
<circle cx="372.08" cy="734.31" r="4" fill="#6a9bd3" stroke="#ffffff" stroke-width="0.9"/>
<circle cx="373.3" cy="732.96" r="4" fill="#6a9bd3" stroke="#ffffff" stroke-width="0.9"/>
<circle cx="374.53" cy="731.62" r="4" fill="#6a9bd3" stroke="#ffffff" stroke-width="0.9"/>
<circle cx="375.76" cy="730.42" r="4" fill="#6a9bd3" stroke="#ffffff" stroke-width="0.9"/>
<circle cx="376.99" cy="729.34" r="4" fill="#6a9bd3" stroke="#ffffff" stroke-width="0.9"/>
<circle cx="378.22" cy="728.26" r="4" fill="#6a9bd3" stroke="#ffffff" stroke-width="0.9"/>
<circle cx="379.45" cy="729.42" r="4" fill="#6a9bd3" stroke="#ffffff" stroke-width="0.9"/>
<circle cx="380.68" cy="731.25" r="4" fill="#6a9bd3" stroke="#ffffff" stroke-width="0.9"/>
<circle cx="383.13" cy="736.91" r="4" fill="#6a9bd3" stroke="#ffffff" stroke-width="0.9"/>
<circle cx="384.36" cy="740.52" r="4" fill="#6a9bd3" stroke="#ffffff" stroke-width="0.9"/>
<circle cx="386.82" cy="748.15" r="4" fill="#6a9bd3" stroke="#ffffff" stroke-width="0.9"/>
<circle cx="388.05" cy="751.62" r="4" fill="#6a9bd3" stroke="#ffffff" stroke-width="0.9"/>
<circle cx="390.51" cy="757.96" r="4" fill="#6a9bd3" stroke="#ffffff" stroke-width="0.9"/>
<circle cx="391.74" cy="761.51" r="4" fill="#6a9bd3" stroke="#ffffff" stroke-width="0.9"/>
<circle cx="394.19" cy="768.04" r="4" fill="#6a9bd3" stroke="#ffffff" stroke-width="0.9"/>
<circle cx="395.42" cy="770.91" r="4" fill="#6a9bd3" stroke="#ffffff" stroke-width="0.9"/>
<circle cx="396.65" cy="772.61" r="4" fill="#6a9bd3" stroke="#ffffff" stroke-width="0.9"/>
<circle cx="397.88" cy="774.29" r="4" fill="#6a9bd3" stroke="#ffffff" stroke-width="0.9"/>
<circle cx="399.11" cy="775.72" r="4" fill="#6a9bd3" stroke="#ffffff" stroke-width="0.9"/>
<circle cx="400.34" cy="777.14" r="4" fill="#6a9bd3" stroke="#ffffff" stroke-width="0.9"/>
<circle cx="401.56" cy="778.41" r="4" fill="#6a9bd3" stroke="#ffffff" stroke-width="0.9"/>
<circle cx="402.79" cy="779.69" r="4" fill="#6a9bd3" stroke="#ffffff" stroke-width="0.9"/>
<circle cx="404.02" cy="780.88" r="4" fill="#6a9bd3" stroke="#ffffff" stroke-width="0.9"/>
<circle cx="405.25" cy="782.06" r="4" fill="#6a9bd3" stroke="#ffffff" stroke-width="0.9"/>
<circle cx="406.48" cy="783.28" r="4" fill="#6a9bd3" stroke="#ffffff" stroke-width="0.9"/>
<circle cx="407.71" cy="784.51" r="4" fill="#6a9bd3" stroke="#ffffff" stroke-width="0.9"/>
<circle cx="408.94" cy="785.74" r="4" fill="#6a9bd3" stroke="#ffffff" stroke-width="0.9"/>
<circle cx="410.17" cy="786.97" r="4" fill="#6a9bd3" stroke="#ffffff" stroke-width="0.9"/>
<circle cx="411.39" cy="788.59" r="4" fill="#6a9bd3" stroke="#ffffff" stroke-width="0.9"/>
<circle cx="412.62" cy="790.43" r="4" fill="#6a9bd3" stroke="#ffffff" stroke-width="0.9"/>
<circle cx="413.85" cy="792.28" r="4" fill="#6a9bd3" stroke="#ffffff" stroke-width="0.9"/>
<circle cx="415.08" cy="794.12" r="4" fill="#6a9bd3" stroke="#ffffff" stroke-width="0.9"/>
<circle cx="416.31" cy="795.65" r="4" fill="#6a9bd3" stroke="#ffffff" stroke-width="0.9"/>
<circle cx="417.54" cy="796.74" r="4" fill="#6a9bd3" stroke="#ffffff" stroke-width="0.9"/>
<circle cx="418.77" cy="797.71" r="4" fill="#6a9bd3" stroke="#ffffff" stroke-width="0.9"/>
<circle cx="420" cy="798.42" r="4" fill="#6a9bd3" stroke="#ffffff" stroke-width="0.9"/>
<circle cx="421.22" cy="799.07" r="4" fill="#6a9bd3" stroke="#ffffff" stroke-width="0.9"/>
<circle cx="422.45" cy="799.46" r="4" fill="#6a9bd3" stroke="#ffffff" stroke-width="0.9"/>
<circle cx="423.68" cy="799.85" r="4" fill="#6a9bd3" stroke="#ffffff" stroke-width="0.9"/>
<circle cx="424.91" cy="800.18" r="4" fill="#6a9bd3" stroke="#ffffff" stroke-width="0.9"/>
<circle cx="426.14" cy="800.24" r="4" fill="#6a9bd3" stroke="#ffffff" stroke-width="0.9"/>
<circle cx="427.37" cy="799.8" r="4" fill="#6a9bd3" stroke="#ffffff" stroke-width="0.9"/>
<circle cx="428.6" cy="799.34" r="4" fill="#6a9bd3" stroke="#ffffff" stroke-width="0.9"/>
<circle cx="429.82" cy="798.58" r="4" fill="#6a9bd3" stroke="#ffffff" stroke-width="0.9"/>
<circle cx="431.05" cy="797.82" r="4" fill="#6a9bd3" stroke="#ffffff" stroke-width="0.9"/>
<circle cx="432.28" cy="796.47" r="4" fill="#6a9bd3" stroke="#ffffff" stroke-width="0.9"/>
<circle cx="433.51" cy="794.89" r="4" fill="#6a9bd3" stroke="#ffffff" stroke-width="0.9"/>
<circle cx="434.74" cy="793.15" r="4" fill="#6a9bd3" stroke="#ffffff" stroke-width="0.9"/>
<circle cx="435.97" cy="791.22" r="4" fill="#6a9bd3" stroke="#ffffff" stroke-width="0.9"/>
<circle cx="437.2" cy="789.27" r="4" fill="#6a9bd3" stroke="#ffffff" stroke-width="0.9"/>
<circle cx="438.43" cy="787.24" r="4" fill="#6a9bd3" stroke="#ffffff" stroke-width="0.9"/>
<circle cx="439.65" cy="785.21" r="4" fill="#6a9bd3" stroke="#ffffff" stroke-width="0.9"/>
<circle cx="442.11" cy="780.77" r="4" fill="#6a9bd3" stroke="#ffffff" stroke-width="0.9"/>
<circle cx="443.34" cy="778.56" r="4" fill="#6a9bd3" stroke="#ffffff" stroke-width="0.9"/>
<circle cx="445.8" cy="774.19" r="4" fill="#6a9bd3" stroke="#ffffff" stroke-width="0.9"/>
<circle cx="447.03" cy="772.07" r="4" fill="#6a9bd3" stroke="#ffffff" stroke-width="0.9"/>
<circle cx="448.26" cy="769.95" r="4" fill="#6a9bd3" stroke="#ffffff" stroke-width="0.9"/>
<circle cx="449.48" cy="768.27" r="4" fill="#6a9bd3" stroke="#ffffff" stroke-width="0.9"/>
<circle cx="450.71" cy="766.64" r="4" fill="#6a9bd3" stroke="#ffffff" stroke-width="0.9"/>
<circle cx="451.94" cy="765.13" r="4" fill="#6a9bd3" stroke="#ffffff" stroke-width="0.9"/>
<circle cx="453.17" cy="763.69" r="4" fill="#6a9bd3" stroke="#ffffff" stroke-width="0.9"/>
<circle cx="454.4" cy="762.28" r="4" fill="#6a9bd3" stroke="#ffffff" stroke-width="0.9"/>
<circle cx="455.63" cy="760.96" r="4" fill="#6a9bd3" stroke="#ffffff" stroke-width="0.9"/>
<circle cx="456.86" cy="759.65" r="4" fill="#6a9bd3" stroke="#ffffff" stroke-width="0.9"/>
<circle cx="458.08" cy="758.5" r="4" fill="#6a9bd3" stroke="#ffffff" stroke-width="0.9"/>
<circle cx="459.31" cy="757.36" r="4" fill="#6a9bd3" stroke="#ffffff" stroke-width="0.9"/>
<circle cx="460.54" cy="756.7" r="4" fill="#6a9bd3" stroke="#ffffff" stroke-width="0.9"/>
<circle cx="461.77" cy="756.26" r="4" fill="#6a9bd3" stroke="#ffffff" stroke-width="0.9"/>
<circle cx="463" cy="755.91" r="4" fill="#6a9bd3" stroke="#ffffff" stroke-width="0.9"/>
<circle cx="464.23" cy="755.7" r="4" fill="#6a9bd3" stroke="#ffffff" stroke-width="0.9"/>
<circle cx="465.46" cy="755.52" r="4" fill="#6a9bd3" stroke="#ffffff" stroke-width="0.9"/>
<circle cx="466.69" cy="755.96" r="4" fill="#6a9bd3" stroke="#ffffff" stroke-width="0.9"/>
<circle cx="467.91" cy="756.4" r="4" fill="#6a9bd3" stroke="#ffffff" stroke-width="0.9"/>
<circle cx="469.14" cy="757.12" r="4" fill="#6a9bd3" stroke="#ffffff" stroke-width="0.9"/>
<circle cx="470.37" cy="757.92" r="4" fill="#6a9bd3" stroke="#ffffff" stroke-width="0.9"/>
<circle cx="471.6" cy="759.1" r="4" fill="#6a9bd3" stroke="#ffffff" stroke-width="0.9"/>
<circle cx="472.83" cy="760.81" r="4" fill="#6a9bd3" stroke="#ffffff" stroke-width="0.9"/>
<circle cx="474.06" cy="762.55" r="4" fill="#6a9bd3" stroke="#ffffff" stroke-width="0.9"/>
<circle cx="475.29" cy="764.5" r="4" fill="#6a9bd3" stroke="#ffffff" stroke-width="0.9"/>
<circle cx="476.52" cy="766.45" r="4" fill="#6a9bd3" stroke="#ffffff" stroke-width="0.9"/>
<circle cx="478.97" cy="771.63" r="4" fill="#6a9bd3" stroke="#ffffff" stroke-width="0.9"/>
<circle cx="480.2" cy="774.44" r="4" fill="#6a9bd3" stroke="#ffffff" stroke-width="0.9"/>
<circle cx="482.66" cy="780.22" r="4" fill="#6a9bd3" stroke="#ffffff" stroke-width="0.9"/>
<circle cx="483.89" cy="782.68" r="4" fill="#6a9bd3" stroke="#ffffff" stroke-width="0.9"/>
<circle cx="486.34" cy="787.55" r="4" fill="#6a9bd3" stroke="#ffffff" stroke-width="0.9"/>
<circle cx="487.57" cy="789.97" r="4" fill="#6a9bd3" stroke="#ffffff" stroke-width="0.9"/>
<circle cx="488.8" cy="791.97" r="4" fill="#6a9bd3" stroke="#ffffff" stroke-width="0.9"/>
<circle cx="490.03" cy="793.66" r="4" fill="#6a9bd3" stroke="#ffffff" stroke-width="0.9"/>
<circle cx="491.26" cy="795.29" r="4" fill="#6a9bd3" stroke="#ffffff" stroke-width="0.9"/>
<circle cx="492.49" cy="796.65" r="4" fill="#6a9bd3" stroke="#ffffff" stroke-width="0.9"/>
<circle cx="493.72" cy="798.01" r="4" fill="#6a9bd3" stroke="#ffffff" stroke-width="0.9"/>
<circle cx="494.95" cy="799" r="4" fill="#6a9bd3" stroke="#ffffff" stroke-width="0.9"/>
<circle cx="496.17" cy="799.97" r="4" fill="#6a9bd3" stroke="#ffffff" stroke-width="0.9"/>
<circle cx="497.4" cy="800.88" r="4" fill="#6a9bd3" stroke="#ffffff" stroke-width="0.9"/>
<circle cx="498.63" cy="801.77" r="4" fill="#6a9bd3" stroke="#ffffff" stroke-width="0.9"/>
<circle cx="499.86" cy="802.67" r="4" fill="#6a9bd3" stroke="#ffffff" stroke-width="0.9"/>
<circle cx="501.09" cy="803.59" r="4" fill="#6a9bd3" stroke="#ffffff" stroke-width="0.9"/>
<circle cx="502.32" cy="804.51" r="4" fill="#6a9bd3" stroke="#ffffff" stroke-width="0.9"/>
<circle cx="503.55" cy="805.4" r="4" fill="#6a9bd3" stroke="#ffffff" stroke-width="0.9"/>
<circle cx="504.78" cy="806.29" r="4" fill="#6a9bd3" stroke="#ffffff" stroke-width="0.9"/>
<circle cx="506" cy="807.15" r="4" fill="#6a9bd3" stroke="#ffffff" stroke-width="0.9"/>
<circle cx="507.23" cy="807.98" r="4" fill="#6a9bd3" stroke="#ffffff" stroke-width="0.9"/>
<circle cx="508.46" cy="808.8" r="4" fill="#6a9bd3" stroke="#ffffff" stroke-width="0.9"/>
<circle cx="509.69" cy="809.59" r="4" fill="#6a9bd3" stroke="#ffffff" stroke-width="0.9"/>
<circle cx="510.92" cy="810.35" r="4" fill="#6a9bd3" stroke="#ffffff" stroke-width="0.9"/>
<circle cx="512.15" cy="810.81" r="4" fill="#6a9bd3" stroke="#ffffff" stroke-width="0.9"/>
<circle cx="513.38" cy="811.28" r="4" fill="#6a9bd3" stroke="#ffffff" stroke-width="0.9"/>
<circle cx="514.61" cy="811.69" r="4" fill="#6a9bd3" stroke="#ffffff" stroke-width="0.9"/>
<circle cx="515.83" cy="812.09" r="4" fill="#6a9bd3" stroke="#ffffff" stroke-width="0.9"/>
<circle cx="517.06" cy="812.26" r="4" fill="#6a9bd3" stroke="#ffffff" stroke-width="0.9"/>
<circle cx="518.29" cy="812.18" r="4" fill="#6a9bd3" stroke="#ffffff" stroke-width="0.9"/>
<circle cx="519.52" cy="812.08" r="4" fill="#6a9bd3" stroke="#ffffff" stroke-width="0.9"/>
<circle cx="520.75" cy="811.91" r="4" fill="#6a9bd3" stroke="#ffffff" stroke-width="0.9"/>
<circle cx="521.98" cy="811.73" r="4" fill="#6a9bd3" stroke="#ffffff" stroke-width="0.9"/>
<circle cx="523.21" cy="811.56" r="4" fill="#6a9bd3" stroke="#ffffff" stroke-width="0.9"/>
<circle cx="524.43" cy="811.38" r="4" fill="#6a9bd3" stroke="#ffffff" stroke-width="0.9"/>
<circle cx="525.66" cy="811.21" r="4" fill="#6a9bd3" stroke="#ffffff" stroke-width="0.9"/>
<circle cx="526.89" cy="811.04" r="4" fill="#6a9bd3" stroke="#ffffff" stroke-width="0.9"/>
<circle cx="528.12" cy="810.84" r="4" fill="#6a9bd3" stroke="#ffffff" stroke-width="0.9"/>
<circle cx="529.35" cy="810.54" r="4" fill="#6a9bd3" stroke="#ffffff" stroke-width="0.9"/>
<circle cx="530.58" cy="810.23" r="4" fill="#6a9bd3" stroke="#ffffff" stroke-width="0.9"/>
<circle cx="531.81" cy="809.92" r="4" fill="#6a9bd3" stroke="#ffffff" stroke-width="0.9"/>
<circle cx="533.04" cy="809.62" r="4" fill="#6a9bd3" stroke="#ffffff" stroke-width="0.9"/>
<circle cx="534.26" cy="809.32" r="4" fill="#6a9bd3" stroke="#ffffff" stroke-width="0.9"/>
<circle cx="535.49" cy="809.02" r="4" fill="#6a9bd3" stroke="#ffffff" stroke-width="0.9"/>
<circle cx="536.72" cy="808.72" r="4" fill="#6a9bd3" stroke="#ffffff" stroke-width="0.9"/>
<circle cx="537.95" cy="808.41" r="4" fill="#6a9bd3" stroke="#ffffff" stroke-width="0.9"/>
<circle cx="539.18" cy="808.11" r="4" fill="#6a9bd3" stroke="#ffffff" stroke-width="0.9"/>
<circle cx="540.41" cy="807.5" r="4" fill="#6a9bd3" stroke="#ffffff" stroke-width="0.9"/>
<circle cx="541.64" cy="806.88" r="4" fill="#6a9bd3" stroke="#ffffff" stroke-width="0.9"/>
<circle cx="542.87" cy="806.25" r="4" fill="#6a9bd3" stroke="#ffffff" stroke-width="0.9"/>
<circle cx="544.09" cy="805.62" r="4" fill="#6a9bd3" stroke="#ffffff" stroke-width="0.9"/>
<circle cx="545.32" cy="804.99" r="4" fill="#6a9bd3" stroke="#ffffff" stroke-width="0.9"/>
<circle cx="546.55" cy="804.37" r="4" fill="#6a9bd3" stroke="#ffffff" stroke-width="0.9"/>
<circle cx="547.78" cy="803.76" r="4" fill="#6a9bd3" stroke="#ffffff" stroke-width="0.9"/>
<circle cx="549.01" cy="803.17" r="4" fill="#6a9bd3" stroke="#ffffff" stroke-width="0.9"/>
<circle cx="550.24" cy="802.58" r="4" fill="#6a9bd3" stroke="#ffffff" stroke-width="0.9"/>
<circle cx="551.47" cy="801.66" r="4" fill="#6a9bd3" stroke="#ffffff" stroke-width="0.9"/>
<circle cx="552.69" cy="800.6" r="4" fill="#6a9bd3" stroke="#ffffff" stroke-width="0.9"/>
<circle cx="553.92" cy="799.55" r="4" fill="#6a9bd3" stroke="#ffffff" stroke-width="0.9"/>
<circle cx="555.15" cy="798.5" r="4" fill="#6a9bd3" stroke="#ffffff" stroke-width="0.9"/>
<circle cx="556.38" cy="797.39" r="4" fill="#6a9bd3" stroke="#ffffff" stroke-width="0.9"/>
<circle cx="557.61" cy="795.94" r="4" fill="#6a9bd3" stroke="#ffffff" stroke-width="0.9"/>
<circle cx="558.84" cy="794.49" r="4" fill="#6a9bd3" stroke="#ffffff" stroke-width="0.9"/>
<circle cx="560.07" cy="793.09" r="4" fill="#6a9bd3" stroke="#ffffff" stroke-width="0.9"/>
<circle cx="561.3" cy="791.69" r="4" fill="#6a9bd3" stroke="#ffffff" stroke-width="0.9"/>
<circle cx="562.52" cy="790.22" r="4" fill="#6a9bd3" stroke="#ffffff" stroke-width="0.9"/>
<circle cx="563.75" cy="788.7" r="4" fill="#6a9bd3" stroke="#ffffff" stroke-width="0.9"/>
<circle cx="564.98" cy="787.17" r="4" fill="#6a9bd3" stroke="#ffffff" stroke-width="0.9"/>
<circle cx="566.21" cy="785.64" r="4" fill="#6a9bd3" stroke="#ffffff" stroke-width="0.9"/>
<circle cx="567.44" cy="784.1" r="4" fill="#6a9bd3" stroke="#ffffff" stroke-width="0.9"/>
<circle cx="568.67" cy="783.37" r="4" fill="#6a9bd3" stroke="#ffffff" stroke-width="0.9"/>
<circle cx="569.9" cy="782.75" r="4" fill="#6a9bd3" stroke="#ffffff" stroke-width="0.9"/>
<circle cx="571.13" cy="782.3" r="4" fill="#6a9bd3" stroke="#ffffff" stroke-width="0.9"/>
<circle cx="572.35" cy="781.96" r="4" fill="#6a9bd3" stroke="#ffffff" stroke-width="0.9"/>
<circle cx="573.58" cy="781.68" r="4" fill="#6a9bd3" stroke="#ffffff" stroke-width="0.9"/>
<circle cx="574.81" cy="781.59" r="4" fill="#6a9bd3" stroke="#ffffff" stroke-width="0.9"/>
<circle cx="576.04" cy="781.5" r="4" fill="#6a9bd3" stroke="#ffffff" stroke-width="0.9"/>
<circle cx="577.27" cy="781.58" r="4" fill="#6a9bd3" stroke="#ffffff" stroke-width="0.9"/>
<circle cx="578.5" cy="781.67" r="4" fill="#6a9bd3" stroke="#ffffff" stroke-width="0.9"/>
<circle cx="579.73" cy="782.11" r="4" fill="#6a9bd3" stroke="#ffffff" stroke-width="0.9"/>
<circle cx="580.95" cy="782.82" r="4" fill="#6a9bd3" stroke="#ffffff" stroke-width="0.9"/>
<circle cx="582.18" cy="783.59" r="4" fill="#6a9bd3" stroke="#ffffff" stroke-width="0.9"/>
<circle cx="583.41" cy="784.51" r="4" fill="#6a9bd3" stroke="#ffffff" stroke-width="0.9"/>
<circle cx="584.64" cy="785.45" r="4" fill="#6a9bd3" stroke="#ffffff" stroke-width="0.9"/>
<circle cx="585.87" cy="786.84" r="4" fill="#6a9bd3" stroke="#ffffff" stroke-width="0.9"/>
<circle cx="587.1" cy="788.24" r="4" fill="#6a9bd3" stroke="#ffffff" stroke-width="0.9"/>
<circle cx="588.33" cy="789.79" r="4" fill="#6a9bd3" stroke="#ffffff" stroke-width="0.9"/>
<circle cx="589.56" cy="791.42" r="4" fill="#6a9bd3" stroke="#ffffff" stroke-width="0.9"/>
<circle cx="590.78" cy="793.27" r="4" fill="#6a9bd3" stroke="#ffffff" stroke-width="0.9"/>
<circle cx="593.24" cy="797.64" r="4" fill="#6a9bd3" stroke="#ffffff" stroke-width="0.9"/>
<circle cx="594.47" cy="799.76" r="4" fill="#6a9bd3" stroke="#ffffff" stroke-width="0.9"/>
<circle cx="595.7" cy="801.88" r="4" fill="#6a9bd3" stroke="#ffffff" stroke-width="0.9"/>
<circle cx="596.93" cy="803.59" r="4" fill="#6a9bd3" stroke="#ffffff" stroke-width="0.9"/>
<circle cx="598.16" cy="805.17" r="4" fill="#6a9bd3" stroke="#ffffff" stroke-width="0.9"/>
<circle cx="599.39" cy="806.71" r="4" fill="#6a9bd3" stroke="#ffffff" stroke-width="0.9"/>
<circle cx="600.61" cy="808.19" r="4" fill="#6a9bd3" stroke="#ffffff" stroke-width="0.9"/>
<circle cx="601.84" cy="809.58" r="4" fill="#6a9bd3" stroke="#ffffff" stroke-width="0.9"/>
<circle cx="603.07" cy="810.23" r="4" fill="#6a9bd3" stroke="#ffffff" stroke-width="0.9"/>
<circle cx="604.3" cy="810.89" r="4" fill="#6a9bd3" stroke="#ffffff" stroke-width="0.9"/>
<circle cx="605.53" cy="811.48" r="4" fill="#6a9bd3" stroke="#ffffff" stroke-width="0.9"/>
<circle cx="606.76" cy="812.05" r="4" fill="#6a9bd3" stroke="#ffffff" stroke-width="0.9"/>
<circle cx="607.99" cy="812.37" r="4" fill="#6a9bd3" stroke="#ffffff" stroke-width="0.9"/>
<circle cx="609.21" cy="812.51" r="4" fill="#6a9bd3" stroke="#ffffff" stroke-width="0.9"/>
<circle cx="610.44" cy="812.64" r="4" fill="#6a9bd3" stroke="#ffffff" stroke-width="0.9"/>
<circle cx="611.67" cy="812.76" r="4" fill="#6a9bd3" stroke="#ffffff" stroke-width="0.9"/>
<circle cx="612.9" cy="812.89" r="4" fill="#6a9bd3" stroke="#ffffff" stroke-width="0.9"/>
<circle cx="614.13" cy="812.9" r="4" fill="#6a9bd3" stroke="#ffffff" stroke-width="0.9"/>
<circle cx="615.36" cy="812.9" r="4" fill="#6a9bd3" stroke="#ffffff" stroke-width="0.9"/>
<circle cx="616.59" cy="812.9" r="4" fill="#6a9bd3" stroke="#ffffff" stroke-width="0.9"/>
<circle cx="617.82" cy="812.9" r="4" fill="#6a9bd3" stroke="#ffffff" stroke-width="0.9"/>
<circle cx="619.04" cy="812.95" r="4" fill="#6a9bd3" stroke="#ffffff" stroke-width="0.9"/>
<circle cx="620.27" cy="813.12" r="4" fill="#6a9bd3" stroke="#ffffff" stroke-width="0.9"/>
<circle cx="621.5" cy="813.3" r="4" fill="#6a9bd3" stroke="#ffffff" stroke-width="0.9"/>
<circle cx="622.73" cy="813.47" r="4" fill="#6a9bd3" stroke="#ffffff" stroke-width="0.9"/>
<circle cx="623.96" cy="813.64" r="4" fill="#6a9bd3" stroke="#ffffff" stroke-width="0.9"/>
<circle cx="625.19" cy="813.9" r="4" fill="#6a9bd3" stroke="#ffffff" stroke-width="0.9"/>
<circle cx="626.42" cy="814.2" r="4" fill="#6a9bd3" stroke="#ffffff" stroke-width="0.9"/>
<circle cx="627.65" cy="814.53" r="4" fill="#6a9bd3" stroke="#ffffff" stroke-width="0.9"/>
<circle cx="628.87" cy="814.88" r="4" fill="#6a9bd3" stroke="#ffffff" stroke-width="0.9"/>
<circle cx="630.1" cy="815.26" r="4" fill="#6a9bd3" stroke="#ffffff" stroke-width="0.9"/>
<circle cx="631.33" cy="815.93" r="4" fill="#6a9bd3" stroke="#ffffff" stroke-width="0.9"/>
<circle cx="632.56" cy="816.61" r="4" fill="#6a9bd3" stroke="#ffffff" stroke-width="0.9"/>
<circle cx="633.79" cy="817.02" r="4" fill="#6a9bd3" stroke="#ffffff" stroke-width="0.9"/>
<circle cx="635.02" cy="817.33" r="4" fill="#6a9bd3" stroke="#ffffff" stroke-width="0.9"/>
<circle cx="636.25" cy="817.47" r="4" fill="#6a9bd3" stroke="#ffffff" stroke-width="0.9"/>
<circle cx="637.48" cy="816.37" r="4" fill="#6a9bd3" stroke="#ffffff" stroke-width="0.9"/>
<circle cx="638.7" cy="815.27" r="4" fill="#6a9bd3" stroke="#ffffff" stroke-width="0.9"/>
<circle cx="639.93" cy="813.98" r="4" fill="#6a9bd3" stroke="#ffffff" stroke-width="0.9"/>
<circle cx="641.16" cy="812.64" r="4" fill="#6a9bd3" stroke="#ffffff" stroke-width="0.9"/>
<circle cx="642.39" cy="811.21" r="4" fill="#6a9bd3" stroke="#ffffff" stroke-width="0.9"/>
<circle cx="643.62" cy="809.34" r="4" fill="#6a9bd3" stroke="#ffffff" stroke-width="0.9"/>
<circle cx="644.85" cy="807.35" r="4" fill="#6a9bd3" stroke="#ffffff" stroke-width="0.9"/>
<circle cx="646.08" cy="805.06" r="4" fill="#6a9bd3" stroke="#ffffff" stroke-width="0.9"/>
<circle cx="648.53" cy="800.33" r="4" fill="#6a9bd3" stroke="#ffffff" stroke-width="0.9"/>
<circle cx="649.76" cy="797.81" r="4" fill="#6a9bd3" stroke="#ffffff" stroke-width="0.9"/>
<circle cx="652.22" cy="790.62" r="4" fill="#6a9bd3" stroke="#ffffff" stroke-width="0.9"/>
<circle cx="653.45" cy="787.06" r="4" fill="#6a9bd3" stroke="#ffffff" stroke-width="0.9"/>
<circle cx="655.91" cy="780.75" r="4" fill="#6a9bd3" stroke="#ffffff" stroke-width="0.9"/>
<circle cx="657.13" cy="776.69" r="4" fill="#6a9bd3" stroke="#ffffff" stroke-width="0.9"/>
<circle cx="659.59" cy="766.04" r="4" fill="#6a9bd3" stroke="#ffffff" stroke-width="0.9"/>
<circle cx="660.82" cy="761.97" r="4" fill="#6a9bd3" stroke="#ffffff" stroke-width="0.9"/>
<circle cx="663.28" cy="751.42" r="4" fill="#6a9bd3" stroke="#ffffff" stroke-width="0.9"/>
<circle cx="664.51" cy="747.14" r="4" fill="#6a9bd3" stroke="#ffffff" stroke-width="0.9"/>
<circle cx="666.96" cy="739.02" r="4" fill="#6a9bd3" stroke="#ffffff" stroke-width="0.9"/>
<circle cx="668.19" cy="735.11" r="4" fill="#6a9bd3" stroke="#ffffff" stroke-width="0.9"/>
<circle cx="670.65" cy="728.89" r="4" fill="#6a9bd3" stroke="#ffffff" stroke-width="0.9"/>
<circle cx="671.88" cy="726.24" r="4" fill="#6a9bd3" stroke="#ffffff" stroke-width="0.9"/>
<circle cx="674.34" cy="721.33" r="4" fill="#6a9bd3" stroke="#ffffff" stroke-width="0.9"/>
<circle cx="675.56" cy="719.14" r="4" fill="#6a9bd3" stroke="#ffffff" stroke-width="0.9"/>
<circle cx="678.02" cy="715.08" r="4" fill="#6a9bd3" stroke="#ffffff" stroke-width="0.9"/>
<circle cx="679.25" cy="713.05" r="4" fill="#6a9bd3" stroke="#ffffff" stroke-width="0.9"/>
<circle cx="681.71" cy="708.18" r="4" fill="#6a9bd3" stroke="#ffffff" stroke-width="0.9"/>
<circle cx="682.94" cy="705.73" r="4" fill="#6a9bd3" stroke="#ffffff" stroke-width="0.9"/>
<circle cx="685.39" cy="700.13" r="4" fill="#6a9bd3" stroke="#ffffff" stroke-width="0.9"/>
<circle cx="686.62" cy="698.3" r="4" fill="#6a9bd3" stroke="#ffffff" stroke-width="0.9"/>
<circle cx="687.85" cy="698.85" r="4" fill="#6a9bd3" stroke="#ffffff" stroke-width="0.9"/>
<circle cx="689.08" cy="700.47" r="4" fill="#6a9bd3" stroke="#ffffff" stroke-width="0.9"/>
<circle cx="690.31" cy="702.62" r="4" fill="#6a9bd3" stroke="#ffffff" stroke-width="0.9"/>
<circle cx="692.77" cy="707.53" r="4" fill="#6a9bd3" stroke="#ffffff" stroke-width="0.9"/>
<circle cx="694" cy="711.38" r="4" fill="#6a9bd3" stroke="#ffffff" stroke-width="0.9"/>
<circle cx="696.45" cy="716.17" r="4" fill="#6a9bd3" stroke="#ffffff" stroke-width="0.9"/>
<circle cx="697.68" cy="719.13" r="4" fill="#6a9bd3" stroke="#ffffff" stroke-width="0.9"/>
<circle cx="700.14" cy="725.01" r="4" fill="#6a9bd3" stroke="#ffffff" stroke-width="0.9"/>
<circle cx="701.37" cy="727.89" r="4" fill="#6a9bd3" stroke="#ffffff" stroke-width="0.9"/>
<circle cx="703.82" cy="733.24" r="4" fill="#6a9bd3" stroke="#ffffff" stroke-width="0.9"/>
<circle cx="705.05" cy="735.48" r="4" fill="#6a9bd3" stroke="#ffffff" stroke-width="0.9"/>
<circle cx="707.51" cy="739.57" r="4" fill="#6a9bd3" stroke="#ffffff" stroke-width="0.9"/>
<circle cx="708.74" cy="741.39" r="4" fill="#6a9bd3" stroke="#ffffff" stroke-width="0.9"/>
<circle cx="709.97" cy="743.12" r="4" fill="#6a9bd3" stroke="#ffffff" stroke-width="0.9"/>
<circle cx="711.2" cy="744.85" r="4" fill="#6a9bd3" stroke="#ffffff" stroke-width="0.9"/>
<circle cx="712.43" cy="746.54" r="4" fill="#6a9bd3" stroke="#ffffff" stroke-width="0.9"/>
<circle cx="713.65" cy="748.24" r="4" fill="#6a9bd3" stroke="#ffffff" stroke-width="0.9"/>
<circle cx="714.88" cy="749.97" r="4" fill="#6a9bd3" stroke="#ffffff" stroke-width="0.9"/>
<circle cx="716.11" cy="751.71" r="4" fill="#6a9bd3" stroke="#ffffff" stroke-width="0.9"/>
<circle cx="717.34" cy="753.45" r="4" fill="#6a9bd3" stroke="#ffffff" stroke-width="0.9"/>
<circle cx="718.57" cy="755.18" r="4" fill="#6a9bd3" stroke="#ffffff" stroke-width="0.9"/>
<circle cx="719.8" cy="756.97" r="4" fill="#6a9bd3" stroke="#ffffff" stroke-width="0.9"/>
<circle cx="721.03" cy="758.92" r="4" fill="#6a9bd3" stroke="#ffffff" stroke-width="0.9"/>
<circle cx="722.26" cy="760.87" r="4" fill="#6a9bd3" stroke="#ffffff" stroke-width="0.9"/>
<circle cx="723.48" cy="762.82" r="4" fill="#6a9bd3" stroke="#ffffff" stroke-width="0.9"/>
<circle cx="725.94" cy="767.01" r="4" fill="#6a9bd3" stroke="#ffffff" stroke-width="0.9"/>
<circle cx="727.17" cy="769.52" r="4" fill="#6a9bd3" stroke="#ffffff" stroke-width="0.9"/>
<circle cx="729.63" cy="774.46" r="4" fill="#6a9bd3" stroke="#ffffff" stroke-width="0.9"/>
<circle cx="730.86" cy="776.59" r="4" fill="#6a9bd3" stroke="#ffffff" stroke-width="0.9"/>
<circle cx="733.31" cy="780.66" r="4" fill="#6a9bd3" stroke="#ffffff" stroke-width="0.9"/>
<circle cx="734.54" cy="782.65" r="4" fill="#6a9bd3" stroke="#ffffff" stroke-width="0.9"/>
</g>
<rect x="686.3" y="718.3" width="74" height="57.8" rx="7" ry="7" fill="rgba(255,255,255,0.8)" stroke="#e2e2e2" stroke-width="2"/>
<circle cx="735.77" cy="784.64" r="3.8" fill="#6a9bd3" stroke="none"/>
<text x="722.5" y="741" text-anchor="middle" font-family="'Liberation Sans',Arial,sans-serif" font-size="12" font-weight="bold" fill="#5a5a5a">5/9/2021</text>
<text x="722.7" y="762" text-anchor="middle" font-family="'Liberation Sans',Arial,sans-serif" font-size="12" fill="#6c98cd">IA 14d: 235</text>
</svg>
</body></html>
